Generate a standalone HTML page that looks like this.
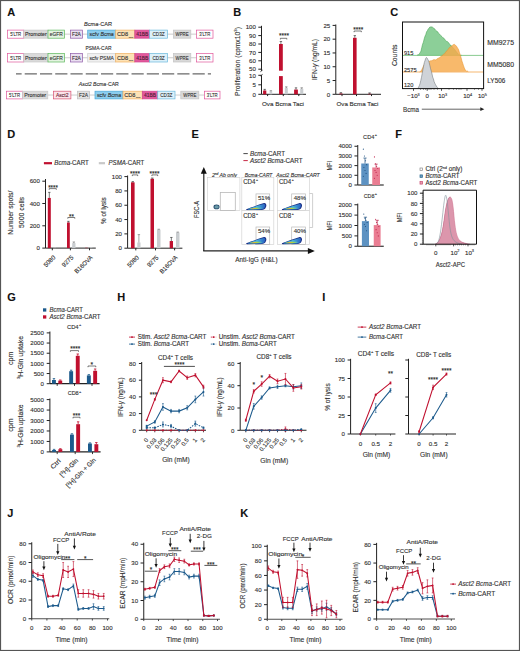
<!DOCTYPE html>
<html><head><meta charset="utf-8"><style>
html,body{margin:0;padding:0;background:#fff;}
svg{display:block;font-family:"Liberation Sans", sans-serif;}
text{stroke:#2a2a2a;stroke-width:0.12px;}
</style></head><body>
<svg width="520" height="651" viewBox="0 0 520 651" fill="#333">
<defs><linearGradient id="bg1" x1="0" y1="0" x2="1" y2="0"><stop offset="0" stop-color="#3aa0d8"/><stop offset="0.5" stop-color="#48b8e0"/><stop offset="1" stop-color="#2a60c0"/></linearGradient><linearGradient id="bg2" x1="0" y1="0" x2="1" y2="0"><stop offset="0" stop-color="#7cc850"/><stop offset="0.35" stop-color="#e8b030"/><stop offset="0.6" stop-color="#a8d840"/><stop offset="1" stop-color="#50c0d0"/></linearGradient></defs>
<rect x="0" y="0" width="520" height="651" fill="#fff"/>
<text x="7.30" y="16.00" font-size="11" fill="#111" font-weight="bold" stroke="#111" stroke-width="0.45">A</text>
<text x="98" y="26.3" font-size="5.6" text-anchor="middle" fill="#333"><tspan font-style="italic">Bcma</tspan>-CAR</text>
<line x1="7.60" y1="34.15" x2="213.00" y2="34.15" stroke="#9a9a9a" stroke-width="0.5" />
<rect x="7.60" y="30.10" width="16.20" height="8.10" fill="#fff" stroke="#e0569b" stroke-width="0.7" />
<text x="15.70" y="36.25" font-size="5.9" text-anchor="middle" textLength="10.90" lengthAdjust="spacingAndGlyphs">5'LTR</text>
<rect x="23.80" y="30.10" width="24.20" height="8.10" fill="#dadada" stroke="#c8c8c8" stroke-width="0.7" />
<text x="35.90" y="36.25" font-size="5.9" text-anchor="middle" textLength="21.80" lengthAdjust="spacingAndGlyphs">Promoter</text>
<rect x="48.00" y="30.10" width="16.60" height="8.10" fill="#e3f3e0" stroke="#5cb85c" stroke-width="0.7" />
<text x="56.30" y="36.25" font-size="5.9" text-anchor="middle" textLength="13.10" lengthAdjust="spacingAndGlyphs">eGFR</text>
<rect x="70.40" y="30.10" width="12.00" height="8.10" fill="#eadff0" stroke="#8e5aa8" stroke-width="0.7" />
<text x="76.40" y="36.25" font-size="5.9" text-anchor="middle" textLength="9.00" lengthAdjust="spacingAndGlyphs">F2A</text>
<rect x="87.70" y="30.10" width="28.00" height="8.10" fill="#8ccdee" stroke="#4aa8d8" stroke-width="0.7" />
<text x="101.70" y="36.25" font-size="5.9" text-anchor="middle"></text>
<text x="101.70" y="36.25" font-size="5.9" text-anchor="middle" fill="#333" textLength="24.2" lengthAdjust="spacingAndGlyphs">scfv <tspan font-style="italic">Bcma</tspan></text>
<rect x="115.70" y="30.10" width="19.10" height="8.10" fill="#fde2b5" stroke="#f0b060" stroke-width="0.7" />
<text x="117.00" y="36.25" font-size="5.9" fill="#333" textLength="11.2" lengthAdjust="spacingAndGlyphs">CD8</text>
<text x="128.70" y="37.55" font-size="2.4" fill="#666" stroke="none" textLength="4.5" lengthAdjust="spacingAndGlyphs">hinge/TM</text>
<rect x="134.80" y="30.10" width="14.80" height="8.10" fill="#e2589c" stroke="#d04890" stroke-width="0.7" />
<text x="142.20" y="36.25" font-size="5.9" text-anchor="middle" fill="#5a1838" textLength="11.90" lengthAdjust="spacingAndGlyphs">41BB</text>
<rect x="149.60" y="30.10" width="17.80" height="8.10" fill="#dcf0f9" stroke="#6ab8dc" stroke-width="0.7" />
<text x="158.50" y="36.25" font-size="5.9" text-anchor="middle" textLength="12.20" lengthAdjust="spacingAndGlyphs">CD3Z</text>
<rect x="173.40" y="30.10" width="17.40" height="8.10" fill="#d9d9d9" stroke="#c4c4c4" stroke-width="0.7" />
<text x="182.10" y="36.25" font-size="5.9" text-anchor="middle" textLength="13.00" lengthAdjust="spacingAndGlyphs">WPRE</text>
<rect x="196.50" y="30.10" width="16.50" height="8.10" fill="#fff" stroke="#e0569b" stroke-width="0.7" />
<text x="204.75" y="36.25" font-size="5.9" text-anchor="middle" textLength="11.00" lengthAdjust="spacingAndGlyphs">3'LTR</text>
<text x="98.50" y="50.30" font-size="5.6" text-anchor="middle" textLength="26.00" lengthAdjust="spacingAndGlyphs">PSMA-CAR</text>
<line x1="7.60" y1="57.75" x2="213.00" y2="57.75" stroke="#9a9a9a" stroke-width="0.5" />
<rect x="7.60" y="53.50" width="16.20" height="8.50" fill="#fff" stroke="#e0569b" stroke-width="0.7" />
<text x="15.70" y="59.85" font-size="5.9" text-anchor="middle" textLength="10.90" lengthAdjust="spacingAndGlyphs">5'LTR</text>
<rect x="23.80" y="53.50" width="24.20" height="8.50" fill="#dadada" stroke="#c8c8c8" stroke-width="0.7" />
<text x="35.90" y="59.85" font-size="5.9" text-anchor="middle" textLength="21.80" lengthAdjust="spacingAndGlyphs">Promoter</text>
<rect x="48.00" y="53.50" width="16.60" height="8.50" fill="#e3f3e0" stroke="#5cb85c" stroke-width="0.7" />
<text x="56.30" y="59.85" font-size="5.9" text-anchor="middle" textLength="13.10" lengthAdjust="spacingAndGlyphs">eGFR</text>
<rect x="70.40" y="53.50" width="12.00" height="8.50" fill="#eadff0" stroke="#8e5aa8" stroke-width="0.7" />
<text x="76.40" y="59.85" font-size="5.9" text-anchor="middle" textLength="9.00" lengthAdjust="spacingAndGlyphs">F2A</text>
<rect x="87.70" y="53.50" width="28.00" height="8.50" fill="#f0f0f0" stroke="#cfcfcf" stroke-width="0.7" />
<text x="101.70" y="59.85" font-size="5.9" text-anchor="middle" textLength="24.50" lengthAdjust="spacingAndGlyphs">scfv PSMA</text>
<rect x="115.70" y="53.50" width="19.10" height="8.50" fill="#fde2b5" stroke="#f0b060" stroke-width="0.7" />
<text x="117.00" y="59.85" font-size="5.9" fill="#333" textLength="11.2" lengthAdjust="spacingAndGlyphs">CD8</text>
<text x="128.70" y="61.15" font-size="2.4" fill="#666" stroke="none" textLength="4.5" lengthAdjust="spacingAndGlyphs">hinge/TM</text>
<rect x="134.80" y="53.50" width="14.80" height="8.50" fill="#e2589c" stroke="#d04890" stroke-width="0.7" />
<text x="142.20" y="59.85" font-size="5.9" text-anchor="middle" fill="#5a1838" textLength="11.90" lengthAdjust="spacingAndGlyphs">41BB</text>
<rect x="149.60" y="53.50" width="17.80" height="8.50" fill="#dcf0f9" stroke="#6ab8dc" stroke-width="0.7" />
<text x="158.50" y="59.85" font-size="5.9" text-anchor="middle" textLength="12.20" lengthAdjust="spacingAndGlyphs">CD3Z</text>
<rect x="173.40" y="53.50" width="17.40" height="8.50" fill="#d9d9d9" stroke="#c4c4c4" stroke-width="0.7" />
<text x="182.10" y="59.85" font-size="5.9" text-anchor="middle" textLength="13.00" lengthAdjust="spacingAndGlyphs">WPRE</text>
<rect x="196.50" y="53.50" width="16.50" height="8.50" fill="#fff" stroke="#e0569b" stroke-width="0.7" />
<text x="204.75" y="59.85" font-size="5.9" text-anchor="middle" textLength="11.00" lengthAdjust="spacingAndGlyphs">3'LTR</text>
<line x1="16.00" y1="73.80" x2="211.00" y2="73.80" stroke="#6a6a6a" stroke-width="1.3" stroke-dasharray="12.2 3.06" stroke-dashoffset="6.56"/>
<text x="98.8" y="85.8" font-size="5.6" text-anchor="middle" fill="#333" font-style="italic" textLength="40" lengthAdjust="spacingAndGlyphs">Asct2 Bcma<tspan font-style="normal">-CAR</tspan></text>
<line x1="6.50" y1="95.05" x2="220.00" y2="95.05" stroke="#9a9a9a" stroke-width="0.5" />
<rect x="6.50" y="91.20" width="16.10" height="7.70" fill="#fff" stroke="#e0569b" stroke-width="0.7" />
<text x="14.55" y="97.15" font-size="5.9" text-anchor="middle" textLength="10.90" lengthAdjust="spacingAndGlyphs">5'LTR</text>
<rect x="22.60" y="91.20" width="25.20" height="7.70" fill="#dadada" stroke="#c8c8c8" stroke-width="0.7" />
<text x="35.20" y="97.15" font-size="5.9" text-anchor="middle" textLength="21.80" lengthAdjust="spacingAndGlyphs">Promoter</text>
<rect x="53.60" y="91.20" width="17.30" height="7.70" fill="#fbe3ea" stroke="#d85070" stroke-width="0.7" />
<text x="62.25" y="97.15" font-size="5.9" text-anchor="middle" fill="#8a2038" textLength="12.50" lengthAdjust="spacingAndGlyphs">Asct2</text>
<rect x="77.40" y="91.20" width="12.20" height="7.70" fill="#e2e2e2" stroke="#bdbdbd" stroke-width="0.7" />
<text x="83.50" y="97.15" font-size="5.9" text-anchor="middle" textLength="9.00" lengthAdjust="spacingAndGlyphs">F2A</text>
<rect x="95.00" y="91.20" width="28.00" height="7.70" fill="#8ccdee" stroke="#4aa8d8" stroke-width="0.7" />
<text x="109.00" y="97.15" font-size="5.9" text-anchor="middle"></text>
<text x="109.00" y="97.15" font-size="5.9" text-anchor="middle" fill="#333" textLength="24.2" lengthAdjust="spacingAndGlyphs">scfv <tspan font-style="italic">Bcma</tspan></text>
<rect x="123.00" y="91.20" width="19.30" height="7.70" fill="#fde2b5" stroke="#f0b060" stroke-width="0.7" />
<text x="124.30" y="97.15" font-size="5.9" fill="#333" textLength="11.2" lengthAdjust="spacingAndGlyphs">CD8</text>
<text x="136.00" y="98.45" font-size="2.4" fill="#666" stroke="none" textLength="4.5" lengthAdjust="spacingAndGlyphs">hinge/TM</text>
<rect x="142.30" y="91.20" width="15.40" height="7.70" fill="#e2589c" stroke="#d04890" stroke-width="0.7" />
<text x="150.00" y="97.15" font-size="5.9" text-anchor="middle" fill="#5a1838" textLength="11.90" lengthAdjust="spacingAndGlyphs">41BB</text>
<rect x="157.70" y="91.20" width="17.30" height="7.70" fill="#dcf0f9" stroke="#6ab8dc" stroke-width="0.7" />
<text x="166.35" y="97.15" font-size="5.9" text-anchor="middle" textLength="12.20" lengthAdjust="spacingAndGlyphs">CD3Z</text>
<rect x="180.80" y="91.20" width="18.00" height="7.70" fill="#d9d9d9" stroke="#c4c4c4" stroke-width="0.7" />
<text x="189.80" y="97.15" font-size="5.9" text-anchor="middle" textLength="13.00" lengthAdjust="spacingAndGlyphs">WPRE</text>
<rect x="204.40" y="91.20" width="15.60" height="7.70" fill="#fff" stroke="#e0569b" stroke-width="0.7" />
<text x="212.20" y="97.15" font-size="5.9" text-anchor="middle" textLength="11.00" lengthAdjust="spacingAndGlyphs">3'LTR</text>
<text x="233.20" y="16.20" font-size="11" fill="#111" font-weight="bold" stroke="#111" stroke-width="0.45">B</text>
<line x1="261.50" y1="25.80" x2="261.50" y2="70.90" stroke="#222" stroke-width="1.0" />
<line x1="261.50" y1="75.20" x2="261.50" y2="94.30" stroke="#222" stroke-width="1.0" />
<path d="M260.30,71.8 L262.70,70.0" fill="none" stroke="#222" stroke-width="0.7" />
<path d="M260.30,76.0 L262.70,74.3" fill="none" stroke="#222" stroke-width="0.7" />
<line x1="258.30" y1="27.20" x2="261.50" y2="27.20" stroke="#222" stroke-width="1.0" />
<text x="255.90" y="29.40" font-size="6.1" text-anchor="end">100</text>
<line x1="258.30" y1="35.60" x2="261.50" y2="35.60" stroke="#222" stroke-width="1.0" />
<text x="255.90" y="37.80" font-size="6.1" text-anchor="end">90</text>
<line x1="258.30" y1="44.00" x2="261.50" y2="44.00" stroke="#222" stroke-width="1.0" />
<text x="255.90" y="46.20" font-size="6.1" text-anchor="end">80</text>
<line x1="258.30" y1="52.40" x2="261.50" y2="52.40" stroke="#222" stroke-width="1.0" />
<text x="255.90" y="54.60" font-size="6.1" text-anchor="end">70</text>
<line x1="258.30" y1="60.80" x2="261.50" y2="60.80" stroke="#222" stroke-width="1.0" />
<text x="255.90" y="63.00" font-size="6.1" text-anchor="end">60</text>
<line x1="258.30" y1="69.20" x2="261.50" y2="69.20" stroke="#222" stroke-width="1.0" />
<text x="255.90" y="71.40" font-size="6.1" text-anchor="end">50</text>
<line x1="258.30" y1="75.30" x2="261.50" y2="75.30" stroke="#222" stroke-width="1.0" />
<text x="255.90" y="77.50" font-size="6.1" text-anchor="end">10</text>
<line x1="258.30" y1="84.80" x2="261.50" y2="84.80" stroke="#222" stroke-width="1.0" />
<text x="255.90" y="87.00" font-size="6.1" text-anchor="end">5</text>
<line x1="258.30" y1="94.30" x2="261.50" y2="94.30" stroke="#222" stroke-width="1.0" />
<text x="255.90" y="96.50" font-size="6.1" text-anchor="end">0</text>
<line x1="261.50" y1="94.30" x2="306.00" y2="94.30" stroke="#222" stroke-width="1.0" />
<line x1="267.60" y1="94.30" x2="267.60" y2="96.10" stroke="#222" stroke-width="1.0" />
<line x1="283.30" y1="94.30" x2="283.30" y2="96.10" stroke="#222" stroke-width="1.0" />
<line x1="298.80" y1="94.30" x2="298.80" y2="96.10" stroke="#222" stroke-width="1.0" />
<text x="283.00" y="105.50" font-size="6.1" text-anchor="middle" textLength="42.00" lengthAdjust="spacingAndGlyphs">Ova Bcma Taci</text>
<rect x="263.10" y="90.50" width="3.20" height="3.80" fill="#c0102f" stroke="none" stroke-width="0.6" />
<line x1="264.70" y1="90.50" x2="264.70" y2="89.36" stroke="#222" stroke-width="0.6" />
<line x1="263.50" y1="89.36" x2="265.90" y2="89.36" stroke="#222" stroke-width="0.6" />
<rect x="269.60" y="91.26" width="2.60" height="3.04" fill="#c9cdd0" stroke="none" stroke-width="0.6" />
<line x1="270.90" y1="91.26" x2="270.90" y2="90.69" stroke="#666" stroke-width="0.6" />
<line x1="269.70" y1="90.69" x2="272.10" y2="90.69" stroke="#666" stroke-width="0.6" />
<rect x="279.00" y="44.00" width="3.80" height="26.70" fill="#c0102f" stroke="none" stroke-width="0.6" />
<rect x="279.00" y="76.10" width="3.80" height="18.20" fill="#c0102f" stroke="none" stroke-width="0.6" />
<line x1="280.90" y1="44.00" x2="280.90" y2="41.48" stroke="#222" stroke-width="0.6" />
<line x1="279.70" y1="41.48" x2="282.10" y2="41.48" stroke="#222" stroke-width="0.6" />
<rect x="284.80" y="88.03" width="3.00" height="6.27" fill="#c9cdd0" stroke="none" stroke-width="0.6" />
<line x1="286.30" y1="88.03" x2="286.30" y2="86.89" stroke="#555" stroke-width="0.6" />
<line x1="285.10" y1="86.89" x2="287.50" y2="86.89" stroke="#555" stroke-width="0.6" />
<rect x="294.10" y="89.55" width="3.80" height="4.75" fill="#c0102f" stroke="none" stroke-width="0.6" />
<line x1="296.00" y1="89.55" x2="296.00" y2="87.84" stroke="#222" stroke-width="0.6" />
<line x1="294.80" y1="87.84" x2="297.20" y2="87.84" stroke="#222" stroke-width="0.6" />
<rect x="300.20" y="88.79" width="3.10" height="5.51" fill="#c9cdd0" stroke="none" stroke-width="0.6" />
<line x1="301.70" y1="88.79" x2="301.70" y2="87.84" stroke="#555" stroke-width="0.6" />
<line x1="300.50" y1="87.84" x2="302.90" y2="87.84" stroke="#555" stroke-width="0.6" />
<text x="283.90" y="38.13" font-size="6.6" text-anchor="middle" fill="#222" textLength="10.00" lengthAdjust="spacingAndGlyphs">****</text>
<path d="M280.40,39.50 L280.40,38.30 L286.80,38.30 L286.80,39.50" fill="none" stroke="#222" stroke-width="0.6" />
<text x="239.6" y="61.5" font-size="7" text-anchor="middle" transform="rotate(-90 239.6 61.5)" textLength="69" lengthAdjust="spacingAndGlyphs">Proliferation (cpmx10<tspan font-size="4.4" dy="-2.6">3</tspan><tspan dy="2.6">)</tspan></text>
<line x1="335.80" y1="24.50" x2="335.80" y2="94.30" stroke="#222" stroke-width="1.0" />
<line x1="332.60" y1="25.40" x2="335.80" y2="25.40" stroke="#222" stroke-width="1.0" />
<text x="330.20" y="27.60" font-size="6.1" text-anchor="end">25</text>
<line x1="332.60" y1="39.18" x2="335.80" y2="39.18" stroke="#222" stroke-width="1.0" />
<text x="330.20" y="41.38" font-size="6.1" text-anchor="end">20</text>
<line x1="332.60" y1="52.96" x2="335.80" y2="52.96" stroke="#222" stroke-width="1.0" />
<text x="330.20" y="55.16" font-size="6.1" text-anchor="end">15</text>
<line x1="332.60" y1="66.74" x2="335.80" y2="66.74" stroke="#222" stroke-width="1.0" />
<text x="330.20" y="68.94" font-size="6.1" text-anchor="end">10</text>
<line x1="332.60" y1="80.52" x2="335.80" y2="80.52" stroke="#222" stroke-width="1.0" />
<text x="330.20" y="82.72" font-size="6.1" text-anchor="end">5</text>
<line x1="332.60" y1="94.30" x2="335.80" y2="94.30" stroke="#222" stroke-width="1.0" />
<text x="330.20" y="96.50" font-size="6.1" text-anchor="end">0</text>
<line x1="335.80" y1="94.30" x2="381.00" y2="94.30" stroke="#222" stroke-width="1.0" />
<line x1="342.00" y1="94.30" x2="342.00" y2="96.10" stroke="#222" stroke-width="1.0" />
<line x1="356.50" y1="94.30" x2="356.50" y2="96.10" stroke="#222" stroke-width="1.0" />
<line x1="371.50" y1="94.30" x2="371.50" y2="96.10" stroke="#222" stroke-width="1.0" />
<text x="357.40" y="105.50" font-size="6.1" text-anchor="middle" textLength="42.00" lengthAdjust="spacingAndGlyphs">Ova Bcma Taci</text>
<rect x="339.30" y="93.47" width="3.20" height="0.83" fill="#c0102f" stroke="none" stroke-width="0.6" />
<line x1="340.90" y1="93.47" x2="340.90" y2="92.65" stroke="#222" stroke-width="0.6" />
<line x1="339.70" y1="92.65" x2="342.10" y2="92.65" stroke="#222" stroke-width="0.6" />
<rect x="353.00" y="37.80" width="3.60" height="56.50" fill="#c0102f" stroke="none" stroke-width="0.6" />
<line x1="354.80" y1="37.80" x2="354.80" y2="35.60" stroke="#222" stroke-width="0.6" />
<line x1="353.60" y1="35.60" x2="356.00" y2="35.60" stroke="#222" stroke-width="0.6" />
<rect x="368.00" y="93.75" width="3.20" height="0.55" fill="#c0102f" stroke="none" stroke-width="0.6" />
<line x1="369.60" y1="93.75" x2="369.60" y2="92.92" stroke="#222" stroke-width="0.6" />
<line x1="368.40" y1="92.92" x2="370.80" y2="92.92" stroke="#222" stroke-width="0.6" />
<text x="358.20" y="31.63" font-size="6.6" text-anchor="middle" fill="#222" textLength="10.00" lengthAdjust="spacingAndGlyphs">****</text>
<path d="M354.10,32.20 L354.10,31.00 L361.30,31.00 L361.30,32.20" fill="none" stroke="#222" stroke-width="0.6" />
<text x="317.0" y="59.5" font-size="7" text-anchor="middle" transform="rotate(-90 317.0 59.5)" textLength="41" lengthAdjust="spacingAndGlyphs">IFN-<tspan font-style="italic">γ</tspan> (ng/mL)</text>
<text x="390.20" y="16.20" font-size="11" fill="#111" font-weight="bold" stroke="#111" stroke-width="0.45">C</text>
<path d="M417.00,55.40 L417.80,54.80 L418.60,54.72 L419.40,53.68 L420.20,52.49 L421.00,51.11 L421.80,47.41 L422.60,44.21 L423.40,42.15 L424.20,38.83 L425.00,36.26 L425.80,34.55 L426.60,31.80 L427.40,30.73 L428.20,29.00 L429.00,28.20 L429.80,27.08 L430.60,26.91 L431.40,27.01 L432.20,26.81 L433.00,27.77 L433.80,28.46 L434.60,28.71 L435.40,30.13 L436.20,30.78 L437.00,31.32 L437.80,31.88 L438.60,33.43 L439.40,33.88 L440.20,34.90 L441.00,35.84 L441.80,36.49 L442.60,37.48 L443.40,37.81 L444.20,38.97 L445.00,39.45 L445.80,40.69 L446.60,41.44 L447.40,41.54 L448.20,42.37 L449.00,43.25 L449.80,44.72 L450.60,45.04 L451.40,46.01 L452.20,46.55 L453.00,47.67 L453.80,48.50 L454.60,49.40 L455.40,50.56 L456.20,51.52 L457.00,52.76 L457.80,53.44 L458.60,54.39 L459.40,55.05 L460.20,55.53 L461.00,55.23 L461.80,55.37 Z" fill="#8ccf98" stroke="none" stroke-width="0.8" />
<path d="M417.00,55.40 L417.80,54.80 L418.60,54.72 L419.40,53.68 L420.20,52.49 L421.00,51.11 L421.80,47.41 L422.60,44.21 L423.40,42.15 L424.20,38.83 L425.00,36.26 L425.80,34.55 L426.60,31.80 L427.40,30.73 L428.20,29.00 L429.00,28.20 L429.80,27.08 L430.60,26.91 L431.40,27.01 L432.20,26.81 L433.00,27.77 L433.80,28.46 L434.60,28.71 L435.40,30.13 L436.20,30.78 L437.00,31.32 L437.80,31.88 L438.60,33.43 L439.40,33.88 L440.20,34.90 L441.00,35.84 L441.80,36.49 L442.60,37.48 L443.40,37.81 L444.20,38.97 L445.00,39.45 L445.80,40.69 L446.60,41.44 L447.40,41.54 L448.20,42.37 L449.00,43.25 L449.80,44.72 L450.60,45.04 L451.40,46.01 L452.20,46.55 L453.00,47.67 L453.80,48.50 L454.60,49.40 L455.40,50.56 L456.20,51.52 L457.00,52.76 L457.80,53.44 L458.60,54.39 L459.40,55.05 L460.20,55.53 L461.00,55.23 L461.80,55.37" fill="none" stroke="#3f9f4c" stroke-width="0.55" />
<line x1="402.50" y1="55.40" x2="483.60" y2="55.40" stroke="#6cbc74" stroke-width="0.8" />
<path d="M419.50,72.00 L420.30,71.56 L421.10,70.99 L421.90,69.44 L422.70,67.89 L423.50,65.86 L424.30,64.54 L425.10,63.02 L425.90,62.57 L426.70,62.62 L427.50,62.12 L428.30,62.05 L429.10,61.16 L429.90,61.18 L430.70,60.73 L431.50,60.70 L432.30,60.48 L433.10,59.84 L433.90,59.80 L434.70,59.65 L435.50,59.96 L436.30,59.56 L437.10,58.68 L437.90,58.79 L438.70,57.86 L439.50,57.84 L440.30,56.94 L441.10,56.14 L441.90,56.13 L442.70,54.91 L443.50,54.21 L444.30,54.04 L445.10,53.01 L445.90,51.61 L446.70,51.22 L447.50,49.95 L448.30,49.13 L449.10,47.81 L449.90,47.47 L450.70,46.59 L451.50,46.17 L452.30,45.47 L453.10,44.69 L453.90,44.54 L454.70,44.43 L455.50,45.22 L456.30,46.03 L457.10,47.22 L457.90,48.46 L458.70,50.03 L459.50,52.77 L460.30,54.92 L461.10,57.70 L461.90,60.90 L462.70,63.26 L463.50,65.73 L464.30,68.01 L465.10,69.59 L465.90,70.47 L466.70,71.61 L467.50,71.12 L468.30,71.77 Z" fill="#f7a94a" stroke="none" stroke-width="0.8" fill-opacity="0.82"/>
<path d="M419.50,72.00 L420.30,71.56 L421.10,70.99 L421.90,69.44 L422.70,67.89 L423.50,65.86 L424.30,64.54 L425.10,63.02 L425.90,62.57 L426.70,62.62 L427.50,62.12 L428.30,62.05 L429.10,61.16 L429.90,61.18 L430.70,60.73 L431.50,60.70 L432.30,60.48 L433.10,59.84 L433.90,59.80 L434.70,59.65 L435.50,59.96 L436.30,59.56 L437.10,58.68 L437.90,58.79 L438.70,57.86 L439.50,57.84 L440.30,56.94 L441.10,56.14 L441.90,56.13 L442.70,54.91 L443.50,54.21 L444.30,54.04 L445.10,53.01 L445.90,51.61 L446.70,51.22 L447.50,49.95 L448.30,49.13 L449.10,47.81 L449.90,47.47 L450.70,46.59 L451.50,46.17 L452.30,45.47 L453.10,44.69 L453.90,44.54 L454.70,44.43 L455.50,45.22 L456.30,46.03 L457.10,47.22 L457.90,48.46 L458.70,50.03 L459.50,52.77 L460.30,54.92 L461.10,57.70 L461.90,60.90 L462.70,63.26 L463.50,65.73 L464.30,68.01 L465.10,69.59 L465.90,70.47 L466.70,71.61 L467.50,71.12 L468.30,71.77" fill="none" stroke="#e8922a" stroke-width="0.55" />
<line x1="402.50" y1="72.00" x2="483.60" y2="72.00" stroke="#f3a54c" stroke-width="0.8" />
<path d="M418.00,88.30 L418.70,86.87 L419.40,85.44 L420.10,83.41 L420.80,80.43 L421.50,77.36 L422.20,73.51 L422.90,69.56 L423.60,66.14 L424.30,62.68 L425.00,60.62 L425.70,58.42 L426.40,57.45 L427.10,58.09 L427.80,59.43 L428.50,60.57 L429.20,62.61 L429.90,65.69 L430.60,68.71 L431.30,71.25 L432.00,73.93 L432.70,77.13 L433.40,78.88 L434.10,81.55 L434.80,83.25 L435.50,84.58 L436.20,85.71 L436.90,87.00 L437.60,87.70 L438.30,88.17 Z" fill="#cfd3d8" stroke="none" stroke-width="0.8" />
<path d="M418.00,88.30 L418.70,86.87 L419.40,85.44 L420.10,83.41 L420.80,80.43 L421.50,77.36 L422.20,73.51 L422.90,69.56 L423.60,66.14 L424.30,62.68 L425.00,60.62 L425.70,58.42 L426.40,57.45 L427.10,58.09 L427.80,59.43 L428.50,60.57 L429.20,62.61 L429.90,65.69 L430.60,68.71 L431.30,71.25 L432.00,73.93 L432.70,77.13 L433.40,78.88 L434.10,81.55 L434.80,83.25 L435.50,84.58 L436.20,85.71 L436.90,87.00 L437.60,87.70 L438.30,88.17" fill="none" stroke="#6e7378" stroke-width="0.55" />
<rect x="402.50" y="22.00" width="81.10" height="66.60" fill="none" stroke="#111" stroke-width="1.0" />
<text x="403.90" y="55.00" font-size="6.1" textLength="9.60" lengthAdjust="spacingAndGlyphs">915</text>
<text x="403.90" y="71.50" font-size="6.1" textLength="12.70" lengthAdjust="spacingAndGlyphs">2575</text>
<text x="403.90" y="87.20" font-size="6.1" textLength="9.60" lengthAdjust="spacingAndGlyphs">120</text>
<text x="487.30" y="44.90" font-size="6.3" textLength="26.70" lengthAdjust="spacingAndGlyphs">MM9275</text>
<text x="487.30" y="67.00" font-size="6.3" textLength="26.70" lengthAdjust="spacingAndGlyphs">MM5080</text>
<text x="487.30" y="82.60" font-size="6.3" textLength="18.00" lengthAdjust="spacingAndGlyphs">LY506</text>
<line x1="413.50" y1="88.60" x2="413.50" y2="90.80" stroke="#222" stroke-width="0.8" />
<line x1="427.20" y1="88.60" x2="427.20" y2="90.80" stroke="#222" stroke-width="0.8" />
<line x1="441.50" y1="88.60" x2="441.50" y2="90.80" stroke="#222" stroke-width="0.8" />
<line x1="467.00" y1="88.60" x2="467.00" y2="90.80" stroke="#222" stroke-width="0.8" />
<line x1="482.00" y1="88.60" x2="482.00" y2="90.80" stroke="#222" stroke-width="0.8" />
<line x1="420.50" y1="88.60" x2="420.50" y2="89.80" stroke="#222" stroke-width="0.5" />
<line x1="423.50" y1="88.60" x2="423.50" y2="89.80" stroke="#222" stroke-width="0.5" />
<line x1="425.50" y1="88.60" x2="425.50" y2="89.80" stroke="#222" stroke-width="0.5" />
<line x1="429.00" y1="88.60" x2="429.00" y2="89.80" stroke="#222" stroke-width="0.5" />
<line x1="431.00" y1="88.60" x2="431.00" y2="89.80" stroke="#222" stroke-width="0.5" />
<line x1="434.00" y1="88.60" x2="434.00" y2="89.80" stroke="#222" stroke-width="0.5" />
<line x1="437.50" y1="88.60" x2="437.50" y2="89.80" stroke="#222" stroke-width="0.5" />
<line x1="449.00" y1="88.60" x2="449.00" y2="89.80" stroke="#222" stroke-width="0.5" />
<line x1="453.50" y1="88.60" x2="453.50" y2="89.80" stroke="#222" stroke-width="0.5" />
<line x1="456.50" y1="88.60" x2="456.50" y2="89.80" stroke="#222" stroke-width="0.5" />
<line x1="459.00" y1="88.60" x2="459.00" y2="89.80" stroke="#222" stroke-width="0.5" />
<line x1="461.00" y1="88.60" x2="461.00" y2="89.80" stroke="#222" stroke-width="0.5" />
<line x1="474.50" y1="88.60" x2="474.50" y2="89.80" stroke="#222" stroke-width="0.5" />
<line x1="478.50" y1="88.60" x2="478.50" y2="89.80" stroke="#222" stroke-width="0.5" />
<text x="413.5" y="98.2" font-size="6.1" text-anchor="middle">−10<tspan font-size="3.8" dy="-2.3">3</tspan></text>
<text x="427.20" y="98.20" font-size="6.1" text-anchor="middle">0</text>
<text x="442.6" y="98.2" font-size="6.1" text-anchor="middle">10<tspan font-size="3.8" dy="-2.3">3</tspan></text>
<text x="467.6" y="98.2" font-size="6.1" text-anchor="middle">10<tspan font-size="3.8" dy="-2.3">4</tspan></text>
<text x="482.4" y="98.2" font-size="6.1" text-anchor="middle">10<tspan font-size="3.8" dy="-2.3">5</tspan></text>
<text x="403.00" y="111.50" font-size="6.8" textLength="16.00" lengthAdjust="spacingAndGlyphs">Bcma</text>
<line x1="421.80" y1="109.20" x2="481.50" y2="109.20" stroke="#222" stroke-width="0.7" />
<path d="M484.3,109.2 L480.3,107.3 L480.3,111.1 Z" fill="#222" stroke="none" stroke-width="0.8" />
<text x="397.00" y="55.30" font-size="7" text-anchor="middle" textLength="21.50" lengthAdjust="spacingAndGlyphs" transform="rotate(-90 397.00 55.30)">Counts</text>
<text x="7.20" y="138.00" font-size="11" fill="#111" font-weight="bold" stroke="#111" stroke-width="0.45">D</text>
<line x1="43.90" y1="163.20" x2="52.00" y2="163.20" stroke="#c0102f" stroke-width="2.2" />
<text x="54.3" y="165.3" font-size="6.4" textLength="34.5" lengthAdjust="spacingAndGlyphs"><tspan font-style="italic">Bcma</tspan>-CART</text>
<line x1="98.80" y1="163.20" x2="105.00" y2="163.20" stroke="#c8c8c8" stroke-width="2.2" />
<text x="108.5" y="165.3" font-size="6.4" textLength="35.8" lengthAdjust="spacingAndGlyphs"><tspan font-style="italic">PSMA</tspan>-CART</text>
<line x1="45.50" y1="179.00" x2="45.50" y2="248.10" stroke="#222" stroke-width="1.0" />
<line x1="42.30" y1="181.20" x2="45.50" y2="181.20" stroke="#222" stroke-width="1.0" />
<text x="39.90" y="183.40" font-size="6.1" text-anchor="end">600</text>
<line x1="42.30" y1="203.50" x2="45.50" y2="203.50" stroke="#222" stroke-width="1.0" />
<text x="39.90" y="205.70" font-size="6.1" text-anchor="end">400</text>
<line x1="42.30" y1="225.80" x2="45.50" y2="225.80" stroke="#222" stroke-width="1.0" />
<text x="39.90" y="228.00" font-size="6.1" text-anchor="end">200</text>
<line x1="42.30" y1="248.10" x2="45.50" y2="248.10" stroke="#222" stroke-width="1.0" />
<text x="39.90" y="250.30" font-size="6.1" text-anchor="end">0</text>
<line x1="45.50" y1="248.10" x2="95.80" y2="248.10" stroke="#222" stroke-width="1.0" />
<line x1="52.30" y1="248.10" x2="52.30" y2="250.30" stroke="#222" stroke-width="1.0" />
<line x1="70.40" y1="248.10" x2="70.40" y2="250.30" stroke="#222" stroke-width="1.0" />
<line x1="89.50" y1="248.10" x2="89.50" y2="250.30" stroke="#222" stroke-width="1.0" />
<rect x="47.80" y="197.92" width="3.00" height="50.18" fill="#c0102f" stroke="none" stroke-width="0.6" />
<line x1="49.30" y1="197.92" x2="49.30" y2="192.35" stroke="#222" stroke-width="0.6" />
<line x1="48.10" y1="192.35" x2="50.50" y2="192.35" stroke="#222" stroke-width="0.6" />
<rect x="53.50" y="247.65" width="2.60" height="0.45" fill="#c9cdd0" stroke="none" stroke-width="0.6" />
<rect x="67.00" y="222.45" width="2.80" height="25.65" fill="#c0102f" stroke="none" stroke-width="0.6" />
<line x1="68.40" y1="222.45" x2="68.40" y2="221.34" stroke="#222" stroke-width="0.6" />
<line x1="67.20" y1="221.34" x2="69.60" y2="221.34" stroke="#222" stroke-width="0.6" />
<rect x="72.20" y="243.08" width="3.30" height="5.02" fill="#c9cdd0" stroke="none" stroke-width="0.6" />
<line x1="73.85" y1="243.08" x2="73.85" y2="241.97" stroke="#666" stroke-width="0.6" />
<line x1="72.65" y1="241.97" x2="75.05" y2="241.97" stroke="#666" stroke-width="0.6" />
<rect x="85.20" y="247.77" width="2.60" height="0.33" fill="#c0102f" stroke="none" stroke-width="0.6" />
<rect x="90.00" y="247.43" width="2.40" height="0.67" fill="#c9cdd0" stroke="none" stroke-width="0.6" />
<text x="53.00" y="189.83" font-size="6.6" text-anchor="middle" fill="#222" textLength="9.60" lengthAdjust="spacingAndGlyphs">****</text>
<path d="M49.20,189.80 L49.20,188.60 L56.30,188.60 L56.30,189.80" fill="none" stroke="#222" stroke-width="0.6" />
<text x="71.50" y="218.83" font-size="6.6" text-anchor="middle" fill="#222" textLength="4.80" lengthAdjust="spacingAndGlyphs">**</text>
<path d="M67.80,218.70 L67.80,217.50 L74.80,217.50 L74.80,218.70" fill="none" stroke="#222" stroke-width="0.6" />
<text x="13.40" y="212.70" font-size="7" text-anchor="middle" textLength="44.00" lengthAdjust="spacingAndGlyphs" transform="rotate(-90 13.40 212.70)">Number spots/</text>
<text x="24.00" y="212.50" font-size="7" text-anchor="middle" textLength="31.00" lengthAdjust="spacingAndGlyphs" transform="rotate(-90 24.00 212.50)">5000 cells</text>
<text x="55.80" y="257.90" font-size="6.2" text-anchor="end" textLength="13.60" lengthAdjust="spacingAndGlyphs" transform="rotate(-45 55.80 257.90)">5080</text>
<text x="73.90" y="257.90" font-size="6.2" text-anchor="end" textLength="13.60" lengthAdjust="spacingAndGlyphs" transform="rotate(-45 73.90 257.90)">9275</text>
<text x="93.00" y="257.90" font-size="6.2" text-anchor="end" textLength="22.50" lengthAdjust="spacingAndGlyphs" transform="rotate(-45 93.00 257.90)">B16OVA</text>
<line x1="127.60" y1="175.50" x2="127.60" y2="248.20" stroke="#222" stroke-width="1.0" />
<line x1="124.40" y1="176.60" x2="127.60" y2="176.60" stroke="#222" stroke-width="1.0" />
<text x="122.00" y="178.80" font-size="6.1" text-anchor="end">100</text>
<line x1="124.40" y1="190.92" x2="127.60" y2="190.92" stroke="#222" stroke-width="1.0" />
<text x="122.00" y="193.12" font-size="6.1" text-anchor="end">80</text>
<line x1="124.40" y1="205.24" x2="127.60" y2="205.24" stroke="#222" stroke-width="1.0" />
<text x="122.00" y="207.44" font-size="6.1" text-anchor="end">60</text>
<line x1="124.40" y1="219.56" x2="127.60" y2="219.56" stroke="#222" stroke-width="1.0" />
<text x="122.00" y="221.76" font-size="6.1" text-anchor="end">40</text>
<line x1="124.40" y1="233.88" x2="127.60" y2="233.88" stroke="#222" stroke-width="1.0" />
<text x="122.00" y="236.08" font-size="6.1" text-anchor="end">20</text>
<line x1="124.40" y1="248.20" x2="127.60" y2="248.20" stroke="#222" stroke-width="1.0" />
<text x="122.00" y="250.40" font-size="6.1" text-anchor="end">0</text>
<line x1="127.60" y1="248.20" x2="182.40" y2="248.20" stroke="#222" stroke-width="1.0" />
<line x1="135.80" y1="248.20" x2="135.80" y2="250.40" stroke="#222" stroke-width="1.0" />
<line x1="155.50" y1="248.20" x2="155.50" y2="250.40" stroke="#222" stroke-width="1.0" />
<line x1="174.60" y1="248.20" x2="174.60" y2="250.40" stroke="#222" stroke-width="1.0" />
<rect x="131.00" y="182.33" width="3.60" height="65.87" fill="#c0102f" stroke="none" stroke-width="0.6" />
<line x1="132.80" y1="182.33" x2="132.80" y2="181.61" stroke="#222" stroke-width="0.6" />
<line x1="131.60" y1="181.61" x2="134.00" y2="181.61" stroke="#222" stroke-width="0.6" />
<rect x="137.30" y="242.47" width="3.20" height="5.73" fill="#c9cdd0" stroke="none" stroke-width="0.6" />
<line x1="138.90" y1="242.47" x2="138.90" y2="234.60" stroke="#666" stroke-width="0.6" />
<line x1="137.70" y1="234.60" x2="140.10" y2="234.60" stroke="#666" stroke-width="0.6" />
<rect x="150.50" y="178.75" width="3.50" height="69.45" fill="#c0102f" stroke="none" stroke-width="0.6" />
<line x1="152.25" y1="178.75" x2="152.25" y2="178.03" stroke="#222" stroke-width="0.6" />
<line x1="151.05" y1="178.03" x2="153.45" y2="178.03" stroke="#222" stroke-width="0.6" />
<rect x="157.00" y="229.58" width="3.50" height="18.62" fill="#c9cdd0" stroke="none" stroke-width="0.6" />
<line x1="158.75" y1="229.58" x2="158.75" y2="229.23" stroke="#666" stroke-width="0.6" />
<line x1="157.55" y1="229.23" x2="159.95" y2="229.23" stroke="#666" stroke-width="0.6" />
<rect x="169.70" y="241.04" width="3.30" height="7.16" fill="#c0102f" stroke="none" stroke-width="0.6" />
<line x1="171.35" y1="241.04" x2="171.35" y2="237.46" stroke="#222" stroke-width="0.6" />
<line x1="170.15" y1="237.46" x2="172.55" y2="237.46" stroke="#222" stroke-width="0.6" />
<rect x="176.00" y="232.45" width="3.50" height="15.75" fill="#c9cdd0" stroke="none" stroke-width="0.6" />
<line x1="177.75" y1="232.45" x2="177.75" y2="232.09" stroke="#666" stroke-width="0.6" />
<line x1="176.55" y1="232.09" x2="178.95" y2="232.09" stroke="#666" stroke-width="0.6" />
<text x="135.00" y="175.93" font-size="6.6" text-anchor="middle" fill="#222" textLength="10.00" lengthAdjust="spacingAndGlyphs">****</text>
<path d="M132.30,176.10 L132.30,174.90 L137.70,174.90 L137.70,176.10" fill="none" stroke="#222" stroke-width="0.6" />
<text x="154.40" y="175.93" font-size="6.6" text-anchor="middle" fill="#222" textLength="10.00" lengthAdjust="spacingAndGlyphs">****</text>
<path d="M151.90,176.10 L151.90,174.90 L157.70,174.90 L157.70,176.10" fill="none" stroke="#222" stroke-width="0.6" />
<text x="106.40" y="210.60" font-size="7" text-anchor="middle" textLength="26.60" lengthAdjust="spacingAndGlyphs" transform="rotate(-90 106.40 210.60)">% of lysis</text>
<text x="139.30" y="258.00" font-size="6.2" text-anchor="end" textLength="13.60" lengthAdjust="spacingAndGlyphs" transform="rotate(-45 139.30 258.00)">5080</text>
<text x="159.00" y="258.00" font-size="6.2" text-anchor="end" textLength="13.60" lengthAdjust="spacingAndGlyphs" transform="rotate(-45 159.00 258.00)">9275</text>
<text x="178.10" y="258.00" font-size="6.2" text-anchor="end" textLength="22.50" lengthAdjust="spacingAndGlyphs" transform="rotate(-45 178.10 258.00)">B16OVA</text>
<text x="191.60" y="138.00" font-size="11" fill="#111" font-weight="bold" stroke="#111" stroke-width="0.45">E</text>
<line x1="243.40" y1="153.60" x2="247.80" y2="153.60" stroke="#333" stroke-width="0.9" />
<text x="250" y="155.9" font-size="6.4" textLength="35" lengthAdjust="spacingAndGlyphs"><tspan font-style="italic">Bcma</tspan>-CART</text>
<line x1="243.40" y1="160.60" x2="247.80" y2="160.60" stroke="#c0102f" stroke-width="0.9" />
<text x="250" y="162.9" font-size="6.4" textLength="52.5" lengthAdjust="spacingAndGlyphs"><tspan font-style="italic">Asct2 Bcma</tspan>-CART</text>
<line x1="203.80" y1="172.50" x2="203.80" y2="250.90" stroke="#222" stroke-width="1.2" />
<path d="M203.8,167.1 L200.8,173.8 L206.8,173.8 Z" fill="#111" stroke="none" stroke-width="0.8" />
<line x1="203.20" y1="250.90" x2="308.50" y2="250.90" stroke="#222" stroke-width="1.2" />
<path d="M314.8,250.9 L307.9,247.9 L307.9,253.9 Z" fill="#111" stroke="none" stroke-width="0.8" />
<text x="199.00" y="209.50" font-size="7.2" text-anchor="middle" textLength="17.20" lengthAdjust="spacingAndGlyphs" transform="rotate(-90 199.00 209.50)">FSC-A</text>
<text x="256.40" y="261.60" font-size="7.4" text-anchor="middle" textLength="42.40" lengthAdjust="spacingAndGlyphs">Anti-IgG (H&amp;L)</text>
<text x="224.4" y="177.0" font-size="5.2" text-anchor="middle" font-style="italic" textLength="25" lengthAdjust="spacingAndGlyphs">2<tspan font-size="3.2" dy="-1.8">nd</tspan><tspan dy="1.8"> Ab only</tspan></text>
<text x="258.6" y="177.0" font-size="5.2" text-anchor="middle" font-style="italic" textLength="27.5" lengthAdjust="spacingAndGlyphs">Bcma-CART</text>
<text x="298.0" y="177.0" font-size="5.2" text-anchor="middle" font-style="italic" textLength="43.5" lengthAdjust="spacingAndGlyphs">Asct2 Bcma-CART</text>
<rect x="207.50" y="177.50" width="32.40" height="33.00" fill="#fff" stroke="#d4d4d4" stroke-width="0.7" />
<rect x="220.30" y="192.40" width="15.00" height="18.00" fill="none" stroke="#b8b8b8" stroke-width="0.8" />
<ellipse cx="216.5" cy="206.9" rx="3.0" ry="2.4" fill="#23486a"/>
<ellipse cx="216.6" cy="206.9" rx="2.2" ry="1.7" fill="#6a9aa8"/>
<rect x="241.80" y="177.50" width="32.00" height="33.00" fill="#fff" stroke="#d4d4d4" stroke-width="0.7" />
<rect x="256.00" y="193.90" width="13.70" height="16.60" fill="none" stroke="#b8b8b8" stroke-width="0.7" />
<text x="243.20" y="184.40" font-size="6.6" textLength="12.3" lengthAdjust="spacingAndGlyphs">CD4</text>
<text x="256.00" y="181.40" font-size="3.4" stroke-width="0.05">+</text>
<text x="270.10" y="199.60" font-size="6.2" text-anchor="end" textLength="12.10" lengthAdjust="spacingAndGlyphs">51%</text>
<path d="M246.20,209.20 C251.30,207.30 258.44,204.80 264.00,203.00 C266.00,202.50 266.90,205.20 266.00,207.00 C265.20,209.30 263.60,209.70 261.60,209.90 L247.70,210.20 C246.50,210.20 245.90,209.70 246.20,209.20 Z" fill="#1a2f86" stroke="none" stroke-width="0.8" />
<path d="M247.80,209.10 C252.32,207.30 258.44,205.40 263.80,204.00 C265.20,203.80 265.60,205.60 265.00,206.80 C264.20,208.70 263.10,209.10 261.40,209.30 L248.40,209.50 Z" fill="url(#bg1)" stroke="none" stroke-width="0.8" />
<path d="M249.00,209.00 C253.34,207.50 259.46,207.30 262.60,208.10 C258.44,209.20 253.34,209.40 249.00,209.00 Z" fill="url(#bg2)" stroke="none" stroke-width="0.8" />
<rect x="277.50" y="177.50" width="32.00" height="33.00" fill="#fff" stroke="#d4d4d4" stroke-width="0.7" />
<rect x="291.70" y="193.90" width="13.70" height="16.60" fill="none" stroke="#b8b8b8" stroke-width="0.7" />
<text x="278.90" y="184.40" font-size="6.6" textLength="12.3" lengthAdjust="spacingAndGlyphs">CD4</text>
<text x="291.70" y="181.40" font-size="3.4" stroke-width="0.05">+</text>
<text x="305.80" y="199.60" font-size="6.2" text-anchor="end" textLength="12.10" lengthAdjust="spacingAndGlyphs">48%</text>
<path d="M281.90,209.20 C287.00,207.30 294.14,204.80 299.70,203.00 C301.70,202.50 302.60,205.20 301.70,207.00 C300.90,209.30 299.30,209.70 297.30,209.90 L283.40,210.20 C282.20,210.20 281.60,209.70 281.90,209.20 Z" fill="#1a2f86" stroke="none" stroke-width="0.8" />
<path d="M283.50,209.10 C288.02,207.30 294.14,205.40 299.50,204.00 C300.90,203.80 301.30,205.60 300.70,206.80 C299.90,208.70 298.80,209.10 297.10,209.30 L284.10,209.50 Z" fill="url(#bg1)" stroke="none" stroke-width="0.8" />
<path d="M284.70,209.00 C289.04,207.50 295.16,207.30 298.30,208.10 C294.14,209.20 289.04,209.40 284.70,209.00 Z" fill="url(#bg2)" stroke="none" stroke-width="0.8" />
<rect x="241.80" y="210.60" width="32.00" height="34.00" fill="#fff" stroke="#d4d4d4" stroke-width="0.7" />
<rect x="256.00" y="227.00" width="13.70" height="17.60" fill="none" stroke="#b8b8b8" stroke-width="0.7" />
<text x="243.20" y="217.50" font-size="6.6" textLength="12.3" lengthAdjust="spacingAndGlyphs">CD8</text>
<text x="256.00" y="214.50" font-size="3.4" stroke-width="0.05">+</text>
<text x="270.10" y="232.70" font-size="6.2" text-anchor="end" textLength="12.10" lengthAdjust="spacingAndGlyphs">54%</text>
<path d="M246.20,243.30 C251.30,241.40 258.44,238.90 264.00,237.10 C266.00,236.60 266.90,239.30 266.00,241.10 C265.20,243.40 263.60,243.80 261.60,244.00 L247.70,244.30 C246.50,244.30 245.90,243.80 246.20,243.30 Z" fill="#1a2f86" stroke="none" stroke-width="0.8" />
<path d="M247.80,243.20 C252.32,241.40 258.44,239.50 263.80,238.10 C265.20,237.90 265.60,239.70 265.00,240.90 C264.20,242.80 263.10,243.20 261.40,243.40 L248.40,243.60 Z" fill="url(#bg1)" stroke="none" stroke-width="0.8" />
<path d="M249.00,243.10 C253.34,241.60 259.46,241.40 262.60,242.20 C258.44,243.30 253.34,243.50 249.00,243.10 Z" fill="url(#bg2)" stroke="none" stroke-width="0.8" />
<rect x="277.50" y="210.60" width="32.00" height="34.00" fill="#fff" stroke="#d4d4d4" stroke-width="0.7" />
<rect x="291.70" y="227.00" width="13.70" height="17.60" fill="none" stroke="#b8b8b8" stroke-width="0.7" />
<text x="278.90" y="217.50" font-size="6.6" textLength="12.3" lengthAdjust="spacingAndGlyphs">CD8</text>
<text x="291.70" y="214.50" font-size="3.4" stroke-width="0.05">+</text>
<text x="305.80" y="232.70" font-size="6.2" text-anchor="end" textLength="12.10" lengthAdjust="spacingAndGlyphs">40%</text>
<path d="M281.90,243.30 C287.00,241.40 294.14,238.90 299.70,237.10 C301.70,236.60 302.60,239.30 301.70,241.10 C300.90,243.40 299.30,243.80 297.30,244.00 L283.40,244.30 C282.20,244.30 281.60,243.80 281.90,243.30 Z" fill="#1a2f86" stroke="none" stroke-width="0.8" />
<path d="M283.50,243.20 C288.02,241.40 294.14,239.50 299.50,238.10 C300.90,237.90 301.30,239.70 300.70,240.90 C299.90,242.80 298.80,243.20 297.10,243.40 L284.10,243.60 Z" fill="url(#bg1)" stroke="none" stroke-width="0.8" />
<path d="M284.70,243.10 C289.04,241.60 295.16,241.40 298.30,242.20 C294.14,243.30 289.04,243.50 284.70,243.10 Z" fill="url(#bg2)" stroke="none" stroke-width="0.8" />
<path d="M309.6,193.5 L312.6,193.5 L312.6,227.5 L309.6,227.5" fill="none" stroke="#bbb" stroke-width="0.7" />
<text x="363.1" y="139.0" font-size="5.9" textLength="11.3" lengthAdjust="spacingAndGlyphs">CD4</text>
<text x="374.80" y="136.40" font-size="3.8">+</text>
<line x1="357.75" y1="145.00" x2="357.75" y2="185.00" stroke="#222" stroke-width="1.0" />
<line x1="354.45" y1="146.25" x2="357.75" y2="146.25" stroke="#222" stroke-width="1.0" />
<text x="351.95" y="148.45" font-size="6.1" text-anchor="end">4000</text>
<line x1="354.45" y1="155.94" x2="357.75" y2="155.94" stroke="#222" stroke-width="1.0" />
<text x="351.95" y="158.14" font-size="6.1" text-anchor="end">3000</text>
<line x1="354.45" y1="165.62" x2="357.75" y2="165.62" stroke="#222" stroke-width="1.0" />
<text x="351.95" y="167.82" font-size="6.1" text-anchor="end">2000</text>
<line x1="354.45" y1="175.31" x2="357.75" y2="175.31" stroke="#222" stroke-width="1.0" />
<text x="351.95" y="177.51" font-size="6.1" text-anchor="end">1000</text>
<line x1="354.45" y1="185.00" x2="357.75" y2="185.00" stroke="#222" stroke-width="1.0" />
<text x="351.95" y="187.20" font-size="6.1" text-anchor="end">0</text>
<line x1="357.75" y1="185.00" x2="383.75" y2="185.00" stroke="#222" stroke-width="1.1" />
<rect x="361.25" y="163.49" width="7.50" height="21.51" fill="#5d92c2" stroke="none" stroke-width="0.6" />
<line x1="365.00" y1="163.49" x2="365.00" y2="158.07" stroke="#1c4f80" stroke-width="0.7" />
<line x1="363.40" y1="158.07" x2="366.60" y2="158.07" stroke="#1c4f80" stroke-width="0.7" />
<rect x="372.25" y="167.47" width="7.75" height="17.53" fill="#ea7d92" stroke="none" stroke-width="0.6" />
<line x1="376.10" y1="167.47" x2="376.10" y2="164.17" stroke="#b82048" stroke-width="0.7" />
<line x1="374.50" y1="164.17" x2="377.70" y2="164.17" stroke="#b82048" stroke-width="0.7" />
<circle cx="363.35" cy="149.16" r="0.55" fill="#1c4f80"/>
<circle cx="364.45" cy="155.94" r="0.55" fill="#1c4f80"/>
<circle cx="365.55" cy="160.78" r="0.55" fill="#1c4f80"/>
<circle cx="366.65" cy="164.66" r="0.55" fill="#1c4f80"/>
<circle cx="363.90" cy="167.56" r="0.55" fill="#1c4f80"/>
<circle cx="365.00" cy="170.47" r="0.55" fill="#1c4f80"/>
<circle cx="366.10" cy="173.38" r="0.55" fill="#1c4f80"/>
<circle cx="363.35" cy="176.28" r="0.55" fill="#1c4f80"/>
<circle cx="374.45" cy="156.91" r="0.55" fill="#c0204a"/>
<circle cx="375.55" cy="163.69" r="0.55" fill="#c0204a"/>
<circle cx="376.65" cy="166.59" r="0.55" fill="#c0204a"/>
<circle cx="377.75" cy="168.53" r="0.55" fill="#c0204a"/>
<circle cx="375.00" cy="170.47" r="0.55" fill="#c0204a"/>
<circle cx="376.10" cy="172.41" r="0.55" fill="#c0204a"/>
<circle cx="377.20" cy="175.31" r="0.55" fill="#c0204a"/>
<circle cx="374.45" cy="178.22" r="0.55" fill="#c0204a"/>
<text x="332.00" y="165.80" font-size="6.8" text-anchor="middle" textLength="9.60" lengthAdjust="spacingAndGlyphs" transform="rotate(-90 332.00 165.80)">MFI</text>
<text x="363.75" y="197.7" font-size="5.9" textLength="10.6" lengthAdjust="spacingAndGlyphs">CD8</text>
<text x="374.80" y="195.10" font-size="3.8">+</text>
<line x1="357.75" y1="203.60" x2="357.75" y2="246.25" stroke="#222" stroke-width="1.0" />
<line x1="354.45" y1="204.75" x2="357.75" y2="204.75" stroke="#222" stroke-width="1.0" />
<text x="351.95" y="206.95" font-size="6.1" text-anchor="end">2000</text>
<line x1="354.45" y1="215.12" x2="357.75" y2="215.12" stroke="#222" stroke-width="1.0" />
<text x="351.95" y="217.32" font-size="6.1" text-anchor="end">1500</text>
<line x1="354.45" y1="225.50" x2="357.75" y2="225.50" stroke="#222" stroke-width="1.0" />
<text x="351.95" y="227.70" font-size="6.1" text-anchor="end">1000</text>
<line x1="354.45" y1="235.88" x2="357.75" y2="235.88" stroke="#222" stroke-width="1.0" />
<text x="351.95" y="238.07" font-size="6.1" text-anchor="end">500</text>
<line x1="354.45" y1="246.25" x2="357.75" y2="246.25" stroke="#222" stroke-width="1.0" />
<text x="351.95" y="248.45" font-size="6.1" text-anchor="end">0</text>
<line x1="357.75" y1="246.25" x2="383.75" y2="246.25" stroke="#222" stroke-width="1.1" />
<rect x="361.90" y="221.14" width="7.10" height="25.11" fill="#5d92c2" stroke="none" stroke-width="0.6" />
<line x1="365.45" y1="221.14" x2="365.45" y2="217.20" stroke="#1c4f80" stroke-width="0.7" />
<line x1="363.85" y1="217.20" x2="367.05" y2="217.20" stroke="#1c4f80" stroke-width="0.7" />
<rect x="373.75" y="225.09" width="6.85" height="21.16" fill="#ea7d92" stroke="none" stroke-width="0.6" />
<line x1="377.20" y1="225.09" x2="377.20" y2="220.31" stroke="#b82048" stroke-width="0.7" />
<line x1="375.60" y1="220.31" x2="378.80" y2="220.31" stroke="#b82048" stroke-width="0.7" />
<circle cx="363.80" cy="214.09" r="0.55" fill="#1c4f80"/>
<circle cx="364.90" cy="218.24" r="0.55" fill="#1c4f80"/>
<circle cx="366.00" cy="220.31" r="0.55" fill="#1c4f80"/>
<circle cx="367.10" cy="222.39" r="0.55" fill="#1c4f80"/>
<circle cx="364.35" cy="224.46" r="0.55" fill="#1c4f80"/>
<circle cx="365.45" cy="226.54" r="0.55" fill="#1c4f80"/>
<circle cx="366.55" cy="230.69" r="0.55" fill="#1c4f80"/>
<circle cx="375.55" cy="219.28" r="0.55" fill="#c0204a"/>
<circle cx="376.65" cy="222.39" r="0.55" fill="#c0204a"/>
<circle cx="377.75" cy="224.46" r="0.55" fill="#c0204a"/>
<circle cx="378.85" cy="226.54" r="0.55" fill="#c0204a"/>
<circle cx="376.10" cy="229.65" r="0.55" fill="#c0204a"/>
<circle cx="377.20" cy="232.76" r="0.55" fill="#c0204a"/>
<circle cx="378.30" cy="235.88" r="0.55" fill="#c0204a"/>
<text x="332.00" y="225.60" font-size="6.8" text-anchor="middle" textLength="9.60" lengthAdjust="spacingAndGlyphs" transform="rotate(-90 332.00 225.60)">MFI</text>
<text x="395.20" y="138.00" font-size="11" fill="#111" font-weight="bold" stroke="#111" stroke-width="0.45">F</text>
<rect x="420.00" y="168.00" width="2.50" height="2.50" fill="#fff" stroke="#888" stroke-width="0.7" />
<text x="425.4" y="171.4" font-size="6.4" textLength="37" lengthAdjust="spacingAndGlyphs">Ctrl (2<tspan font-size="3.8" dy="-2">nd</tspan><tspan dy="2"> only)</tspan></text>
<rect x="420.00" y="174.90" width="2.50" height="2.50" fill="#6a9cc0" stroke="#2a6a90" stroke-width="0.7" />
<text x="425.4" y="178.3" font-size="6.4" textLength="34" lengthAdjust="spacingAndGlyphs"><tspan font-style="italic">Bcma</tspan>-CART</text>
<rect x="420.00" y="181.60" width="2.50" height="2.50" fill="#e8a0b0" stroke="#c84870" stroke-width="0.7" />
<text x="425.4" y="185.0" font-size="6.4" textLength="52" lengthAdjust="spacingAndGlyphs">Asct2 <tspan font-style="italic">Bcma</tspan>-CART</text>
<path d="M436.00,244.20 C436.50,243.67 438.00,243.03 439.00,241.00 C440.00,238.97 441.17,235.50 442.00,232.00 C442.83,228.50 443.33,224.17 444.00,220.00 C444.67,215.83 445.33,210.42 446.00,207.00 C446.67,203.58 447.37,201.13 448.00,199.50 C448.63,197.87 449.22,197.12 449.80,197.20 C450.38,197.28 450.97,197.87 451.50,200.00 C452.03,202.13 452.50,205.67 453.00,210.00 C453.50,214.33 453.92,221.67 454.50,226.00 C455.08,230.33 455.58,233.45 456.50,236.00 C457.42,238.55 458.42,240.07 460.00,241.30 C461.58,242.53 464.33,242.92 466.00,243.40 C467.67,243.88 469.33,244.07 470.00,244.20 Z" fill="#9a5a80" stroke="none" stroke-width="0.8" fill-opacity="0.75"/>
<path d="M435.00,244.20 C435.58,243.75 437.42,243.20 438.50,241.50 C439.58,239.80 440.67,236.92 441.50,234.00 C442.33,231.08 442.83,228.00 443.50,224.00 C444.17,220.00 444.83,213.83 445.50,210.00 C446.17,206.17 446.78,203.17 447.50,201.00 C448.22,198.83 449.08,197.25 449.80,197.00 C450.52,196.75 451.23,197.67 451.80,199.50 C452.37,201.33 452.70,203.92 453.20,208.00 C453.70,212.08 454.20,219.50 454.80,224.00 C455.40,228.50 455.93,232.20 456.80,235.00 C457.67,237.80 458.63,239.43 460.00,240.80 C461.37,242.17 463.33,242.63 465.00,243.20 C466.67,243.77 469.17,244.03 470.00,244.20 Z" fill="#e39aae" stroke="none" stroke-width="0.8" fill-opacity="0.85"/>
<path d="M435.00,244.20 C435.58,243.75 437.42,243.20 438.50,241.50 C439.58,239.80 440.67,236.92 441.50,234.00 C442.33,231.08 442.83,228.00 443.50,224.00 C444.17,220.00 444.83,213.83 445.50,210.00 C446.17,206.17 446.78,203.17 447.50,201.00 C448.22,198.83 449.08,197.25 449.80,197.00 C450.52,196.75 451.23,197.67 451.80,199.50 C452.37,201.33 452.70,203.92 453.20,208.00 C453.70,212.08 454.20,219.50 454.80,224.00 C455.40,228.50 455.93,232.20 456.80,235.00 C457.67,237.80 458.63,239.43 460.00,240.80 C461.37,242.17 463.33,242.63 465.00,243.20 C466.67,243.77 469.17,244.03 470.00,244.20" fill="none" stroke="#c45a7c" stroke-width="0.5" />
<path d="M436.00,244.20 C436.42,243.67 437.75,243.03 438.50,241.00 C439.25,238.97 439.83,236.17 440.50,232.00 C441.17,227.83 441.92,220.83 442.50,216.00 C443.08,211.17 443.50,206.45 444.00,203.00 C444.50,199.55 445.00,195.80 445.50,195.30 C446.00,194.80 446.50,196.88 447.00,200.00 C447.50,203.12 448.00,209.33 448.50,214.00 C449.00,218.67 449.42,224.17 450.00,228.00 C450.58,231.83 451.17,234.75 452.00,237.00 C452.83,239.25 453.83,240.42 455.00,241.50 C456.17,242.58 457.83,243.05 459.00,243.50 C460.17,243.95 461.50,244.08 462.00,244.20" fill="none" stroke="#7f9098" stroke-width="0.6" />
<path d="M423.1,190.2 L476.5,190.2 L476.5,244.2 L423.1,244.2 Z" fill="none" stroke="#111" stroke-width="1.0" />
<line x1="419.90" y1="193.20" x2="423.10" y2="193.20" stroke="#222" stroke-width="1.0" />
<text x="417.50" y="195.40" font-size="6.1" text-anchor="end">100</text>
<line x1="419.90" y1="203.40" x2="423.10" y2="203.40" stroke="#222" stroke-width="1.0" />
<text x="417.50" y="205.60" font-size="6.1" text-anchor="end">80</text>
<line x1="419.90" y1="213.60" x2="423.10" y2="213.60" stroke="#222" stroke-width="1.0" />
<text x="417.50" y="215.80" font-size="6.1" text-anchor="end">60</text>
<line x1="419.90" y1="223.80" x2="423.10" y2="223.80" stroke="#222" stroke-width="1.0" />
<text x="417.50" y="226.00" font-size="6.1" text-anchor="end">40</text>
<line x1="419.90" y1="234.00" x2="423.10" y2="234.00" stroke="#222" stroke-width="1.0" />
<text x="417.50" y="236.20" font-size="6.1" text-anchor="end">20</text>
<line x1="419.90" y1="244.20" x2="423.10" y2="244.20" stroke="#222" stroke-width="1.0" />
<text x="417.50" y="246.40" font-size="6.1" text-anchor="end">0</text>
<line x1="421.90" y1="244.20" x2="423.10" y2="244.20" stroke="#222" stroke-width="0.45" />
<line x1="421.90" y1="242.16" x2="423.10" y2="242.16" stroke="#222" stroke-width="0.45" />
<line x1="421.90" y1="240.12" x2="423.10" y2="240.12" stroke="#222" stroke-width="0.45" />
<line x1="421.90" y1="238.08" x2="423.10" y2="238.08" stroke="#222" stroke-width="0.45" />
<line x1="421.90" y1="236.04" x2="423.10" y2="236.04" stroke="#222" stroke-width="0.45" />
<line x1="421.90" y1="234.00" x2="423.10" y2="234.00" stroke="#222" stroke-width="0.45" />
<line x1="421.90" y1="231.96" x2="423.10" y2="231.96" stroke="#222" stroke-width="0.45" />
<line x1="421.90" y1="229.92" x2="423.10" y2="229.92" stroke="#222" stroke-width="0.45" />
<line x1="421.90" y1="227.88" x2="423.10" y2="227.88" stroke="#222" stroke-width="0.45" />
<line x1="421.90" y1="225.84" x2="423.10" y2="225.84" stroke="#222" stroke-width="0.45" />
<line x1="421.90" y1="223.80" x2="423.10" y2="223.80" stroke="#222" stroke-width="0.45" />
<line x1="421.90" y1="221.76" x2="423.10" y2="221.76" stroke="#222" stroke-width="0.45" />
<line x1="421.90" y1="219.72" x2="423.10" y2="219.72" stroke="#222" stroke-width="0.45" />
<line x1="421.90" y1="217.68" x2="423.10" y2="217.68" stroke="#222" stroke-width="0.45" />
<line x1="421.90" y1="215.64" x2="423.10" y2="215.64" stroke="#222" stroke-width="0.45" />
<line x1="421.90" y1="213.60" x2="423.10" y2="213.60" stroke="#222" stroke-width="0.45" />
<line x1="421.90" y1="211.56" x2="423.10" y2="211.56" stroke="#222" stroke-width="0.45" />
<line x1="421.90" y1="209.52" x2="423.10" y2="209.52" stroke="#222" stroke-width="0.45" />
<line x1="421.90" y1="207.48" x2="423.10" y2="207.48" stroke="#222" stroke-width="0.45" />
<line x1="421.90" y1="205.44" x2="423.10" y2="205.44" stroke="#222" stroke-width="0.45" />
<line x1="421.90" y1="203.40" x2="423.10" y2="203.40" stroke="#222" stroke-width="0.45" />
<line x1="421.90" y1="201.36" x2="423.10" y2="201.36" stroke="#222" stroke-width="0.45" />
<line x1="421.90" y1="199.32" x2="423.10" y2="199.32" stroke="#222" stroke-width="0.45" />
<line x1="421.90" y1="197.28" x2="423.10" y2="197.28" stroke="#222" stroke-width="0.45" />
<line x1="421.90" y1="195.24" x2="423.10" y2="195.24" stroke="#222" stroke-width="0.45" />
<line x1="421.90" y1="193.20" x2="423.10" y2="193.20" stroke="#222" stroke-width="0.45" />
<line x1="427.00" y1="244.20" x2="427.00" y2="245.40" stroke="#222" stroke-width="0.45" />
<line x1="429.00" y1="244.20" x2="429.00" y2="245.40" stroke="#222" stroke-width="0.45" />
<line x1="431.00" y1="244.20" x2="431.00" y2="245.40" stroke="#222" stroke-width="0.45" />
<line x1="433.00" y1="244.20" x2="433.00" y2="245.40" stroke="#222" stroke-width="0.45" />
<line x1="435.80" y1="244.20" x2="435.80" y2="245.40" stroke="#222" stroke-width="0.45" />
<line x1="438.00" y1="244.20" x2="438.00" y2="245.40" stroke="#222" stroke-width="0.45" />
<line x1="440.00" y1="244.20" x2="440.00" y2="245.40" stroke="#222" stroke-width="0.45" />
<line x1="442.00" y1="244.20" x2="442.00" y2="245.40" stroke="#222" stroke-width="0.45" />
<line x1="444.00" y1="244.20" x2="444.00" y2="245.40" stroke="#222" stroke-width="0.45" />
<line x1="446.00" y1="244.20" x2="446.00" y2="245.40" stroke="#222" stroke-width="0.45" />
<line x1="448.00" y1="244.20" x2="448.00" y2="245.40" stroke="#222" stroke-width="0.45" />
<line x1="450.00" y1="244.20" x2="450.00" y2="245.40" stroke="#222" stroke-width="0.45" />
<line x1="453.60" y1="244.20" x2="453.60" y2="245.40" stroke="#222" stroke-width="0.45" />
<line x1="455.50" y1="244.20" x2="455.50" y2="245.40" stroke="#222" stroke-width="0.45" />
<line x1="457.50" y1="244.20" x2="457.50" y2="245.40" stroke="#222" stroke-width="0.45" />
<line x1="459.50" y1="244.20" x2="459.50" y2="245.40" stroke="#222" stroke-width="0.45" />
<line x1="461.50" y1="244.20" x2="461.50" y2="245.40" stroke="#222" stroke-width="0.45" />
<line x1="463.50" y1="244.20" x2="463.50" y2="245.40" stroke="#222" stroke-width="0.45" />
<line x1="465.50" y1="244.20" x2="465.50" y2="245.40" stroke="#222" stroke-width="0.45" />
<line x1="468.00" y1="244.20" x2="468.00" y2="245.40" stroke="#222" stroke-width="0.45" />
<line x1="470.00" y1="244.20" x2="470.00" y2="245.40" stroke="#222" stroke-width="0.45" />
<line x1="472.00" y1="244.20" x2="472.00" y2="245.40" stroke="#222" stroke-width="0.45" />
<line x1="474.00" y1="244.20" x2="474.00" y2="245.40" stroke="#222" stroke-width="0.45" />
<line x1="435.80" y1="244.20" x2="435.80" y2="246.40" stroke="#222" stroke-width="0.7" />
<line x1="453.60" y1="244.20" x2="453.60" y2="246.40" stroke="#222" stroke-width="0.7" />
<line x1="468.00" y1="244.20" x2="468.00" y2="246.40" stroke="#222" stroke-width="0.7" />
<text x="435.80" y="254.60" font-size="6.2" text-anchor="middle">0</text>
<text x="455.0" y="254.6" font-size="6.2" text-anchor="middle">10<tspan font-size="3.9" dy="-2.3">2</tspan></text>
<text x="469.5" y="254.6" font-size="6.2" text-anchor="middle">10<tspan font-size="3.9" dy="-2.3">3</tspan></text>
<text x="450.40" y="267.20" font-size="7.4" text-anchor="middle" textLength="29.50" lengthAdjust="spacingAndGlyphs">Asct2-APC</text>
<text x="402.30" y="217.50" font-size="6.8" text-anchor="middle" textLength="9.60" lengthAdjust="spacingAndGlyphs" transform="rotate(-90 402.30 217.50)">MFI</text>
<text x="7.20" y="301.00" font-size="11" fill="#111" font-weight="bold" stroke="#111" stroke-width="0.45">G</text>
<rect x="43.00" y="308.30" width="3.30" height="3.30" fill="#1c5a8c" stroke="none" stroke-width="0.6" />
<text x="49.5" y="312.3" font-size="6.4" textLength="33.3" lengthAdjust="spacingAndGlyphs"><tspan font-style="italic">Bcma</tspan>-CART</text>
<rect x="43.00" y="315.30" width="3.30" height="3.30" fill="#c0102f" stroke="none" stroke-width="0.6" />
<text x="49.5" y="319.3" font-size="6.4" textLength="51" lengthAdjust="spacingAndGlyphs"><tspan font-style="italic">Asct2 Bcma</tspan>-CART</text>
<text x="67.0" y="329.0" font-size="5.9" textLength="11.6" lengthAdjust="spacingAndGlyphs">CD4</text>
<text x="78.90" y="326.40" font-size="3.8">+</text>
<line x1="49.90" y1="331.50" x2="49.90" y2="383.70" stroke="#222" stroke-width="1.0" />
<line x1="46.70" y1="332.90" x2="49.90" y2="332.90" stroke="#222" stroke-width="1.0" />
<text x="43.90" y="335.10" font-size="6.1" text-anchor="end">2500</text>
<line x1="46.70" y1="343.06" x2="49.90" y2="343.06" stroke="#222" stroke-width="1.0" />
<text x="43.90" y="345.26" font-size="6.1" text-anchor="end">2000</text>
<line x1="46.70" y1="353.22" x2="49.90" y2="353.22" stroke="#222" stroke-width="1.0" />
<text x="43.90" y="355.42" font-size="6.1" text-anchor="end">1500</text>
<line x1="46.70" y1="363.38" x2="49.90" y2="363.38" stroke="#222" stroke-width="1.0" />
<text x="43.90" y="365.58" font-size="6.1" text-anchor="end">1000</text>
<line x1="46.70" y1="373.54" x2="49.90" y2="373.54" stroke="#222" stroke-width="1.0" />
<text x="43.90" y="375.74" font-size="6.1" text-anchor="end">500</text>
<line x1="46.70" y1="383.70" x2="49.90" y2="383.70" stroke="#222" stroke-width="1.0" />
<text x="43.90" y="385.90" font-size="6.1" text-anchor="end">0</text>
<line x1="49.90" y1="383.70" x2="99.60" y2="383.70" stroke="#222" stroke-width="1.2" />
<line x1="57.20" y1="383.70" x2="57.20" y2="385.90" stroke="#222" stroke-width="0.9" />
<line x1="74.50" y1="383.70" x2="74.50" y2="385.90" stroke="#222" stroke-width="0.9" />
<line x1="92.00" y1="383.70" x2="92.00" y2="385.90" stroke="#222" stroke-width="0.9" />
<rect x="52.00" y="380.00" width="3.90" height="3.70" fill="#1c5a8c" stroke="none" stroke-width="0.6" />
<line x1="53.95" y1="380.00" x2="53.95" y2="378.58" stroke="#1c5a8c" stroke-width="0.8" />
<line x1="52.75" y1="378.58" x2="55.15" y2="378.58" stroke="#1c5a8c" stroke-width="0.8" />
<rect x="58.30" y="380.59" width="3.90" height="3.11" fill="#c0102f" stroke="none" stroke-width="0.6" />
<line x1="60.25" y1="380.59" x2="60.25" y2="379.98" stroke="#c0102f" stroke-width="0.8" />
<line x1="59.05" y1="379.98" x2="61.45" y2="379.98" stroke="#c0102f" stroke-width="0.8" />
<rect x="69.20" y="371.20" width="3.90" height="12.50" fill="#1c5a8c" stroke="none" stroke-width="0.6" />
<line x1="71.15" y1="371.20" x2="71.15" y2="370.19" stroke="#1c5a8c" stroke-width="0.8" />
<line x1="69.95" y1="370.19" x2="72.35" y2="370.19" stroke="#1c5a8c" stroke-width="0.8" />
<rect x="75.80" y="355.80" width="3.90" height="27.90" fill="#c0102f" stroke="none" stroke-width="0.6" />
<line x1="77.75" y1="355.80" x2="77.75" y2="353.97" stroke="#c0102f" stroke-width="0.8" />
<line x1="76.55" y1="353.97" x2="78.95" y2="353.97" stroke="#c0102f" stroke-width="0.8" />
<rect x="86.90" y="375.41" width="3.90" height="8.29" fill="#1c5a8c" stroke="none" stroke-width="0.6" />
<line x1="88.85" y1="375.41" x2="88.85" y2="374.60" stroke="#1c5a8c" stroke-width="0.8" />
<line x1="87.65" y1="374.60" x2="90.05" y2="374.60" stroke="#1c5a8c" stroke-width="0.8" />
<rect x="93.20" y="370.80" width="3.90" height="12.90" fill="#c0102f" stroke="none" stroke-width="0.6" />
<line x1="95.15" y1="370.80" x2="95.15" y2="368.97" stroke="#c0102f" stroke-width="0.8" />
<line x1="93.95" y1="368.97" x2="96.35" y2="368.97" stroke="#c0102f" stroke-width="0.8" />
<text x="75.20" y="351.13" font-size="6.6" text-anchor="middle" fill="#222" textLength="10.00" lengthAdjust="spacingAndGlyphs">****</text>
<path d="M70.40,351.80 L70.40,350.60 L78.50,350.60 L78.50,351.80" fill="none" stroke="#222" stroke-width="0.6" />
<text x="91.70" y="366.53" font-size="6.6" text-anchor="middle" fill="#222">*</text>
<path d="M88.00,367.20 L88.00,366.00 L95.80,366.00 L95.80,367.20" fill="none" stroke="#222" stroke-width="0.6" />
<text x="13.30" y="358.20" font-size="7.0" text-anchor="middle" textLength="13.50" lengthAdjust="spacingAndGlyphs" transform="rotate(-90 13.30 358.20)">cpm</text>
<text x="22.5" y="357.5" font-size="6.8" text-anchor="middle" transform="rotate(-90 22.5 357.5)" textLength="43" lengthAdjust="spacingAndGlyphs"><tspan font-size="4.2" dy="-2.4">3</tspan><tspan dy="2.4">H-Gln uptake</tspan></text>
<text x="67.7" y="395.4" font-size="5.9" textLength="11.0" lengthAdjust="spacingAndGlyphs">CD8</text>
<text x="78.90" y="392.80" font-size="3.8">+</text>
<line x1="49.90" y1="398.50" x2="49.90" y2="451.90" stroke="#222" stroke-width="1.0" />
<line x1="46.70" y1="399.60" x2="49.90" y2="399.60" stroke="#222" stroke-width="1.0" />
<text x="43.90" y="401.80" font-size="6.1" text-anchor="end">5000</text>
<line x1="46.70" y1="410.06" x2="49.90" y2="410.06" stroke="#222" stroke-width="1.0" />
<text x="43.90" y="412.26" font-size="6.1" text-anchor="end">4000</text>
<line x1="46.70" y1="420.52" x2="49.90" y2="420.52" stroke="#222" stroke-width="1.0" />
<text x="43.90" y="422.72" font-size="6.1" text-anchor="end">3000</text>
<line x1="46.70" y1="430.98" x2="49.90" y2="430.98" stroke="#222" stroke-width="1.0" />
<text x="43.90" y="433.18" font-size="6.1" text-anchor="end">2000</text>
<line x1="46.70" y1="441.44" x2="49.90" y2="441.44" stroke="#222" stroke-width="1.0" />
<text x="43.90" y="443.64" font-size="6.1" text-anchor="end">1000</text>
<line x1="46.70" y1="451.90" x2="49.90" y2="451.90" stroke="#222" stroke-width="1.0" />
<text x="43.90" y="454.10" font-size="6.1" text-anchor="end">0</text>
<line x1="49.90" y1="451.90" x2="100.60" y2="451.90" stroke="#222" stroke-width="1.2" />
<line x1="57.20" y1="451.90" x2="57.20" y2="454.10" stroke="#222" stroke-width="0.9" />
<line x1="75.20" y1="451.90" x2="75.20" y2="454.10" stroke="#222" stroke-width="0.9" />
<line x1="92.50" y1="451.90" x2="92.50" y2="454.10" stroke="#222" stroke-width="0.9" />
<rect x="52.10" y="450.00" width="3.90" height="1.90" fill="#1c5a8c" stroke="none" stroke-width="0.6" />
<line x1="54.05" y1="450.00" x2="54.05" y2="449.37" stroke="#1c5a8c" stroke-width="0.8" />
<line x1="52.85" y1="449.37" x2="55.25" y2="449.37" stroke="#1c5a8c" stroke-width="0.8" />
<rect x="58.40" y="449.20" width="3.90" height="2.70" fill="#c0102f" stroke="none" stroke-width="0.6" />
<line x1="60.35" y1="449.20" x2="60.35" y2="448.68" stroke="#c0102f" stroke-width="0.8" />
<line x1="59.15" y1="448.68" x2="61.55" y2="448.68" stroke="#c0102f" stroke-width="0.8" />
<rect x="70.00" y="434.60" width="3.90" height="17.30" fill="#1c5a8c" stroke="none" stroke-width="0.6" />
<line x1="71.95" y1="434.60" x2="71.95" y2="433.76" stroke="#1c5a8c" stroke-width="0.8" />
<line x1="70.75" y1="433.76" x2="73.15" y2="433.76" stroke="#1c5a8c" stroke-width="0.8" />
<rect x="76.20" y="424.20" width="3.90" height="27.70" fill="#c0102f" stroke="none" stroke-width="0.6" />
<line x1="78.15" y1="424.20" x2="78.15" y2="421.80" stroke="#c0102f" stroke-width="0.8" />
<line x1="76.95" y1="421.80" x2="79.35" y2="421.80" stroke="#c0102f" stroke-width="0.8" />
<rect x="88.00" y="443.50" width="3.90" height="8.40" fill="#1c5a8c" stroke="none" stroke-width="0.6" />
<line x1="89.95" y1="443.50" x2="89.95" y2="442.87" stroke="#1c5a8c" stroke-width="0.8" />
<line x1="88.75" y1="442.87" x2="91.15" y2="442.87" stroke="#1c5a8c" stroke-width="0.8" />
<rect x="94.40" y="444.20" width="3.90" height="7.70" fill="#c0102f" stroke="none" stroke-width="0.6" />
<line x1="96.35" y1="444.20" x2="96.35" y2="442.53" stroke="#c0102f" stroke-width="0.8" />
<line x1="95.15" y1="442.53" x2="97.55" y2="442.53" stroke="#c0102f" stroke-width="0.8" />
<text x="76.50" y="418.43" font-size="6.6" text-anchor="middle" fill="#222" textLength="7.50" lengthAdjust="spacingAndGlyphs">***</text>
<path d="M73.00,418.40 L73.00,417.20 L80.00,417.20 L80.00,418.40" fill="none" stroke="#222" stroke-width="0.6" />
<text x="13.30" y="425.00" font-size="7.0" text-anchor="middle" textLength="13.50" lengthAdjust="spacingAndGlyphs" transform="rotate(-90 13.30 425.00)">cpm</text>
<text x="22.5" y="426.0" font-size="6.8" text-anchor="middle" transform="rotate(-90 22.5 426)" textLength="43" lengthAdjust="spacingAndGlyphs"><tspan font-size="4.2" dy="-2.4">3</tspan><tspan dy="2.4">H-Gln uptake</tspan></text>
<text x="61.20" y="461.40" font-size="6.4" text-anchor="end" textLength="11.50" lengthAdjust="spacingAndGlyphs" transform="rotate(-45 61.20 461.40)">Ctrl</text>
<text x="78.6" y="461.0" font-size="6.4" text-anchor="end" transform="rotate(-45 78.6 461)" textLength="23" lengthAdjust="spacingAndGlyphs">[<tspan font-size="4" dy="-2.3">3</tspan><tspan dy="2.3">H]-Gln</tspan></text>
<text x="96.2" y="460.5" font-size="6.4" text-anchor="end" transform="rotate(-45 96.2 460.5)" textLength="39" lengthAdjust="spacingAndGlyphs">[<tspan font-size="4" dy="-2.3">3</tspan><tspan dy="2.3">H]-Gln + Gln</tspan></text>
<text x="117.20" y="301.00" font-size="11" fill="#111" font-weight="bold" stroke="#111" stroke-width="0.45">H</text>
<line x1="129.00" y1="337.10" x2="135.00" y2="337.10" stroke="#c0102f" stroke-width="0.8" />
<circle cx="132.00" cy="337.10" r="0.9" fill="#c0102f"/>
<text x="137.7" y="339.3" font-size="6.4" textLength="68.7" lengthAdjust="spacingAndGlyphs">Stim. <tspan font-style="italic">Asct2 Bcma</tspan>-CART</text>
<line x1="129.00" y1="344.10" x2="135.00" y2="344.10" stroke="#1c5a8c" stroke-width="0.8" />
<circle cx="132.00" cy="344.10" r="0.9" fill="#1c5a8c"/>
<text x="137.7" y="346.3" font-size="6.4" textLength="51.3" lengthAdjust="spacingAndGlyphs">Stim. <tspan font-style="italic">Bcma</tspan>-CART</text>
<line x1="210.80" y1="337.10" x2="216.20" y2="337.10" stroke="#c0102f" stroke-width="0.8" stroke-dasharray="1.5 1"/>
<circle cx="213.50" cy="337.10" r="0.9" fill="#c0102f"/>
<text x="218.8" y="339.3" font-size="6.4" textLength="76" lengthAdjust="spacingAndGlyphs">Unstim. <tspan font-style="italic">Asct2 Bcma</tspan>-CART</text>
<line x1="210.80" y1="344.10" x2="216.20" y2="344.10" stroke="#1c5a8c" stroke-width="0.8" stroke-dasharray="1.5 1"/>
<circle cx="213.50" cy="344.10" r="0.9" fill="#1c5a8c"/>
<text x="218.8" y="346.3" font-size="6.4" textLength="58" lengthAdjust="spacingAndGlyphs">Unstim. <tspan font-style="italic">Bcma</tspan>-CART</text>
<text x="158.0" y="359.6" font-size="6.3" textLength="35" lengthAdjust="spacingAndGlyphs">CD4<tspan font-size="3.9" dy="-2.4">+</tspan><tspan dy="2.4"> T cells</tspan></text>
<line x1="141.70" y1="362.00" x2="141.70" y2="430.30" stroke="#222" stroke-width="1.0" />
<line x1="138.90" y1="363.50" x2="141.70" y2="363.50" stroke="#222" stroke-width="1.0" />
<text x="135.90" y="365.70" font-size="6.1" text-anchor="end">80</text>
<line x1="138.90" y1="380.20" x2="141.70" y2="380.20" stroke="#222" stroke-width="1.0" />
<text x="135.90" y="382.40" font-size="6.1" text-anchor="end">60</text>
<line x1="138.90" y1="396.90" x2="141.70" y2="396.90" stroke="#222" stroke-width="1.0" />
<text x="135.90" y="399.10" font-size="6.1" text-anchor="end">40</text>
<line x1="138.90" y1="413.60" x2="141.70" y2="413.60" stroke="#222" stroke-width="1.0" />
<text x="135.90" y="415.80" font-size="6.1" text-anchor="end">20</text>
<line x1="138.90" y1="430.30" x2="141.70" y2="430.30" stroke="#222" stroke-width="1.0" />
<text x="135.90" y="432.50" font-size="6.1" text-anchor="end">0</text>
<line x1="141.70" y1="430.30" x2="206.00" y2="430.30" stroke="#222" stroke-width="1.1" />
<line x1="146.70" y1="430.30" x2="146.70" y2="432.30" stroke="#222" stroke-width="0.8" />
<line x1="154.81" y1="430.30" x2="154.81" y2="432.30" stroke="#222" stroke-width="0.8" />
<line x1="162.92" y1="430.30" x2="162.92" y2="432.30" stroke="#222" stroke-width="0.8" />
<line x1="171.03" y1="430.30" x2="171.03" y2="432.30" stroke="#222" stroke-width="0.8" />
<line x1="179.14" y1="430.30" x2="179.14" y2="432.30" stroke="#222" stroke-width="0.8" />
<line x1="187.25" y1="430.30" x2="187.25" y2="432.30" stroke="#222" stroke-width="0.8" />
<line x1="195.36" y1="430.30" x2="195.36" y2="432.30" stroke="#222" stroke-width="0.8" />
<line x1="203.47" y1="430.30" x2="203.47" y2="432.30" stroke="#222" stroke-width="0.8" />
<polyline points="146.70,430.30 154.81,430.30 162.92,430.30 171.03,430.30 179.14,430.30 187.25,430.30 195.36,430.30 203.47,430.30" fill="none" stroke="#c0102f" stroke-width="1.05" stroke-dasharray="1.6 1.1"/>
<circle cx="146.70" cy="430.30" r="1.0" fill="#c0102f"/>
<circle cx="154.81" cy="430.30" r="1.0" fill="#c0102f"/>
<circle cx="162.92" cy="430.30" r="1.0" fill="#c0102f"/>
<circle cx="171.03" cy="430.30" r="1.0" fill="#c0102f"/>
<circle cx="179.14" cy="430.30" r="1.0" fill="#c0102f"/>
<circle cx="187.25" cy="430.30" r="1.0" fill="#c0102f"/>
<circle cx="195.36" cy="430.30" r="1.0" fill="#c0102f"/>
<circle cx="203.47" cy="430.30" r="1.0" fill="#c0102f"/>
<polyline points="146.70,427.80 154.81,427.80 162.92,424.45 171.03,426.12 179.14,430.30 187.25,430.30 195.36,423.62 203.47,427.80" fill="none" stroke="#1c5a8c" stroke-width="1.05" stroke-dasharray="1.6 1.1"/>
<line x1="146.70" y1="426.96" x2="146.70" y2="428.63" stroke="#1c5a8c" stroke-width="0.6" />
<line x1="145.80" y1="426.96" x2="147.60" y2="426.96" stroke="#1c5a8c" stroke-width="0.6" />
<line x1="145.80" y1="428.63" x2="147.60" y2="428.63" stroke="#1c5a8c" stroke-width="0.6" />
<line x1="154.81" y1="426.96" x2="154.81" y2="428.63" stroke="#1c5a8c" stroke-width="0.6" />
<line x1="153.91" y1="426.96" x2="155.71" y2="426.96" stroke="#1c5a8c" stroke-width="0.6" />
<line x1="153.91" y1="428.63" x2="155.71" y2="428.63" stroke="#1c5a8c" stroke-width="0.6" />
<line x1="162.92" y1="421.95" x2="162.92" y2="426.96" stroke="#1c5a8c" stroke-width="0.6" />
<line x1="162.02" y1="421.95" x2="163.82" y2="421.95" stroke="#1c5a8c" stroke-width="0.6" />
<line x1="162.02" y1="426.96" x2="163.82" y2="426.96" stroke="#1c5a8c" stroke-width="0.6" />
<line x1="171.03" y1="424.45" x2="171.03" y2="427.80" stroke="#1c5a8c" stroke-width="0.6" />
<line x1="170.13" y1="424.45" x2="171.93" y2="424.45" stroke="#1c5a8c" stroke-width="0.6" />
<line x1="170.13" y1="427.80" x2="171.93" y2="427.80" stroke="#1c5a8c" stroke-width="0.6" />
<line x1="195.36" y1="421.12" x2="195.36" y2="426.12" stroke="#1c5a8c" stroke-width="0.6" />
<line x1="194.46" y1="421.12" x2="196.26" y2="421.12" stroke="#1c5a8c" stroke-width="0.6" />
<line x1="194.46" y1="426.12" x2="196.26" y2="426.12" stroke="#1c5a8c" stroke-width="0.6" />
<line x1="203.47" y1="426.96" x2="203.47" y2="428.63" stroke="#1c5a8c" stroke-width="0.6" />
<line x1="202.57" y1="426.96" x2="204.37" y2="426.96" stroke="#1c5a8c" stroke-width="0.6" />
<line x1="202.57" y1="428.63" x2="204.37" y2="428.63" stroke="#1c5a8c" stroke-width="0.6" />
<circle cx="146.70" cy="427.80" r="1.0" fill="#1c5a8c"/>
<circle cx="154.81" cy="427.80" r="1.0" fill="#1c5a8c"/>
<circle cx="162.92" cy="424.45" r="1.0" fill="#1c5a8c"/>
<circle cx="171.03" cy="426.12" r="1.0" fill="#1c5a8c"/>
<circle cx="179.14" cy="430.30" r="1.0" fill="#1c5a8c"/>
<circle cx="187.25" cy="430.30" r="1.0" fill="#1c5a8c"/>
<circle cx="195.36" cy="423.62" r="1.0" fill="#1c5a8c"/>
<circle cx="203.47" cy="427.80" r="1.0" fill="#1c5a8c"/>
<polyline points="146.70,426.12 154.81,421.95 162.92,406.92 171.03,411.10 179.14,411.10 187.25,407.75 195.36,399.41 203.47,391.89" fill="none" stroke="#1c5a8c" stroke-width="1.05"/>
<line x1="146.70" y1="425.29" x2="146.70" y2="426.96" stroke="#1c5a8c" stroke-width="0.6" />
<line x1="145.80" y1="425.29" x2="147.60" y2="425.29" stroke="#1c5a8c" stroke-width="0.6" />
<line x1="145.80" y1="426.96" x2="147.60" y2="426.96" stroke="#1c5a8c" stroke-width="0.6" />
<line x1="154.81" y1="420.70" x2="154.81" y2="423.20" stroke="#1c5a8c" stroke-width="0.6" />
<line x1="153.91" y1="420.70" x2="155.71" y2="420.70" stroke="#1c5a8c" stroke-width="0.6" />
<line x1="153.91" y1="423.20" x2="155.71" y2="423.20" stroke="#1c5a8c" stroke-width="0.6" />
<line x1="162.92" y1="403.58" x2="162.92" y2="410.26" stroke="#1c5a8c" stroke-width="0.6" />
<line x1="162.02" y1="403.58" x2="163.82" y2="403.58" stroke="#1c5a8c" stroke-width="0.6" />
<line x1="162.02" y1="410.26" x2="163.82" y2="410.26" stroke="#1c5a8c" stroke-width="0.6" />
<line x1="171.03" y1="409.43" x2="171.03" y2="412.77" stroke="#1c5a8c" stroke-width="0.6" />
<line x1="170.13" y1="409.43" x2="171.93" y2="409.43" stroke="#1c5a8c" stroke-width="0.6" />
<line x1="170.13" y1="412.77" x2="171.93" y2="412.77" stroke="#1c5a8c" stroke-width="0.6" />
<line x1="179.14" y1="409.43" x2="179.14" y2="412.77" stroke="#1c5a8c" stroke-width="0.6" />
<line x1="178.24" y1="409.43" x2="180.04" y2="409.43" stroke="#1c5a8c" stroke-width="0.6" />
<line x1="178.24" y1="412.77" x2="180.04" y2="412.77" stroke="#1c5a8c" stroke-width="0.6" />
<line x1="187.25" y1="405.67" x2="187.25" y2="409.84" stroke="#1c5a8c" stroke-width="0.6" />
<line x1="186.35" y1="405.67" x2="188.15" y2="405.67" stroke="#1c5a8c" stroke-width="0.6" />
<line x1="186.35" y1="409.84" x2="188.15" y2="409.84" stroke="#1c5a8c" stroke-width="0.6" />
<line x1="195.36" y1="396.07" x2="195.36" y2="402.75" stroke="#1c5a8c" stroke-width="0.6" />
<line x1="194.46" y1="396.07" x2="196.26" y2="396.07" stroke="#1c5a8c" stroke-width="0.6" />
<line x1="194.46" y1="402.75" x2="196.26" y2="402.75" stroke="#1c5a8c" stroke-width="0.6" />
<line x1="203.47" y1="387.71" x2="203.47" y2="396.06" stroke="#1c5a8c" stroke-width="0.6" />
<line x1="202.57" y1="387.71" x2="204.37" y2="387.71" stroke="#1c5a8c" stroke-width="0.6" />
<line x1="202.57" y1="396.06" x2="204.37" y2="396.06" stroke="#1c5a8c" stroke-width="0.6" />
<circle cx="146.70" cy="426.12" r="1.0" fill="#1c5a8c"/>
<circle cx="154.81" cy="421.95" r="1.0" fill="#1c5a8c"/>
<circle cx="162.92" cy="406.92" r="1.0" fill="#1c5a8c"/>
<circle cx="171.03" cy="411.10" r="1.0" fill="#1c5a8c"/>
<circle cx="179.14" cy="411.10" r="1.0" fill="#1c5a8c"/>
<circle cx="187.25" cy="407.75" r="1.0" fill="#1c5a8c"/>
<circle cx="195.36" cy="399.41" r="1.0" fill="#1c5a8c"/>
<circle cx="203.47" cy="391.89" r="1.0" fill="#1c5a8c"/>
<polyline points="146.70,420.28 154.81,399.41 162.92,380.20 171.03,381.87 179.14,371.01 187.25,377.69 195.36,375.19 203.47,386.88" fill="none" stroke="#c0102f" stroke-width="1.05"/>
<line x1="154.81" y1="398.57" x2="154.81" y2="400.24" stroke="#c0102f" stroke-width="0.6" />
<line x1="153.91" y1="398.57" x2="155.71" y2="398.57" stroke="#c0102f" stroke-width="0.6" />
<line x1="153.91" y1="400.24" x2="155.71" y2="400.24" stroke="#c0102f" stroke-width="0.6" />
<line x1="162.92" y1="377.69" x2="162.92" y2="382.70" stroke="#c0102f" stroke-width="0.6" />
<line x1="162.02" y1="377.69" x2="163.82" y2="377.69" stroke="#c0102f" stroke-width="0.6" />
<line x1="162.02" y1="382.70" x2="163.82" y2="382.70" stroke="#c0102f" stroke-width="0.6" />
<line x1="171.03" y1="381.04" x2="171.03" y2="382.70" stroke="#c0102f" stroke-width="0.6" />
<line x1="170.13" y1="381.04" x2="171.93" y2="381.04" stroke="#c0102f" stroke-width="0.6" />
<line x1="170.13" y1="382.70" x2="171.93" y2="382.70" stroke="#c0102f" stroke-width="0.6" />
<line x1="179.14" y1="370.18" x2="179.14" y2="371.85" stroke="#c0102f" stroke-width="0.6" />
<line x1="178.24" y1="370.18" x2="180.04" y2="370.18" stroke="#c0102f" stroke-width="0.6" />
<line x1="178.24" y1="371.85" x2="180.04" y2="371.85" stroke="#c0102f" stroke-width="0.6" />
<line x1="187.25" y1="376.02" x2="187.25" y2="379.37" stroke="#c0102f" stroke-width="0.6" />
<line x1="186.35" y1="376.02" x2="188.15" y2="376.02" stroke="#c0102f" stroke-width="0.6" />
<line x1="186.35" y1="379.37" x2="188.15" y2="379.37" stroke="#c0102f" stroke-width="0.6" />
<line x1="195.36" y1="373.52" x2="195.36" y2="376.86" stroke="#c0102f" stroke-width="0.6" />
<line x1="194.46" y1="373.52" x2="196.26" y2="373.52" stroke="#c0102f" stroke-width="0.6" />
<line x1="194.46" y1="376.86" x2="196.26" y2="376.86" stroke="#c0102f" stroke-width="0.6" />
<line x1="203.47" y1="385.21" x2="203.47" y2="388.55" stroke="#c0102f" stroke-width="0.6" />
<line x1="202.57" y1="385.21" x2="204.37" y2="385.21" stroke="#c0102f" stroke-width="0.6" />
<line x1="202.57" y1="388.55" x2="204.37" y2="388.55" stroke="#c0102f" stroke-width="0.6" />
<circle cx="146.70" cy="420.28" r="1.0" fill="#c0102f"/>
<circle cx="154.81" cy="399.41" r="1.0" fill="#c0102f"/>
<circle cx="162.92" cy="380.20" r="1.0" fill="#c0102f"/>
<circle cx="171.03" cy="381.87" r="1.0" fill="#c0102f"/>
<circle cx="179.14" cy="371.01" r="1.0" fill="#c0102f"/>
<circle cx="187.25" cy="377.69" r="1.0" fill="#c0102f"/>
<circle cx="195.36" cy="375.19" r="1.0" fill="#c0102f"/>
<circle cx="203.47" cy="386.88" r="1.0" fill="#c0102f"/>
<line x1="163.90" y1="366.40" x2="194.90" y2="366.40" stroke="#222" stroke-width="0.8" />
<text x="179.40" y="366.83" font-size="6.6" text-anchor="middle" fill="#222" textLength="10.00" lengthAdjust="spacingAndGlyphs">****</text>
<text x="153.50" y="396.83" font-size="6.6" text-anchor="middle" fill="#222" textLength="7.50" lengthAdjust="spacingAndGlyphs">***</text>
<text x="148.70" y="440.20" font-size="6.0" text-anchor="end" transform="rotate(-50 148.70 440.20)">0</text>
<text x="156.81" y="440.20" font-size="6.0" text-anchor="end" transform="rotate(-50 156.81 440.20)">0.03</text>
<text x="164.92" y="440.20" font-size="6.0" text-anchor="end" transform="rotate(-50 164.92 440.20)">0.06</text>
<text x="173.03" y="440.20" font-size="6.0" text-anchor="end" transform="rotate(-50 173.03 440.20)">0.125</text>
<text x="181.14" y="440.20" font-size="6.0" text-anchor="end" transform="rotate(-50 181.14 440.20)">0.25</text>
<text x="189.25" y="440.20" font-size="6.0" text-anchor="end" transform="rotate(-50 189.25 440.20)">0.5</text>
<text x="197.36" y="440.20" font-size="6.0" text-anchor="end" transform="rotate(-50 197.36 440.20)">1</text>
<text x="205.47" y="440.20" font-size="6.0" text-anchor="end" transform="rotate(-50 205.47 440.20)">2</text>
<text x="176.00" y="462.20" font-size="7.1" text-anchor="middle" textLength="27.60" lengthAdjust="spacingAndGlyphs">Gln (mM)</text>
<text x="123.3" y="397" font-size="7" text-anchor="middle" transform="rotate(-90 123.3 397)" textLength="39.3" lengthAdjust="spacingAndGlyphs">IFN-<tspan font-style="italic">γ</tspan> (ng/mL)</text>
<text x="256.5" y="358.5" font-size="6.3" textLength="35" lengthAdjust="spacingAndGlyphs">CD8<tspan font-size="3.9" dy="-2.4">+</tspan><tspan dy="2.4"> T cells</tspan></text>
<line x1="240.20" y1="362.00" x2="240.20" y2="430.30" stroke="#222" stroke-width="1.0" />
<line x1="237.40" y1="363.40" x2="240.20" y2="363.40" stroke="#222" stroke-width="1.0" />
<text x="234.40" y="365.60" font-size="6.1" text-anchor="end">60</text>
<line x1="237.40" y1="385.70" x2="240.20" y2="385.70" stroke="#222" stroke-width="1.0" />
<text x="234.40" y="387.90" font-size="6.1" text-anchor="end">40</text>
<line x1="237.40" y1="408.00" x2="240.20" y2="408.00" stroke="#222" stroke-width="1.0" />
<text x="234.40" y="410.20" font-size="6.1" text-anchor="end">20</text>
<line x1="237.40" y1="430.30" x2="240.20" y2="430.30" stroke="#222" stroke-width="1.0" />
<text x="234.40" y="432.50" font-size="6.1" text-anchor="end">0</text>
<line x1="240.20" y1="430.30" x2="306.50" y2="430.30" stroke="#222" stroke-width="1.1" />
<line x1="245.80" y1="430.30" x2="245.80" y2="432.30" stroke="#222" stroke-width="0.8" />
<line x1="253.73" y1="430.30" x2="253.73" y2="432.30" stroke="#222" stroke-width="0.8" />
<line x1="261.66" y1="430.30" x2="261.66" y2="432.30" stroke="#222" stroke-width="0.8" />
<line x1="269.59" y1="430.30" x2="269.59" y2="432.30" stroke="#222" stroke-width="0.8" />
<line x1="277.52" y1="430.30" x2="277.52" y2="432.30" stroke="#222" stroke-width="0.8" />
<line x1="285.45" y1="430.30" x2="285.45" y2="432.30" stroke="#222" stroke-width="0.8" />
<line x1="293.38" y1="430.30" x2="293.38" y2="432.30" stroke="#222" stroke-width="0.8" />
<line x1="301.31" y1="430.30" x2="301.31" y2="432.30" stroke="#222" stroke-width="0.8" />
<polyline points="245.80,430.30 253.73,430.30 261.66,430.30 269.59,430.30 277.52,430.30 285.45,429.19 293.38,430.30 301.31,430.30" fill="none" stroke="#c0102f" stroke-width="1.05" stroke-dasharray="1.6 1.1"/>
<line x1="285.45" y1="426.95" x2="285.45" y2="431.42" stroke="#c0102f" stroke-width="0.6" />
<line x1="284.55" y1="426.95" x2="286.35" y2="426.95" stroke="#c0102f" stroke-width="0.6" />
<line x1="284.55" y1="431.42" x2="286.35" y2="431.42" stroke="#c0102f" stroke-width="0.6" />
<circle cx="245.80" cy="430.30" r="1.0" fill="#c0102f"/>
<circle cx="253.73" cy="430.30" r="1.0" fill="#c0102f"/>
<circle cx="261.66" cy="430.30" r="1.0" fill="#c0102f"/>
<circle cx="269.59" cy="430.30" r="1.0" fill="#c0102f"/>
<circle cx="277.52" cy="430.30" r="1.0" fill="#c0102f"/>
<circle cx="285.45" cy="429.19" r="1.0" fill="#c0102f"/>
<circle cx="293.38" cy="430.30" r="1.0" fill="#c0102f"/>
<circle cx="301.31" cy="430.30" r="1.0" fill="#c0102f"/>
<polyline points="245.80,430.30 253.73,430.30 261.66,430.30 269.59,430.30 277.52,430.30 285.45,430.30 293.38,430.30 301.31,429.19" fill="none" stroke="#1c5a8c" stroke-width="1.05" stroke-dasharray="1.6 1.1"/>
<circle cx="245.80" cy="430.30" r="1.0" fill="#1c5a8c"/>
<circle cx="253.73" cy="430.30" r="1.0" fill="#1c5a8c"/>
<circle cx="261.66" cy="430.30" r="1.0" fill="#1c5a8c"/>
<circle cx="269.59" cy="430.30" r="1.0" fill="#1c5a8c"/>
<circle cx="277.52" cy="430.30" r="1.0" fill="#1c5a8c"/>
<circle cx="285.45" cy="430.30" r="1.0" fill="#1c5a8c"/>
<circle cx="293.38" cy="430.30" r="1.0" fill="#1c5a8c"/>
<circle cx="301.31" cy="429.19" r="1.0" fill="#1c5a8c"/>
<polyline points="245.80,430.30 253.73,406.33 261.66,397.52 269.59,387.93 277.52,386.81 285.45,385.70 293.38,386.81 301.31,385.70" fill="none" stroke="#1c5a8c" stroke-width="1.05"/>
<line x1="253.73" y1="403.54" x2="253.73" y2="409.12" stroke="#1c5a8c" stroke-width="0.6" />
<line x1="252.83" y1="403.54" x2="254.63" y2="403.54" stroke="#1c5a8c" stroke-width="0.6" />
<line x1="252.83" y1="409.12" x2="254.63" y2="409.12" stroke="#1c5a8c" stroke-width="0.6" />
<line x1="261.66" y1="395.85" x2="261.66" y2="399.19" stroke="#1c5a8c" stroke-width="0.6" />
<line x1="260.76" y1="395.85" x2="262.56" y2="395.85" stroke="#1c5a8c" stroke-width="0.6" />
<line x1="260.76" y1="399.19" x2="262.56" y2="399.19" stroke="#1c5a8c" stroke-width="0.6" />
<line x1="269.59" y1="386.81" x2="269.59" y2="389.05" stroke="#1c5a8c" stroke-width="0.6" />
<line x1="268.69" y1="386.81" x2="270.49" y2="386.81" stroke="#1c5a8c" stroke-width="0.6" />
<line x1="268.69" y1="389.05" x2="270.49" y2="389.05" stroke="#1c5a8c" stroke-width="0.6" />
<line x1="277.52" y1="385.14" x2="277.52" y2="388.49" stroke="#1c5a8c" stroke-width="0.6" />
<line x1="276.62" y1="385.14" x2="278.42" y2="385.14" stroke="#1c5a8c" stroke-width="0.6" />
<line x1="276.62" y1="388.49" x2="278.42" y2="388.49" stroke="#1c5a8c" stroke-width="0.6" />
<line x1="285.45" y1="384.58" x2="285.45" y2="386.81" stroke="#1c5a8c" stroke-width="0.6" />
<line x1="284.55" y1="384.58" x2="286.35" y2="384.58" stroke="#1c5a8c" stroke-width="0.6" />
<line x1="284.55" y1="386.81" x2="286.35" y2="386.81" stroke="#1c5a8c" stroke-width="0.6" />
<line x1="293.38" y1="384.58" x2="293.38" y2="389.05" stroke="#1c5a8c" stroke-width="0.6" />
<line x1="292.48" y1="384.58" x2="294.28" y2="384.58" stroke="#1c5a8c" stroke-width="0.6" />
<line x1="292.48" y1="389.05" x2="294.28" y2="389.05" stroke="#1c5a8c" stroke-width="0.6" />
<line x1="301.31" y1="382.91" x2="301.31" y2="388.49" stroke="#1c5a8c" stroke-width="0.6" />
<line x1="300.41" y1="382.91" x2="302.21" y2="382.91" stroke="#1c5a8c" stroke-width="0.6" />
<line x1="300.41" y1="388.49" x2="302.21" y2="388.49" stroke="#1c5a8c" stroke-width="0.6" />
<circle cx="245.80" cy="430.30" r="1.0" fill="#1c5a8c"/>
<circle cx="253.73" cy="406.33" r="1.0" fill="#1c5a8c"/>
<circle cx="261.66" cy="397.52" r="1.0" fill="#1c5a8c"/>
<circle cx="269.59" cy="387.93" r="1.0" fill="#1c5a8c"/>
<circle cx="277.52" cy="386.81" r="1.0" fill="#1c5a8c"/>
<circle cx="285.45" cy="385.70" r="1.0" fill="#1c5a8c"/>
<circle cx="293.38" cy="386.81" r="1.0" fill="#1c5a8c"/>
<circle cx="301.31" cy="385.70" r="1.0" fill="#1c5a8c"/>
<polyline points="245.80,420.26 253.73,391.27 261.66,384.03 269.59,376.22 277.52,381.24 285.45,379.01 293.38,387.93 301.31,386.81" fill="none" stroke="#c0102f" stroke-width="1.05"/>
<line x1="245.80" y1="419.15" x2="245.80" y2="421.38" stroke="#c0102f" stroke-width="0.6" />
<line x1="244.90" y1="419.15" x2="246.70" y2="419.15" stroke="#c0102f" stroke-width="0.6" />
<line x1="244.90" y1="421.38" x2="246.70" y2="421.38" stroke="#c0102f" stroke-width="0.6" />
<line x1="253.73" y1="389.60" x2="253.73" y2="392.95" stroke="#c0102f" stroke-width="0.6" />
<line x1="252.83" y1="389.60" x2="254.63" y2="389.60" stroke="#c0102f" stroke-width="0.6" />
<line x1="252.83" y1="392.95" x2="254.63" y2="392.95" stroke="#c0102f" stroke-width="0.6" />
<line x1="261.66" y1="381.80" x2="261.66" y2="386.26" stroke="#c0102f" stroke-width="0.6" />
<line x1="260.76" y1="381.80" x2="262.56" y2="381.80" stroke="#c0102f" stroke-width="0.6" />
<line x1="260.76" y1="386.26" x2="262.56" y2="386.26" stroke="#c0102f" stroke-width="0.6" />
<line x1="269.59" y1="374.55" x2="269.59" y2="377.89" stroke="#c0102f" stroke-width="0.6" />
<line x1="268.69" y1="374.55" x2="270.49" y2="374.55" stroke="#c0102f" stroke-width="0.6" />
<line x1="268.69" y1="377.89" x2="270.49" y2="377.89" stroke="#c0102f" stroke-width="0.6" />
<line x1="277.52" y1="379.01" x2="277.52" y2="383.47" stroke="#c0102f" stroke-width="0.6" />
<line x1="276.62" y1="379.01" x2="278.42" y2="379.01" stroke="#c0102f" stroke-width="0.6" />
<line x1="276.62" y1="383.47" x2="278.42" y2="383.47" stroke="#c0102f" stroke-width="0.6" />
<line x1="285.45" y1="373.44" x2="285.45" y2="384.58" stroke="#c0102f" stroke-width="0.6" />
<line x1="284.55" y1="373.44" x2="286.35" y2="373.44" stroke="#c0102f" stroke-width="0.6" />
<line x1="284.55" y1="384.58" x2="286.35" y2="384.58" stroke="#c0102f" stroke-width="0.6" />
<line x1="293.38" y1="384.58" x2="293.38" y2="391.28" stroke="#c0102f" stroke-width="0.6" />
<line x1="292.48" y1="384.58" x2="294.28" y2="384.58" stroke="#c0102f" stroke-width="0.6" />
<line x1="292.48" y1="391.28" x2="294.28" y2="391.28" stroke="#c0102f" stroke-width="0.6" />
<line x1="301.31" y1="384.58" x2="301.31" y2="389.05" stroke="#c0102f" stroke-width="0.6" />
<line x1="300.41" y1="384.58" x2="302.21" y2="384.58" stroke="#c0102f" stroke-width="0.6" />
<line x1="300.41" y1="389.05" x2="302.21" y2="389.05" stroke="#c0102f" stroke-width="0.6" />
<circle cx="245.80" cy="420.26" r="1.0" fill="#c0102f"/>
<circle cx="253.73" cy="391.27" r="1.0" fill="#c0102f"/>
<circle cx="261.66" cy="384.03" r="1.0" fill="#c0102f"/>
<circle cx="269.59" cy="376.22" r="1.0" fill="#c0102f"/>
<circle cx="277.52" cy="381.24" r="1.0" fill="#c0102f"/>
<circle cx="285.45" cy="379.01" r="1.0" fill="#c0102f"/>
<circle cx="293.38" cy="387.93" r="1.0" fill="#c0102f"/>
<circle cx="301.31" cy="386.81" r="1.0" fill="#c0102f"/>
<text x="253.70" y="387.13" font-size="6.6" text-anchor="middle" fill="#222">*</text>
<text x="261.80" y="380.33" font-size="6.6" text-anchor="middle" fill="#222">*</text>
<text x="247.80" y="440.20" font-size="6.0" text-anchor="end" transform="rotate(-50 247.80 440.20)">0</text>
<text x="255.73" y="440.20" font-size="6.0" text-anchor="end" transform="rotate(-50 255.73 440.20)">0.03</text>
<text x="263.66" y="440.20" font-size="6.0" text-anchor="end" transform="rotate(-50 263.66 440.20)">0.06</text>
<text x="271.59" y="440.20" font-size="6.0" text-anchor="end" transform="rotate(-50 271.59 440.20)">0.125</text>
<text x="279.52" y="440.20" font-size="6.0" text-anchor="end" transform="rotate(-50 279.52 440.20)">0.25</text>
<text x="287.45" y="440.20" font-size="6.0" text-anchor="end" transform="rotate(-50 287.45 440.20)">0.5</text>
<text x="295.38" y="440.20" font-size="6.0" text-anchor="end" transform="rotate(-50 295.38 440.20)">1</text>
<text x="303.31" y="440.20" font-size="6.0" text-anchor="end" transform="rotate(-50 303.31 440.20)">2</text>
<text x="274.20" y="462.50" font-size="7.1" text-anchor="middle" textLength="28.00" lengthAdjust="spacingAndGlyphs">Gln (mM)</text>
<text x="222.3" y="397" font-size="7" text-anchor="middle" transform="rotate(-90 222.3 397)" textLength="39.3" lengthAdjust="spacingAndGlyphs">IFN-<tspan font-style="italic">γ</tspan> (ng/mL)</text>
<text x="322.20" y="301.00" font-size="11" fill="#111" font-weight="bold" stroke="#111" stroke-width="0.45">I</text>
<line x1="357.70" y1="327.10" x2="366.30" y2="327.10" stroke="#c0102f" stroke-width="0.8" />
<circle cx="362.00" cy="327.10" r="0.9" fill="#c0102f"/>
<text x="369" y="329.2" font-size="6.4" textLength="52" lengthAdjust="spacingAndGlyphs"><tspan font-style="italic">Asct2 Bcma</tspan>-CART</text>
<line x1="357.70" y1="337.10" x2="366.30" y2="337.10" stroke="#1c5a8c" stroke-width="0.8" />
<circle cx="362.00" cy="337.10" r="0.9" fill="#1c5a8c"/>
<text x="369" y="339.2" font-size="6.4" textLength="34" lengthAdjust="spacingAndGlyphs"><tspan font-style="italic">Bcma</tspan>-CART</text>
<text x="357.7" y="355.5" font-size="6.4" textLength="36.3" lengthAdjust="spacingAndGlyphs">CD4<tspan font-size="3.9" dy="-2.4">+</tspan><tspan dy="2.4"> T cells</tspan></text>
<text x="416.2" y="357.2" font-size="6.4" textLength="35" lengthAdjust="spacingAndGlyphs">CD8<tspan font-size="3.9" dy="-2.4">+</tspan><tspan dy="2.4"> T cells</tspan></text>
<line x1="350.60" y1="358.80" x2="350.60" y2="434.00" stroke="#222" stroke-width="1.0" />
<line x1="347.60" y1="360.00" x2="350.60" y2="360.00" stroke="#222" stroke-width="1.0" />
<text x="345.00" y="362.20" font-size="6.1" text-anchor="end">100</text>
<line x1="347.60" y1="378.50" x2="350.60" y2="378.50" stroke="#222" stroke-width="1.0" />
<text x="345.00" y="380.70" font-size="6.1" text-anchor="end">75</text>
<line x1="347.60" y1="397.00" x2="350.60" y2="397.00" stroke="#222" stroke-width="1.0" />
<text x="345.00" y="399.20" font-size="6.1" text-anchor="end">50</text>
<line x1="347.60" y1="415.50" x2="350.60" y2="415.50" stroke="#222" stroke-width="1.0" />
<text x="345.00" y="417.70" font-size="6.1" text-anchor="end">25</text>
<line x1="347.60" y1="434.00" x2="350.60" y2="434.00" stroke="#222" stroke-width="1.0" />
<text x="345.00" y="436.20" font-size="6.1" text-anchor="end">0</text>
<line x1="350.60" y1="434.00" x2="395.40" y2="434.00" stroke="#222" stroke-width="1.1" />
<line x1="360.40" y1="434.00" x2="360.40" y2="435.60" stroke="#222" stroke-width="0.7" />
<line x1="375.70" y1="434.00" x2="375.70" y2="435.60" stroke="#222" stroke-width="0.7" />
<line x1="390.50" y1="434.00" x2="390.50" y2="435.60" stroke="#222" stroke-width="0.7" />
<polyline points="360.40,434.00 375.70,408.10 390.50,390.34" fill="none" stroke="#1c5a8c" stroke-width="1.05"/>
<line x1="375.70" y1="403.66" x2="375.70" y2="412.54" stroke="#1c5a8c" stroke-width="0.6" />
<line x1="374.80" y1="403.66" x2="376.60" y2="403.66" stroke="#1c5a8c" stroke-width="0.6" />
<line x1="374.80" y1="412.54" x2="376.60" y2="412.54" stroke="#1c5a8c" stroke-width="0.6" />
<line x1="390.50" y1="388.49" x2="390.50" y2="392.19" stroke="#1c5a8c" stroke-width="0.6" />
<line x1="389.60" y1="388.49" x2="391.40" y2="388.49" stroke="#1c5a8c" stroke-width="0.6" />
<line x1="389.60" y1="392.19" x2="391.40" y2="392.19" stroke="#1c5a8c" stroke-width="0.6" />
<circle cx="360.40" cy="434.00" r="1.0" fill="#1c5a8c"/>
<circle cx="375.70" cy="408.10" r="1.0" fill="#1c5a8c"/>
<circle cx="390.50" cy="390.34" r="1.0" fill="#1c5a8c"/>
<polyline points="360.40,434.00 375.70,394.78 390.50,382.94" fill="none" stroke="#c0102f" stroke-width="1.05"/>
<line x1="375.70" y1="394.04" x2="375.70" y2="395.52" stroke="#c0102f" stroke-width="0.6" />
<line x1="374.80" y1="394.04" x2="376.60" y2="394.04" stroke="#c0102f" stroke-width="0.6" />
<line x1="374.80" y1="395.52" x2="376.60" y2="395.52" stroke="#c0102f" stroke-width="0.6" />
<line x1="390.50" y1="381.83" x2="390.50" y2="384.05" stroke="#c0102f" stroke-width="0.6" />
<line x1="389.60" y1="381.83" x2="391.40" y2="381.83" stroke="#c0102f" stroke-width="0.6" />
<line x1="389.60" y1="384.05" x2="391.40" y2="384.05" stroke="#c0102f" stroke-width="0.6" />
<circle cx="360.40" cy="434.00" r="1.0" fill="#c0102f"/>
<circle cx="375.70" cy="394.78" r="1.0" fill="#c0102f"/>
<circle cx="390.50" cy="382.94" r="1.0" fill="#c0102f"/>
<text x="390.50" y="375.83" font-size="6.6" text-anchor="middle" fill="#222" textLength="5.00" lengthAdjust="spacingAndGlyphs">**</text>
<text x="360.40" y="446.40" font-size="6.2" text-anchor="middle">0</text>
<text x="375.70" y="446.40" font-size="6.2" text-anchor="middle">0.5</text>
<text x="390.50" y="446.40" font-size="6.2" text-anchor="middle">2</text>
<text x="376.50" y="457.20" font-size="7.1" text-anchor="middle" textLength="27.60" lengthAdjust="spacingAndGlyphs">Gln (mM)</text>
<text x="329.60" y="397.00" font-size="7.0" text-anchor="middle" textLength="27.50" lengthAdjust="spacingAndGlyphs" transform="rotate(-90 329.60 397.00)">% of lysis</text>
<line x1="408.50" y1="358.80" x2="408.50" y2="434.00" stroke="#222" stroke-width="1.0" />
<line x1="405.30" y1="360.00" x2="408.50" y2="360.00" stroke="#222" stroke-width="1.0" />
<line x1="405.30" y1="378.50" x2="408.50" y2="378.50" stroke="#222" stroke-width="1.0" />
<line x1="405.30" y1="397.00" x2="408.50" y2="397.00" stroke="#222" stroke-width="1.0" />
<line x1="405.30" y1="415.50" x2="408.50" y2="415.50" stroke="#222" stroke-width="1.0" />
<line x1="405.30" y1="434.00" x2="408.50" y2="434.00" stroke="#222" stroke-width="1.0" />
<line x1="408.50" y1="434.00" x2="456.00" y2="434.00" stroke="#222" stroke-width="1.1" />
<line x1="419.10" y1="434.00" x2="419.10" y2="435.60" stroke="#222" stroke-width="0.7" />
<line x1="433.10" y1="434.00" x2="433.10" y2="435.60" stroke="#222" stroke-width="0.7" />
<line x1="446.50" y1="434.00" x2="446.50" y2="435.60" stroke="#222" stroke-width="0.7" />
<polyline points="419.10,434.00 433.10,417.72 446.50,394.78" fill="none" stroke="#1c5a8c" stroke-width="1.05"/>
<line x1="433.10" y1="416.61" x2="433.10" y2="418.83" stroke="#1c5a8c" stroke-width="0.6" />
<line x1="432.20" y1="416.61" x2="434.00" y2="416.61" stroke="#1c5a8c" stroke-width="0.6" />
<line x1="432.20" y1="418.83" x2="434.00" y2="418.83" stroke="#1c5a8c" stroke-width="0.6" />
<line x1="446.50" y1="392.56" x2="446.50" y2="397.00" stroke="#1c5a8c" stroke-width="0.6" />
<line x1="445.60" y1="392.56" x2="447.40" y2="392.56" stroke="#1c5a8c" stroke-width="0.6" />
<line x1="445.60" y1="397.00" x2="447.40" y2="397.00" stroke="#1c5a8c" stroke-width="0.6" />
<circle cx="419.10" cy="434.00" r="1.0" fill="#1c5a8c"/>
<circle cx="433.10" cy="417.72" r="1.0" fill="#1c5a8c"/>
<circle cx="446.50" cy="394.78" r="1.0" fill="#1c5a8c"/>
<polyline points="419.10,431.78 433.10,387.38 446.50,374.06" fill="none" stroke="#c0102f" stroke-width="1.05"/>
<line x1="419.10" y1="430.67" x2="419.10" y2="432.89" stroke="#c0102f" stroke-width="0.6" />
<line x1="418.20" y1="430.67" x2="420.00" y2="430.67" stroke="#c0102f" stroke-width="0.6" />
<line x1="418.20" y1="432.89" x2="420.00" y2="432.89" stroke="#c0102f" stroke-width="0.6" />
<line x1="433.10" y1="385.16" x2="433.10" y2="389.60" stroke="#c0102f" stroke-width="0.6" />
<line x1="432.20" y1="385.16" x2="434.00" y2="385.16" stroke="#c0102f" stroke-width="0.6" />
<line x1="432.20" y1="389.60" x2="434.00" y2="389.60" stroke="#c0102f" stroke-width="0.6" />
<line x1="446.50" y1="372.95" x2="446.50" y2="375.17" stroke="#c0102f" stroke-width="0.6" />
<line x1="445.60" y1="372.95" x2="447.40" y2="372.95" stroke="#c0102f" stroke-width="0.6" />
<line x1="445.60" y1="375.17" x2="447.40" y2="375.17" stroke="#c0102f" stroke-width="0.6" />
<circle cx="419.10" cy="431.78" r="1.0" fill="#c0102f"/>
<circle cx="433.10" cy="387.38" r="1.0" fill="#c0102f"/>
<circle cx="446.50" cy="374.06" r="1.0" fill="#c0102f"/>
<text x="433.10" y="382.13" font-size="6.6" text-anchor="middle" fill="#222" textLength="10.00" lengthAdjust="spacingAndGlyphs">****</text>
<text x="446.50" y="373.23" font-size="6.6" text-anchor="middle" fill="#222" textLength="10.00" lengthAdjust="spacingAndGlyphs">****</text>
<text x="419.10" y="446.40" font-size="6.2" text-anchor="middle">0</text>
<text x="433.10" y="446.40" font-size="6.2" text-anchor="middle">0.5</text>
<text x="446.50" y="446.40" font-size="6.2" text-anchor="middle">2</text>
<text x="433.80" y="457.20" font-size="7.1" text-anchor="middle" textLength="27.60" lengthAdjust="spacingAndGlyphs">Gln (mM)</text>
<text x="7.20" y="517.00" font-size="11" fill="#111" font-weight="bold" stroke="#111" stroke-width="0.45">J</text>
<line x1="31.75" y1="542.25" x2="31.75" y2="618.75" stroke="#222" stroke-width="1.0" />
<line x1="28.55" y1="543.75" x2="31.75" y2="543.75" stroke="#222" stroke-width="1.0" />
<text x="26.15" y="545.95" font-size="6.1" text-anchor="end">80</text>
<line x1="28.55" y1="562.50" x2="31.75" y2="562.50" stroke="#222" stroke-width="1.0" />
<text x="26.15" y="564.70" font-size="6.1" text-anchor="end">60</text>
<line x1="28.55" y1="581.25" x2="31.75" y2="581.25" stroke="#222" stroke-width="1.0" />
<text x="26.15" y="583.45" font-size="6.1" text-anchor="end">40</text>
<line x1="28.55" y1="600.00" x2="31.75" y2="600.00" stroke="#222" stroke-width="1.0" />
<text x="26.15" y="602.20" font-size="6.1" text-anchor="end">20</text>
<line x1="28.55" y1="618.75" x2="31.75" y2="618.75" stroke="#222" stroke-width="1.0" />
<text x="26.15" y="620.95" font-size="6.1" text-anchor="end">0</text>
<line x1="31.75" y1="618.75" x2="109.25" y2="618.75" stroke="#222" stroke-width="0.8" />
<line x1="31.75" y1="618.75" x2="31.75" y2="620.55" stroke="#222" stroke-width="0.8" />
<text x="31.75" y="629.95" font-size="6.1" text-anchor="middle">0</text>
<line x1="46.90" y1="618.75" x2="46.90" y2="620.55" stroke="#222" stroke-width="0.8" />
<text x="46.90" y="629.95" font-size="6.1" text-anchor="middle">20</text>
<line x1="62.05" y1="618.75" x2="62.05" y2="620.55" stroke="#222" stroke-width="0.8" />
<text x="62.05" y="629.95" font-size="6.1" text-anchor="middle">40</text>
<line x1="77.20" y1="618.75" x2="77.20" y2="620.55" stroke="#222" stroke-width="0.8" />
<text x="77.20" y="629.95" font-size="6.1" text-anchor="middle">60</text>
<line x1="92.35" y1="618.75" x2="92.35" y2="620.55" stroke="#222" stroke-width="0.8" />
<text x="92.35" y="629.95" font-size="6.1" text-anchor="middle">80</text>
<line x1="107.50" y1="618.75" x2="107.50" y2="620.55" stroke="#222" stroke-width="0.8" />
<text x="107.50" y="629.95" font-size="6.1" text-anchor="middle">100</text>
<polyline points="32.89,575.62 37.81,579.38 43.11,580.31 48.04,606.56 52.96,605.62 58.26,605.62 63.19,588.75 68.11,589.69 73.41,585.94 78.34,609.38 83.26,608.44 88.56,608.44 93.49,606.56 98.41,608.44 103.71,608.44" fill="none" stroke="#1c5a8c" stroke-width="1.05"/>
<line x1="32.89" y1="573.75" x2="32.89" y2="577.50" stroke="#1c5a8c" stroke-width="0.6" />
<line x1="31.99" y1="573.75" x2="33.79" y2="573.75" stroke="#1c5a8c" stroke-width="0.6" />
<line x1="31.99" y1="577.50" x2="33.79" y2="577.50" stroke="#1c5a8c" stroke-width="0.6" />
<line x1="37.81" y1="578.44" x2="37.81" y2="580.31" stroke="#1c5a8c" stroke-width="0.6" />
<line x1="36.91" y1="578.44" x2="38.71" y2="578.44" stroke="#1c5a8c" stroke-width="0.6" />
<line x1="36.91" y1="580.31" x2="38.71" y2="580.31" stroke="#1c5a8c" stroke-width="0.6" />
<line x1="43.11" y1="579.38" x2="43.11" y2="581.25" stroke="#1c5a8c" stroke-width="0.6" />
<line x1="42.21" y1="579.38" x2="44.01" y2="579.38" stroke="#1c5a8c" stroke-width="0.6" />
<line x1="42.21" y1="581.25" x2="44.01" y2="581.25" stroke="#1c5a8c" stroke-width="0.6" />
<line x1="48.04" y1="605.62" x2="48.04" y2="607.50" stroke="#1c5a8c" stroke-width="0.6" />
<line x1="47.14" y1="605.62" x2="48.94" y2="605.62" stroke="#1c5a8c" stroke-width="0.6" />
<line x1="47.14" y1="607.50" x2="48.94" y2="607.50" stroke="#1c5a8c" stroke-width="0.6" />
<line x1="52.96" y1="604.69" x2="52.96" y2="606.56" stroke="#1c5a8c" stroke-width="0.6" />
<line x1="52.06" y1="604.69" x2="53.86" y2="604.69" stroke="#1c5a8c" stroke-width="0.6" />
<line x1="52.06" y1="606.56" x2="53.86" y2="606.56" stroke="#1c5a8c" stroke-width="0.6" />
<line x1="58.26" y1="604.69" x2="58.26" y2="606.56" stroke="#1c5a8c" stroke-width="0.6" />
<line x1="57.36" y1="604.69" x2="59.16" y2="604.69" stroke="#1c5a8c" stroke-width="0.6" />
<line x1="57.36" y1="606.56" x2="59.16" y2="606.56" stroke="#1c5a8c" stroke-width="0.6" />
<line x1="63.19" y1="587.81" x2="63.19" y2="589.69" stroke="#1c5a8c" stroke-width="0.6" />
<line x1="62.29" y1="587.81" x2="64.09" y2="587.81" stroke="#1c5a8c" stroke-width="0.6" />
<line x1="62.29" y1="589.69" x2="64.09" y2="589.69" stroke="#1c5a8c" stroke-width="0.6" />
<line x1="68.11" y1="588.75" x2="68.11" y2="590.62" stroke="#1c5a8c" stroke-width="0.6" />
<line x1="67.21" y1="588.75" x2="69.01" y2="588.75" stroke="#1c5a8c" stroke-width="0.6" />
<line x1="67.21" y1="590.62" x2="69.01" y2="590.62" stroke="#1c5a8c" stroke-width="0.6" />
<line x1="73.41" y1="584.06" x2="73.41" y2="587.81" stroke="#1c5a8c" stroke-width="0.6" />
<line x1="72.51" y1="584.06" x2="74.31" y2="584.06" stroke="#1c5a8c" stroke-width="0.6" />
<line x1="72.51" y1="587.81" x2="74.31" y2="587.81" stroke="#1c5a8c" stroke-width="0.6" />
<line x1="78.34" y1="608.44" x2="78.34" y2="610.31" stroke="#1c5a8c" stroke-width="0.6" />
<line x1="77.44" y1="608.44" x2="79.24" y2="608.44" stroke="#1c5a8c" stroke-width="0.6" />
<line x1="77.44" y1="610.31" x2="79.24" y2="610.31" stroke="#1c5a8c" stroke-width="0.6" />
<line x1="83.26" y1="607.50" x2="83.26" y2="609.38" stroke="#1c5a8c" stroke-width="0.6" />
<line x1="82.36" y1="607.50" x2="84.16" y2="607.50" stroke="#1c5a8c" stroke-width="0.6" />
<line x1="82.36" y1="609.38" x2="84.16" y2="609.38" stroke="#1c5a8c" stroke-width="0.6" />
<line x1="88.56" y1="607.50" x2="88.56" y2="609.38" stroke="#1c5a8c" stroke-width="0.6" />
<line x1="87.66" y1="607.50" x2="89.46" y2="607.50" stroke="#1c5a8c" stroke-width="0.6" />
<line x1="87.66" y1="609.38" x2="89.46" y2="609.38" stroke="#1c5a8c" stroke-width="0.6" />
<line x1="93.49" y1="603.75" x2="93.49" y2="609.38" stroke="#1c5a8c" stroke-width="0.6" />
<line x1="92.59" y1="603.75" x2="94.39" y2="603.75" stroke="#1c5a8c" stroke-width="0.6" />
<line x1="92.59" y1="609.38" x2="94.39" y2="609.38" stroke="#1c5a8c" stroke-width="0.6" />
<line x1="98.41" y1="606.56" x2="98.41" y2="610.31" stroke="#1c5a8c" stroke-width="0.6" />
<line x1="97.51" y1="606.56" x2="99.31" y2="606.56" stroke="#1c5a8c" stroke-width="0.6" />
<line x1="97.51" y1="610.31" x2="99.31" y2="610.31" stroke="#1c5a8c" stroke-width="0.6" />
<line x1="103.71" y1="606.56" x2="103.71" y2="610.31" stroke="#1c5a8c" stroke-width="0.6" />
<line x1="102.81" y1="606.56" x2="104.61" y2="606.56" stroke="#1c5a8c" stroke-width="0.6" />
<line x1="102.81" y1="610.31" x2="104.61" y2="610.31" stroke="#1c5a8c" stroke-width="0.6" />
<circle cx="32.89" cy="575.62" r="0.9" fill="#1c5a8c"/>
<circle cx="37.81" cy="579.38" r="0.9" fill="#1c5a8c"/>
<circle cx="43.11" cy="580.31" r="0.9" fill="#1c5a8c"/>
<circle cx="48.04" cy="606.56" r="0.9" fill="#1c5a8c"/>
<circle cx="52.96" cy="605.62" r="0.9" fill="#1c5a8c"/>
<circle cx="58.26" cy="605.62" r="0.9" fill="#1c5a8c"/>
<circle cx="63.19" cy="588.75" r="0.9" fill="#1c5a8c"/>
<circle cx="68.11" cy="589.69" r="0.9" fill="#1c5a8c"/>
<circle cx="73.41" cy="585.94" r="0.9" fill="#1c5a8c"/>
<circle cx="78.34" cy="609.38" r="0.9" fill="#1c5a8c"/>
<circle cx="83.26" cy="608.44" r="0.9" fill="#1c5a8c"/>
<circle cx="88.56" cy="608.44" r="0.9" fill="#1c5a8c"/>
<circle cx="93.49" cy="606.56" r="0.9" fill="#1c5a8c"/>
<circle cx="98.41" cy="608.44" r="0.9" fill="#1c5a8c"/>
<circle cx="103.71" cy="608.44" r="0.9" fill="#1c5a8c"/>
<polyline points="32.89,571.88 37.81,574.69 43.11,575.62 48.04,596.25 52.96,596.25 58.26,595.31 63.19,570.00 68.11,571.88 73.41,569.06 78.34,593.44 83.26,593.44 88.56,593.44 93.49,594.38 98.41,596.25 103.71,596.25" fill="none" stroke="#c0102f" stroke-width="1.05"/>
<line x1="32.89" y1="570.00" x2="32.89" y2="573.75" stroke="#c0102f" stroke-width="0.6" />
<line x1="31.99" y1="570.00" x2="33.79" y2="570.00" stroke="#c0102f" stroke-width="0.6" />
<line x1="31.99" y1="573.75" x2="33.79" y2="573.75" stroke="#c0102f" stroke-width="0.6" />
<line x1="37.81" y1="572.81" x2="37.81" y2="576.56" stroke="#c0102f" stroke-width="0.6" />
<line x1="36.91" y1="572.81" x2="38.71" y2="572.81" stroke="#c0102f" stroke-width="0.6" />
<line x1="36.91" y1="576.56" x2="38.71" y2="576.56" stroke="#c0102f" stroke-width="0.6" />
<line x1="43.11" y1="573.75" x2="43.11" y2="577.50" stroke="#c0102f" stroke-width="0.6" />
<line x1="42.21" y1="573.75" x2="44.01" y2="573.75" stroke="#c0102f" stroke-width="0.6" />
<line x1="42.21" y1="577.50" x2="44.01" y2="577.50" stroke="#c0102f" stroke-width="0.6" />
<line x1="48.04" y1="595.31" x2="48.04" y2="597.19" stroke="#c0102f" stroke-width="0.6" />
<line x1="47.14" y1="595.31" x2="48.94" y2="595.31" stroke="#c0102f" stroke-width="0.6" />
<line x1="47.14" y1="597.19" x2="48.94" y2="597.19" stroke="#c0102f" stroke-width="0.6" />
<line x1="52.96" y1="595.31" x2="52.96" y2="597.19" stroke="#c0102f" stroke-width="0.6" />
<line x1="52.06" y1="595.31" x2="53.86" y2="595.31" stroke="#c0102f" stroke-width="0.6" />
<line x1="52.06" y1="597.19" x2="53.86" y2="597.19" stroke="#c0102f" stroke-width="0.6" />
<line x1="58.26" y1="594.38" x2="58.26" y2="596.25" stroke="#c0102f" stroke-width="0.6" />
<line x1="57.36" y1="594.38" x2="59.16" y2="594.38" stroke="#c0102f" stroke-width="0.6" />
<line x1="57.36" y1="596.25" x2="59.16" y2="596.25" stroke="#c0102f" stroke-width="0.6" />
<line x1="63.19" y1="562.50" x2="63.19" y2="577.50" stroke="#c0102f" stroke-width="0.6" />
<line x1="62.29" y1="562.50" x2="64.09" y2="562.50" stroke="#c0102f" stroke-width="0.6" />
<line x1="62.29" y1="577.50" x2="64.09" y2="577.50" stroke="#c0102f" stroke-width="0.6" />
<line x1="68.11" y1="566.25" x2="68.11" y2="577.50" stroke="#c0102f" stroke-width="0.6" />
<line x1="67.21" y1="566.25" x2="69.01" y2="566.25" stroke="#c0102f" stroke-width="0.6" />
<line x1="67.21" y1="577.50" x2="69.01" y2="577.50" stroke="#c0102f" stroke-width="0.6" />
<line x1="73.41" y1="561.56" x2="73.41" y2="576.56" stroke="#c0102f" stroke-width="0.6" />
<line x1="72.51" y1="561.56" x2="74.31" y2="561.56" stroke="#c0102f" stroke-width="0.6" />
<line x1="72.51" y1="576.56" x2="74.31" y2="576.56" stroke="#c0102f" stroke-width="0.6" />
<line x1="78.34" y1="589.69" x2="78.34" y2="597.19" stroke="#c0102f" stroke-width="0.6" />
<line x1="77.44" y1="589.69" x2="79.24" y2="589.69" stroke="#c0102f" stroke-width="0.6" />
<line x1="77.44" y1="597.19" x2="79.24" y2="597.19" stroke="#c0102f" stroke-width="0.6" />
<line x1="83.26" y1="589.69" x2="83.26" y2="597.19" stroke="#c0102f" stroke-width="0.6" />
<line x1="82.36" y1="589.69" x2="84.16" y2="589.69" stroke="#c0102f" stroke-width="0.6" />
<line x1="82.36" y1="597.19" x2="84.16" y2="597.19" stroke="#c0102f" stroke-width="0.6" />
<line x1="88.56" y1="589.69" x2="88.56" y2="597.19" stroke="#c0102f" stroke-width="0.6" />
<line x1="87.66" y1="589.69" x2="89.46" y2="589.69" stroke="#c0102f" stroke-width="0.6" />
<line x1="87.66" y1="597.19" x2="89.46" y2="597.19" stroke="#c0102f" stroke-width="0.6" />
<line x1="93.49" y1="590.62" x2="93.49" y2="598.12" stroke="#c0102f" stroke-width="0.6" />
<line x1="92.59" y1="590.62" x2="94.39" y2="590.62" stroke="#c0102f" stroke-width="0.6" />
<line x1="92.59" y1="598.12" x2="94.39" y2="598.12" stroke="#c0102f" stroke-width="0.6" />
<line x1="98.41" y1="593.44" x2="98.41" y2="599.06" stroke="#c0102f" stroke-width="0.6" />
<line x1="97.51" y1="593.44" x2="99.31" y2="593.44" stroke="#c0102f" stroke-width="0.6" />
<line x1="97.51" y1="599.06" x2="99.31" y2="599.06" stroke="#c0102f" stroke-width="0.6" />
<line x1="103.71" y1="593.44" x2="103.71" y2="599.06" stroke="#c0102f" stroke-width="0.6" />
<line x1="102.81" y1="593.44" x2="104.61" y2="593.44" stroke="#c0102f" stroke-width="0.6" />
<line x1="102.81" y1="599.06" x2="104.61" y2="599.06" stroke="#c0102f" stroke-width="0.6" />
<circle cx="32.89" cy="571.88" r="0.9" fill="#c0102f"/>
<circle cx="37.81" cy="574.69" r="0.9" fill="#c0102f"/>
<circle cx="43.11" cy="575.62" r="0.9" fill="#c0102f"/>
<circle cx="48.04" cy="596.25" r="0.9" fill="#c0102f"/>
<circle cx="52.96" cy="596.25" r="0.9" fill="#c0102f"/>
<circle cx="58.26" cy="595.31" r="0.9" fill="#c0102f"/>
<circle cx="63.19" cy="570.00" r="0.9" fill="#c0102f"/>
<circle cx="68.11" cy="571.88" r="0.9" fill="#c0102f"/>
<circle cx="73.41" cy="569.06" r="0.9" fill="#c0102f"/>
<circle cx="78.34" cy="593.44" r="0.9" fill="#c0102f"/>
<circle cx="83.26" cy="593.44" r="0.9" fill="#c0102f"/>
<circle cx="88.56" cy="593.44" r="0.9" fill="#c0102f"/>
<circle cx="93.49" cy="594.38" r="0.9" fill="#c0102f"/>
<circle cx="98.41" cy="596.25" r="0.9" fill="#c0102f"/>
<circle cx="103.71" cy="596.25" r="0.9" fill="#c0102f"/>
<text x="71.53" y="641.80" font-size="7.3" text-anchor="middle" textLength="32.00" lengthAdjust="spacingAndGlyphs">Time (min)</text>
<text x="13.40" y="579.80" font-size="7.0" text-anchor="middle" textLength="48.50" lengthAdjust="spacingAndGlyphs" transform="rotate(-90 13.40 579.80)">OCR (pmol/min)</text>
<text x="49.45" y="558.50" font-size="6.1" text-anchor="middle" textLength="31.90" lengthAdjust="spacingAndGlyphs">Oligomycin</text>
<line x1="43.90" y1="561.20" x2="43.90" y2="567.20" stroke="#222" stroke-width="0.9" />
<path d="M42.30,566.40 L45.50,566.40 L43.90,570.20 Z" fill="#111" stroke="none" stroke-width="0.8" />
<text x="61.10" y="541.90" font-size="6.1" text-anchor="middle" textLength="16.40" lengthAdjust="spacingAndGlyphs">FCCP</text>
<line x1="57.80" y1="543.90" x2="57.80" y2="552.00" stroke="#222" stroke-width="0.9" />
<path d="M56.20,551.20 L59.40,551.20 L57.80,555.00 Z" fill="#111" stroke="none" stroke-width="0.8" />
<text x="80.10" y="536.30" font-size="6.1" text-anchor="middle" textLength="31.60" lengthAdjust="spacingAndGlyphs">AntiA/Rote</text>
<line x1="74.40" y1="538.40" x2="74.40" y2="546.50" stroke="#222" stroke-width="0.9" />
<path d="M72.80,545.70 L76.00,545.70 L74.40,549.50 Z" fill="#111" stroke="none" stroke-width="0.8" />
<line x1="61.20" y1="559.60" x2="74.40" y2="559.60" stroke="#555" stroke-width="1.0" />
<text x="67.80" y="560.93" font-size="6.6" text-anchor="middle" fill="#222" textLength="5.00" lengthAdjust="spacingAndGlyphs">**</text>
<line x1="77.20" y1="559.60" x2="93.10" y2="559.60" stroke="#555" stroke-width="1.0" />
<text x="85.15" y="560.93" font-size="6.6" text-anchor="middle" fill="#222" textLength="2.50" lengthAdjust="spacingAndGlyphs">*</text>
<line x1="143.75" y1="542.75" x2="143.75" y2="619.25" stroke="#222" stroke-width="1.0" />
<line x1="140.55" y1="544.25" x2="143.75" y2="544.25" stroke="#222" stroke-width="1.0" />
<text x="138.15" y="546.45" font-size="6.1" text-anchor="end">40</text>
<line x1="140.55" y1="563.00" x2="143.75" y2="563.00" stroke="#222" stroke-width="1.0" />
<text x="138.15" y="565.20" font-size="6.1" text-anchor="end">30</text>
<line x1="140.55" y1="581.75" x2="143.75" y2="581.75" stroke="#222" stroke-width="1.0" />
<text x="138.15" y="583.95" font-size="6.1" text-anchor="end">20</text>
<line x1="140.55" y1="600.50" x2="143.75" y2="600.50" stroke="#222" stroke-width="1.0" />
<text x="138.15" y="602.70" font-size="6.1" text-anchor="end">10</text>
<line x1="140.55" y1="619.25" x2="143.75" y2="619.25" stroke="#222" stroke-width="1.0" />
<text x="138.15" y="621.45" font-size="6.1" text-anchor="end">0</text>
<line x1="143.75" y1="619.25" x2="220.00" y2="619.25" stroke="#222" stroke-width="0.8" />
<line x1="143.75" y1="619.25" x2="143.75" y2="621.05" stroke="#222" stroke-width="0.8" />
<text x="143.75" y="630.45" font-size="6.1" text-anchor="middle">0</text>
<line x1="158.50" y1="619.25" x2="158.50" y2="621.05" stroke="#222" stroke-width="0.8" />
<text x="158.50" y="630.45" font-size="6.1" text-anchor="middle">20</text>
<line x1="173.25" y1="619.25" x2="173.25" y2="621.05" stroke="#222" stroke-width="0.8" />
<text x="173.25" y="630.45" font-size="6.1" text-anchor="middle">40</text>
<line x1="188.00" y1="619.25" x2="188.00" y2="621.05" stroke="#222" stroke-width="0.8" />
<text x="188.00" y="630.45" font-size="6.1" text-anchor="middle">60</text>
<line x1="202.75" y1="619.25" x2="202.75" y2="621.05" stroke="#222" stroke-width="0.8" />
<text x="202.75" y="630.45" font-size="6.1" text-anchor="middle">80</text>
<line x1="217.50" y1="619.25" x2="217.50" y2="621.05" stroke="#222" stroke-width="0.8" />
<text x="217.50" y="630.45" font-size="6.1" text-anchor="middle">100</text>
<polyline points="144.86,597.69 149.65,596.75 154.81,595.81 159.61,582.69 164.40,578.94 169.56,577.06 174.36,571.44 179.15,571.44 184.31,572.38 189.11,577.06 193.90,576.12 199.06,576.12 203.86,615.50 208.65,615.88 213.81,615.50" fill="none" stroke="#1c5a8c" stroke-width="1.05"/>
<line x1="144.86" y1="596.19" x2="144.86" y2="599.19" stroke="#1c5a8c" stroke-width="0.6" />
<line x1="143.96" y1="596.19" x2="145.76" y2="596.19" stroke="#1c5a8c" stroke-width="0.6" />
<line x1="143.96" y1="599.19" x2="145.76" y2="599.19" stroke="#1c5a8c" stroke-width="0.6" />
<line x1="149.65" y1="595.25" x2="149.65" y2="598.25" stroke="#1c5a8c" stroke-width="0.6" />
<line x1="148.75" y1="595.25" x2="150.55" y2="595.25" stroke="#1c5a8c" stroke-width="0.6" />
<line x1="148.75" y1="598.25" x2="150.55" y2="598.25" stroke="#1c5a8c" stroke-width="0.6" />
<line x1="154.81" y1="594.31" x2="154.81" y2="597.31" stroke="#1c5a8c" stroke-width="0.6" />
<line x1="153.91" y1="594.31" x2="155.71" y2="594.31" stroke="#1c5a8c" stroke-width="0.6" />
<line x1="153.91" y1="597.31" x2="155.71" y2="597.31" stroke="#1c5a8c" stroke-width="0.6" />
<line x1="159.61" y1="579.88" x2="159.61" y2="585.50" stroke="#1c5a8c" stroke-width="0.6" />
<line x1="158.71" y1="579.88" x2="160.51" y2="579.88" stroke="#1c5a8c" stroke-width="0.6" />
<line x1="158.71" y1="585.50" x2="160.51" y2="585.50" stroke="#1c5a8c" stroke-width="0.6" />
<line x1="164.40" y1="576.12" x2="164.40" y2="581.75" stroke="#1c5a8c" stroke-width="0.6" />
<line x1="163.50" y1="576.12" x2="165.30" y2="576.12" stroke="#1c5a8c" stroke-width="0.6" />
<line x1="163.50" y1="581.75" x2="165.30" y2="581.75" stroke="#1c5a8c" stroke-width="0.6" />
<line x1="169.56" y1="574.25" x2="169.56" y2="579.88" stroke="#1c5a8c" stroke-width="0.6" />
<line x1="168.66" y1="574.25" x2="170.46" y2="574.25" stroke="#1c5a8c" stroke-width="0.6" />
<line x1="168.66" y1="579.88" x2="170.46" y2="579.88" stroke="#1c5a8c" stroke-width="0.6" />
<line x1="174.36" y1="568.62" x2="174.36" y2="574.25" stroke="#1c5a8c" stroke-width="0.6" />
<line x1="173.46" y1="568.62" x2="175.26" y2="568.62" stroke="#1c5a8c" stroke-width="0.6" />
<line x1="173.46" y1="574.25" x2="175.26" y2="574.25" stroke="#1c5a8c" stroke-width="0.6" />
<line x1="179.15" y1="568.62" x2="179.15" y2="574.25" stroke="#1c5a8c" stroke-width="0.6" />
<line x1="178.25" y1="568.62" x2="180.05" y2="568.62" stroke="#1c5a8c" stroke-width="0.6" />
<line x1="178.25" y1="574.25" x2="180.05" y2="574.25" stroke="#1c5a8c" stroke-width="0.6" />
<line x1="184.31" y1="569.94" x2="184.31" y2="574.81" stroke="#1c5a8c" stroke-width="0.6" />
<line x1="183.41" y1="569.94" x2="185.21" y2="569.94" stroke="#1c5a8c" stroke-width="0.6" />
<line x1="183.41" y1="574.81" x2="185.21" y2="574.81" stroke="#1c5a8c" stroke-width="0.6" />
<line x1="189.11" y1="575.19" x2="189.11" y2="578.94" stroke="#1c5a8c" stroke-width="0.6" />
<line x1="188.21" y1="575.19" x2="190.01" y2="575.19" stroke="#1c5a8c" stroke-width="0.6" />
<line x1="188.21" y1="578.94" x2="190.01" y2="578.94" stroke="#1c5a8c" stroke-width="0.6" />
<line x1="193.90" y1="574.25" x2="193.90" y2="578.00" stroke="#1c5a8c" stroke-width="0.6" />
<line x1="193.00" y1="574.25" x2="194.80" y2="574.25" stroke="#1c5a8c" stroke-width="0.6" />
<line x1="193.00" y1="578.00" x2="194.80" y2="578.00" stroke="#1c5a8c" stroke-width="0.6" />
<line x1="199.06" y1="574.25" x2="199.06" y2="578.00" stroke="#1c5a8c" stroke-width="0.6" />
<line x1="198.16" y1="574.25" x2="199.96" y2="574.25" stroke="#1c5a8c" stroke-width="0.6" />
<line x1="198.16" y1="578.00" x2="199.96" y2="578.00" stroke="#1c5a8c" stroke-width="0.6" />
<line x1="203.86" y1="614.94" x2="203.86" y2="616.06" stroke="#1c5a8c" stroke-width="0.6" />
<line x1="202.96" y1="614.94" x2="204.76" y2="614.94" stroke="#1c5a8c" stroke-width="0.6" />
<line x1="202.96" y1="616.06" x2="204.76" y2="616.06" stroke="#1c5a8c" stroke-width="0.6" />
<line x1="208.65" y1="615.31" x2="208.65" y2="616.44" stroke="#1c5a8c" stroke-width="0.6" />
<line x1="207.75" y1="615.31" x2="209.55" y2="615.31" stroke="#1c5a8c" stroke-width="0.6" />
<line x1="207.75" y1="616.44" x2="209.55" y2="616.44" stroke="#1c5a8c" stroke-width="0.6" />
<line x1="213.81" y1="614.94" x2="213.81" y2="616.06" stroke="#1c5a8c" stroke-width="0.6" />
<line x1="212.91" y1="614.94" x2="214.71" y2="614.94" stroke="#1c5a8c" stroke-width="0.6" />
<line x1="212.91" y1="616.06" x2="214.71" y2="616.06" stroke="#1c5a8c" stroke-width="0.6" />
<circle cx="144.86" cy="597.69" r="0.9" fill="#1c5a8c"/>
<circle cx="149.65" cy="596.75" r="0.9" fill="#1c5a8c"/>
<circle cx="154.81" cy="595.81" r="0.9" fill="#1c5a8c"/>
<circle cx="159.61" cy="582.69" r="0.9" fill="#1c5a8c"/>
<circle cx="164.40" cy="578.94" r="0.9" fill="#1c5a8c"/>
<circle cx="169.56" cy="577.06" r="0.9" fill="#1c5a8c"/>
<circle cx="174.36" cy="571.44" r="0.9" fill="#1c5a8c"/>
<circle cx="179.15" cy="571.44" r="0.9" fill="#1c5a8c"/>
<circle cx="184.31" cy="572.38" r="0.9" fill="#1c5a8c"/>
<circle cx="189.11" cy="577.06" r="0.9" fill="#1c5a8c"/>
<circle cx="193.90" cy="576.12" r="0.9" fill="#1c5a8c"/>
<circle cx="199.06" cy="576.12" r="0.9" fill="#1c5a8c"/>
<circle cx="203.86" cy="615.50" r="0.9" fill="#1c5a8c"/>
<circle cx="208.65" cy="615.88" r="0.9" fill="#1c5a8c"/>
<circle cx="213.81" cy="615.50" r="0.9" fill="#1c5a8c"/>
<polyline points="144.86,589.25 149.65,588.31 154.81,587.38 159.61,570.50 164.40,566.75 169.56,565.81 174.36,559.25 179.15,560.19 184.31,561.12 189.11,564.88 193.90,563.94 199.06,563.94 203.86,615.50 208.65,615.88 213.81,615.50" fill="none" stroke="#c0102f" stroke-width="1.05"/>
<line x1="144.86" y1="588.31" x2="144.86" y2="590.19" stroke="#c0102f" stroke-width="0.6" />
<line x1="143.96" y1="588.31" x2="145.76" y2="588.31" stroke="#c0102f" stroke-width="0.6" />
<line x1="143.96" y1="590.19" x2="145.76" y2="590.19" stroke="#c0102f" stroke-width="0.6" />
<line x1="149.65" y1="587.38" x2="149.65" y2="589.25" stroke="#c0102f" stroke-width="0.6" />
<line x1="148.75" y1="587.38" x2="150.55" y2="587.38" stroke="#c0102f" stroke-width="0.6" />
<line x1="148.75" y1="589.25" x2="150.55" y2="589.25" stroke="#c0102f" stroke-width="0.6" />
<line x1="154.81" y1="586.44" x2="154.81" y2="588.31" stroke="#c0102f" stroke-width="0.6" />
<line x1="153.91" y1="586.44" x2="155.71" y2="586.44" stroke="#c0102f" stroke-width="0.6" />
<line x1="153.91" y1="588.31" x2="155.71" y2="588.31" stroke="#c0102f" stroke-width="0.6" />
<line x1="159.61" y1="568.62" x2="159.61" y2="572.38" stroke="#c0102f" stroke-width="0.6" />
<line x1="158.71" y1="568.62" x2="160.51" y2="568.62" stroke="#c0102f" stroke-width="0.6" />
<line x1="158.71" y1="572.38" x2="160.51" y2="572.38" stroke="#c0102f" stroke-width="0.6" />
<line x1="164.40" y1="564.88" x2="164.40" y2="568.62" stroke="#c0102f" stroke-width="0.6" />
<line x1="163.50" y1="564.88" x2="165.30" y2="564.88" stroke="#c0102f" stroke-width="0.6" />
<line x1="163.50" y1="568.62" x2="165.30" y2="568.62" stroke="#c0102f" stroke-width="0.6" />
<line x1="169.56" y1="563.94" x2="169.56" y2="567.69" stroke="#c0102f" stroke-width="0.6" />
<line x1="168.66" y1="563.94" x2="170.46" y2="563.94" stroke="#c0102f" stroke-width="0.6" />
<line x1="168.66" y1="567.69" x2="170.46" y2="567.69" stroke="#c0102f" stroke-width="0.6" />
<line x1="174.36" y1="557.00" x2="174.36" y2="561.50" stroke="#c0102f" stroke-width="0.6" />
<line x1="173.46" y1="557.00" x2="175.26" y2="557.00" stroke="#c0102f" stroke-width="0.6" />
<line x1="173.46" y1="561.50" x2="175.26" y2="561.50" stroke="#c0102f" stroke-width="0.6" />
<line x1="179.15" y1="557.94" x2="179.15" y2="562.44" stroke="#c0102f" stroke-width="0.6" />
<line x1="178.25" y1="557.94" x2="180.05" y2="557.94" stroke="#c0102f" stroke-width="0.6" />
<line x1="178.25" y1="562.44" x2="180.05" y2="562.44" stroke="#c0102f" stroke-width="0.6" />
<line x1="184.31" y1="559.25" x2="184.31" y2="563.00" stroke="#c0102f" stroke-width="0.6" />
<line x1="183.41" y1="559.25" x2="185.21" y2="559.25" stroke="#c0102f" stroke-width="0.6" />
<line x1="183.41" y1="563.00" x2="185.21" y2="563.00" stroke="#c0102f" stroke-width="0.6" />
<line x1="189.11" y1="563.75" x2="189.11" y2="566.00" stroke="#c0102f" stroke-width="0.6" />
<line x1="188.21" y1="563.75" x2="190.01" y2="563.75" stroke="#c0102f" stroke-width="0.6" />
<line x1="188.21" y1="566.00" x2="190.01" y2="566.00" stroke="#c0102f" stroke-width="0.6" />
<line x1="193.90" y1="562.81" x2="193.90" y2="565.06" stroke="#c0102f" stroke-width="0.6" />
<line x1="193.00" y1="562.81" x2="194.80" y2="562.81" stroke="#c0102f" stroke-width="0.6" />
<line x1="193.00" y1="565.06" x2="194.80" y2="565.06" stroke="#c0102f" stroke-width="0.6" />
<line x1="199.06" y1="562.81" x2="199.06" y2="565.06" stroke="#c0102f" stroke-width="0.6" />
<line x1="198.16" y1="562.81" x2="199.96" y2="562.81" stroke="#c0102f" stroke-width="0.6" />
<line x1="198.16" y1="565.06" x2="199.96" y2="565.06" stroke="#c0102f" stroke-width="0.6" />
<line x1="203.86" y1="614.94" x2="203.86" y2="616.06" stroke="#c0102f" stroke-width="0.6" />
<line x1="202.96" y1="614.94" x2="204.76" y2="614.94" stroke="#c0102f" stroke-width="0.6" />
<line x1="202.96" y1="616.06" x2="204.76" y2="616.06" stroke="#c0102f" stroke-width="0.6" />
<line x1="208.65" y1="615.31" x2="208.65" y2="616.44" stroke="#c0102f" stroke-width="0.6" />
<line x1="207.75" y1="615.31" x2="209.55" y2="615.31" stroke="#c0102f" stroke-width="0.6" />
<line x1="207.75" y1="616.44" x2="209.55" y2="616.44" stroke="#c0102f" stroke-width="0.6" />
<line x1="213.81" y1="614.94" x2="213.81" y2="616.06" stroke="#c0102f" stroke-width="0.6" />
<line x1="212.91" y1="614.94" x2="214.71" y2="614.94" stroke="#c0102f" stroke-width="0.6" />
<line x1="212.91" y1="616.06" x2="214.71" y2="616.06" stroke="#c0102f" stroke-width="0.6" />
<circle cx="144.86" cy="589.25" r="0.9" fill="#c0102f"/>
<circle cx="149.65" cy="588.31" r="0.9" fill="#c0102f"/>
<circle cx="154.81" cy="587.38" r="0.9" fill="#c0102f"/>
<circle cx="159.61" cy="570.50" r="0.9" fill="#c0102f"/>
<circle cx="164.40" cy="566.75" r="0.9" fill="#c0102f"/>
<circle cx="169.56" cy="565.81" r="0.9" fill="#c0102f"/>
<circle cx="174.36" cy="559.25" r="0.9" fill="#c0102f"/>
<circle cx="179.15" cy="560.19" r="0.9" fill="#c0102f"/>
<circle cx="184.31" cy="561.12" r="0.9" fill="#c0102f"/>
<circle cx="189.11" cy="564.88" r="0.9" fill="#c0102f"/>
<circle cx="193.90" cy="563.94" r="0.9" fill="#c0102f"/>
<circle cx="199.06" cy="563.94" r="0.9" fill="#c0102f"/>
<circle cx="203.86" cy="615.50" r="0.9" fill="#c0102f"/>
<circle cx="208.65" cy="615.88" r="0.9" fill="#c0102f"/>
<circle cx="213.81" cy="615.50" r="0.9" fill="#c0102f"/>
<text x="182.53" y="641.80" font-size="7.3" text-anchor="middle" textLength="32.00" lengthAdjust="spacingAndGlyphs">Time (min)</text>
<text x="124.80" y="583.20" font-size="7.0" text-anchor="middle" textLength="51.00" lengthAdjust="spacingAndGlyphs" transform="rotate(-90 124.80 583.20)">ECAR (mpH/min)</text>
<text x="160.90" y="555.90" font-size="6.1" text-anchor="middle" textLength="32.40" lengthAdjust="spacingAndGlyphs">Oligomycin</text>
<line x1="156.10" y1="558.30" x2="156.10" y2="564.70" stroke="#222" stroke-width="0.9" />
<path d="M154.50,563.90 L157.70,563.90 L156.10,567.70 Z" fill="#111" stroke="none" stroke-width="0.8" />
<text x="170.00" y="535.40" font-size="6.1" text-anchor="middle" textLength="15.80" lengthAdjust="spacingAndGlyphs">FCCP</text>
<line x1="170.30" y1="537.80" x2="170.30" y2="544.20" stroke="#222" stroke-width="0.9" />
<path d="M168.70,543.40 L171.90,543.40 L170.30,547.20 Z" fill="#111" stroke="none" stroke-width="0.8" />
<text x="195.20" y="530.70" font-size="6.1" text-anchor="middle" textLength="31.60" lengthAdjust="spacingAndGlyphs">AntiA/Rote</text>
<line x1="190.20" y1="533.80" x2="190.20" y2="540.30" stroke="#222" stroke-width="0.9" />
<path d="M188.60,539.50 L191.80,539.50 L190.20,543.30 Z" fill="#111" stroke="none" stroke-width="0.8" />
<text x="204.30" y="537.80" font-size="6.1" text-anchor="middle" textLength="15.00" lengthAdjust="spacingAndGlyphs">2-DG</text>
<line x1="203.90" y1="540.90" x2="203.90" y2="548.20" stroke="#222" stroke-width="0.9" />
<path d="M202.30,547.40 L205.50,547.40 L203.90,551.20 Z" fill="#111" stroke="none" stroke-width="0.8" />
<line x1="144.70" y1="571.20" x2="157.40" y2="571.20" stroke="#555" stroke-width="1.0" />
<text x="151.05" y="571.73" font-size="6.6" text-anchor="middle" fill="#222" textLength="2.50" lengthAdjust="spacingAndGlyphs">*</text>
<line x1="168.40" y1="550.70" x2="181.30" y2="550.70" stroke="#555" stroke-width="1.0" />
<text x="174.85" y="551.83" font-size="6.6" text-anchor="middle" fill="#222" textLength="7.50" lengthAdjust="spacingAndGlyphs">***</text>
<line x1="190.80" y1="551.20" x2="203.10" y2="551.20" stroke="#555" stroke-width="1.0" />
<text x="196.95" y="552.33" font-size="6.6" text-anchor="middle" fill="#222" textLength="7.50" lengthAdjust="spacingAndGlyphs">***</text>
<line x1="204.40" y1="565.40" x2="217.30" y2="565.40" stroke="#555" stroke-width="1.0" />
<text x="210.85" y="566.53" font-size="6.6" text-anchor="middle" fill="#222" textLength="7.50" lengthAdjust="spacingAndGlyphs">***</text>
<text x="240.20" y="517.00" font-size="11" fill="#111" font-weight="bold" stroke="#111" stroke-width="0.45">K</text>
<line x1="267.25" y1="544.75" x2="267.25" y2="619.25" stroke="#222" stroke-width="1.0" />
<line x1="264.05" y1="546.25" x2="267.25" y2="546.25" stroke="#222" stroke-width="1.0" />
<text x="261.65" y="548.45" font-size="6.1" text-anchor="end">100</text>
<line x1="264.05" y1="560.85" x2="267.25" y2="560.85" stroke="#222" stroke-width="1.0" />
<text x="261.65" y="563.05" font-size="6.1" text-anchor="end">80</text>
<line x1="264.05" y1="575.45" x2="267.25" y2="575.45" stroke="#222" stroke-width="1.0" />
<text x="261.65" y="577.65" font-size="6.1" text-anchor="end">60</text>
<line x1="264.05" y1="590.05" x2="267.25" y2="590.05" stroke="#222" stroke-width="1.0" />
<text x="261.65" y="592.25" font-size="6.1" text-anchor="end">40</text>
<line x1="264.05" y1="604.65" x2="267.25" y2="604.65" stroke="#222" stroke-width="1.0" />
<text x="261.65" y="606.85" font-size="6.1" text-anchor="end">20</text>
<line x1="264.05" y1="619.25" x2="267.25" y2="619.25" stroke="#222" stroke-width="1.0" />
<text x="261.65" y="621.45" font-size="6.1" text-anchor="end">0</text>
<line x1="267.25" y1="619.25" x2="342.50" y2="619.25" stroke="#222" stroke-width="0.8" />
<line x1="267.25" y1="619.25" x2="267.25" y2="621.05" stroke="#222" stroke-width="0.8" />
<text x="267.25" y="630.45" font-size="6.1" text-anchor="middle">0</text>
<line x1="281.80" y1="619.25" x2="281.80" y2="621.05" stroke="#222" stroke-width="0.8" />
<text x="281.80" y="630.45" font-size="6.1" text-anchor="middle">20</text>
<line x1="296.35" y1="619.25" x2="296.35" y2="621.05" stroke="#222" stroke-width="0.8" />
<text x="296.35" y="630.45" font-size="6.1" text-anchor="middle">40</text>
<line x1="310.90" y1="619.25" x2="310.90" y2="621.05" stroke="#222" stroke-width="0.8" />
<text x="310.90" y="630.45" font-size="6.1" text-anchor="middle">60</text>
<line x1="325.45" y1="619.25" x2="325.45" y2="621.05" stroke="#222" stroke-width="0.8" />
<text x="325.45" y="630.45" font-size="6.1" text-anchor="middle">80</text>
<line x1="340.00" y1="619.25" x2="340.00" y2="621.05" stroke="#222" stroke-width="0.8" />
<text x="340.00" y="630.45" font-size="6.1" text-anchor="middle">100</text>
<polyline points="268.34,585.67 273.07,587.86 278.16,588.59 282.89,607.57 287.62,608.30 292.71,608.30 297.44,589.32 302.17,589.32 307.26,586.40 311.99,611.22 316.72,609.03 321.81,609.03 326.54,606.84 331.27,609.76 336.36,614.14" fill="none" stroke="#1c5a8c" stroke-width="1.05"/>
<line x1="268.34" y1="584.94" x2="268.34" y2="586.40" stroke="#1c5a8c" stroke-width="0.6" />
<line x1="267.44" y1="584.94" x2="269.24" y2="584.94" stroke="#1c5a8c" stroke-width="0.6" />
<line x1="267.44" y1="586.40" x2="269.24" y2="586.40" stroke="#1c5a8c" stroke-width="0.6" />
<line x1="273.07" y1="587.13" x2="273.07" y2="588.59" stroke="#1c5a8c" stroke-width="0.6" />
<line x1="272.17" y1="587.13" x2="273.97" y2="587.13" stroke="#1c5a8c" stroke-width="0.6" />
<line x1="272.17" y1="588.59" x2="273.97" y2="588.59" stroke="#1c5a8c" stroke-width="0.6" />
<line x1="278.16" y1="587.86" x2="278.16" y2="589.32" stroke="#1c5a8c" stroke-width="0.6" />
<line x1="277.26" y1="587.86" x2="279.06" y2="587.86" stroke="#1c5a8c" stroke-width="0.6" />
<line x1="277.26" y1="589.32" x2="279.06" y2="589.32" stroke="#1c5a8c" stroke-width="0.6" />
<line x1="282.89" y1="606.11" x2="282.89" y2="609.03" stroke="#1c5a8c" stroke-width="0.6" />
<line x1="281.99" y1="606.11" x2="283.79" y2="606.11" stroke="#1c5a8c" stroke-width="0.6" />
<line x1="281.99" y1="609.03" x2="283.79" y2="609.03" stroke="#1c5a8c" stroke-width="0.6" />
<line x1="287.62" y1="606.84" x2="287.62" y2="609.76" stroke="#1c5a8c" stroke-width="0.6" />
<line x1="286.72" y1="606.84" x2="288.52" y2="606.84" stroke="#1c5a8c" stroke-width="0.6" />
<line x1="286.72" y1="609.76" x2="288.52" y2="609.76" stroke="#1c5a8c" stroke-width="0.6" />
<line x1="292.71" y1="606.84" x2="292.71" y2="609.76" stroke="#1c5a8c" stroke-width="0.6" />
<line x1="291.81" y1="606.84" x2="293.61" y2="606.84" stroke="#1c5a8c" stroke-width="0.6" />
<line x1="291.81" y1="609.76" x2="293.61" y2="609.76" stroke="#1c5a8c" stroke-width="0.6" />
<line x1="297.44" y1="587.13" x2="297.44" y2="591.51" stroke="#1c5a8c" stroke-width="0.6" />
<line x1="296.54" y1="587.13" x2="298.34" y2="587.13" stroke="#1c5a8c" stroke-width="0.6" />
<line x1="296.54" y1="591.51" x2="298.34" y2="591.51" stroke="#1c5a8c" stroke-width="0.6" />
<line x1="302.17" y1="587.13" x2="302.17" y2="591.51" stroke="#1c5a8c" stroke-width="0.6" />
<line x1="301.27" y1="587.13" x2="303.07" y2="587.13" stroke="#1c5a8c" stroke-width="0.6" />
<line x1="301.27" y1="591.51" x2="303.07" y2="591.51" stroke="#1c5a8c" stroke-width="0.6" />
<line x1="307.26" y1="583.48" x2="307.26" y2="589.32" stroke="#1c5a8c" stroke-width="0.6" />
<line x1="306.36" y1="583.48" x2="308.16" y2="583.48" stroke="#1c5a8c" stroke-width="0.6" />
<line x1="306.36" y1="589.32" x2="308.16" y2="589.32" stroke="#1c5a8c" stroke-width="0.6" />
<line x1="311.99" y1="609.03" x2="311.99" y2="613.41" stroke="#1c5a8c" stroke-width="0.6" />
<line x1="311.09" y1="609.03" x2="312.89" y2="609.03" stroke="#1c5a8c" stroke-width="0.6" />
<line x1="311.09" y1="613.41" x2="312.89" y2="613.41" stroke="#1c5a8c" stroke-width="0.6" />
<line x1="316.72" y1="606.84" x2="316.72" y2="611.22" stroke="#1c5a8c" stroke-width="0.6" />
<line x1="315.82" y1="606.84" x2="317.62" y2="606.84" stroke="#1c5a8c" stroke-width="0.6" />
<line x1="315.82" y1="611.22" x2="317.62" y2="611.22" stroke="#1c5a8c" stroke-width="0.6" />
<line x1="321.81" y1="606.84" x2="321.81" y2="611.22" stroke="#1c5a8c" stroke-width="0.6" />
<line x1="320.91" y1="606.84" x2="322.71" y2="606.84" stroke="#1c5a8c" stroke-width="0.6" />
<line x1="320.91" y1="611.22" x2="322.71" y2="611.22" stroke="#1c5a8c" stroke-width="0.6" />
<line x1="326.54" y1="603.19" x2="326.54" y2="610.49" stroke="#1c5a8c" stroke-width="0.6" />
<line x1="325.64" y1="603.19" x2="327.44" y2="603.19" stroke="#1c5a8c" stroke-width="0.6" />
<line x1="325.64" y1="610.49" x2="327.44" y2="610.49" stroke="#1c5a8c" stroke-width="0.6" />
<line x1="331.27" y1="607.57" x2="331.27" y2="611.95" stroke="#1c5a8c" stroke-width="0.6" />
<line x1="330.37" y1="607.57" x2="332.17" y2="607.57" stroke="#1c5a8c" stroke-width="0.6" />
<line x1="330.37" y1="611.95" x2="332.17" y2="611.95" stroke="#1c5a8c" stroke-width="0.6" />
<line x1="336.36" y1="612.68" x2="336.36" y2="615.60" stroke="#1c5a8c" stroke-width="0.6" />
<line x1="335.46" y1="612.68" x2="337.26" y2="612.68" stroke="#1c5a8c" stroke-width="0.6" />
<line x1="335.46" y1="615.60" x2="337.26" y2="615.60" stroke="#1c5a8c" stroke-width="0.6" />
<circle cx="268.34" cy="585.67" r="0.9" fill="#1c5a8c"/>
<circle cx="273.07" cy="587.86" r="0.9" fill="#1c5a8c"/>
<circle cx="278.16" cy="588.59" r="0.9" fill="#1c5a8c"/>
<circle cx="282.89" cy="607.57" r="0.9" fill="#1c5a8c"/>
<circle cx="287.62" cy="608.30" r="0.9" fill="#1c5a8c"/>
<circle cx="292.71" cy="608.30" r="0.9" fill="#1c5a8c"/>
<circle cx="297.44" cy="589.32" r="0.9" fill="#1c5a8c"/>
<circle cx="302.17" cy="589.32" r="0.9" fill="#1c5a8c"/>
<circle cx="307.26" cy="586.40" r="0.9" fill="#1c5a8c"/>
<circle cx="311.99" cy="611.22" r="0.9" fill="#1c5a8c"/>
<circle cx="316.72" cy="609.03" r="0.9" fill="#1c5a8c"/>
<circle cx="321.81" cy="609.03" r="0.9" fill="#1c5a8c"/>
<circle cx="326.54" cy="606.84" r="0.9" fill="#1c5a8c"/>
<circle cx="331.27" cy="609.76" r="0.9" fill="#1c5a8c"/>
<circle cx="336.36" cy="614.14" r="0.9" fill="#1c5a8c"/>
<polyline points="268.34,568.15 273.07,571.80 278.16,572.53 282.89,602.46 287.62,602.46 292.71,602.46 297.44,569.61 302.17,570.34 307.26,573.26 311.99,610.49 316.72,609.76 321.81,607.57 326.54,609.03 331.27,610.49 336.36,614.14" fill="none" stroke="#c0102f" stroke-width="1.05"/>
<line x1="268.34" y1="565.96" x2="268.34" y2="570.34" stroke="#c0102f" stroke-width="0.6" />
<line x1="267.44" y1="565.96" x2="269.24" y2="565.96" stroke="#c0102f" stroke-width="0.6" />
<line x1="267.44" y1="570.34" x2="269.24" y2="570.34" stroke="#c0102f" stroke-width="0.6" />
<line x1="273.07" y1="570.34" x2="273.07" y2="573.26" stroke="#c0102f" stroke-width="0.6" />
<line x1="272.17" y1="570.34" x2="273.97" y2="570.34" stroke="#c0102f" stroke-width="0.6" />
<line x1="272.17" y1="573.26" x2="273.97" y2="573.26" stroke="#c0102f" stroke-width="0.6" />
<line x1="278.16" y1="571.07" x2="278.16" y2="573.99" stroke="#c0102f" stroke-width="0.6" />
<line x1="277.26" y1="571.07" x2="279.06" y2="571.07" stroke="#c0102f" stroke-width="0.6" />
<line x1="277.26" y1="573.99" x2="279.06" y2="573.99" stroke="#c0102f" stroke-width="0.6" />
<line x1="282.89" y1="597.35" x2="282.89" y2="607.57" stroke="#c0102f" stroke-width="0.6" />
<line x1="281.99" y1="597.35" x2="283.79" y2="597.35" stroke="#c0102f" stroke-width="0.6" />
<line x1="281.99" y1="607.57" x2="283.79" y2="607.57" stroke="#c0102f" stroke-width="0.6" />
<line x1="287.62" y1="597.35" x2="287.62" y2="607.57" stroke="#c0102f" stroke-width="0.6" />
<line x1="286.72" y1="597.35" x2="288.52" y2="597.35" stroke="#c0102f" stroke-width="0.6" />
<line x1="286.72" y1="607.57" x2="288.52" y2="607.57" stroke="#c0102f" stroke-width="0.6" />
<line x1="292.71" y1="597.35" x2="292.71" y2="607.57" stroke="#c0102f" stroke-width="0.6" />
<line x1="291.81" y1="597.35" x2="293.61" y2="597.35" stroke="#c0102f" stroke-width="0.6" />
<line x1="291.81" y1="607.57" x2="293.61" y2="607.57" stroke="#c0102f" stroke-width="0.6" />
<line x1="297.44" y1="560.85" x2="297.44" y2="578.37" stroke="#c0102f" stroke-width="0.6" />
<line x1="296.54" y1="560.85" x2="298.34" y2="560.85" stroke="#c0102f" stroke-width="0.6" />
<line x1="296.54" y1="578.37" x2="298.34" y2="578.37" stroke="#c0102f" stroke-width="0.6" />
<line x1="302.17" y1="564.50" x2="302.17" y2="576.18" stroke="#c0102f" stroke-width="0.6" />
<line x1="301.27" y1="564.50" x2="303.07" y2="564.50" stroke="#c0102f" stroke-width="0.6" />
<line x1="301.27" y1="576.18" x2="303.07" y2="576.18" stroke="#c0102f" stroke-width="0.6" />
<line x1="307.26" y1="569.61" x2="307.26" y2="576.91" stroke="#c0102f" stroke-width="0.6" />
<line x1="306.36" y1="569.61" x2="308.16" y2="569.61" stroke="#c0102f" stroke-width="0.6" />
<line x1="306.36" y1="576.91" x2="308.16" y2="576.91" stroke="#c0102f" stroke-width="0.6" />
<line x1="311.99" y1="605.38" x2="311.99" y2="615.60" stroke="#c0102f" stroke-width="0.6" />
<line x1="311.09" y1="605.38" x2="312.89" y2="605.38" stroke="#c0102f" stroke-width="0.6" />
<line x1="311.09" y1="615.60" x2="312.89" y2="615.60" stroke="#c0102f" stroke-width="0.6" />
<line x1="316.72" y1="603.92" x2="316.72" y2="615.60" stroke="#c0102f" stroke-width="0.6" />
<line x1="315.82" y1="603.92" x2="317.62" y2="603.92" stroke="#c0102f" stroke-width="0.6" />
<line x1="315.82" y1="615.60" x2="317.62" y2="615.60" stroke="#c0102f" stroke-width="0.6" />
<line x1="321.81" y1="601.00" x2="321.81" y2="614.14" stroke="#c0102f" stroke-width="0.6" />
<line x1="320.91" y1="601.00" x2="322.71" y2="601.00" stroke="#c0102f" stroke-width="0.6" />
<line x1="320.91" y1="614.14" x2="322.71" y2="614.14" stroke="#c0102f" stroke-width="0.6" />
<line x1="326.54" y1="600.27" x2="326.54" y2="617.79" stroke="#c0102f" stroke-width="0.6" />
<line x1="325.64" y1="600.27" x2="327.44" y2="600.27" stroke="#c0102f" stroke-width="0.6" />
<line x1="325.64" y1="617.79" x2="327.44" y2="617.79" stroke="#c0102f" stroke-width="0.6" />
<line x1="331.27" y1="605.38" x2="331.27" y2="615.60" stroke="#c0102f" stroke-width="0.6" />
<line x1="330.37" y1="605.38" x2="332.17" y2="605.38" stroke="#c0102f" stroke-width="0.6" />
<line x1="330.37" y1="615.60" x2="332.17" y2="615.60" stroke="#c0102f" stroke-width="0.6" />
<line x1="336.36" y1="610.49" x2="336.36" y2="617.79" stroke="#c0102f" stroke-width="0.6" />
<line x1="335.46" y1="610.49" x2="337.26" y2="610.49" stroke="#c0102f" stroke-width="0.6" />
<line x1="335.46" y1="617.79" x2="337.26" y2="617.79" stroke="#c0102f" stroke-width="0.6" />
<circle cx="268.34" cy="568.15" r="0.9" fill="#c0102f"/>
<circle cx="273.07" cy="571.80" r="0.9" fill="#c0102f"/>
<circle cx="278.16" cy="572.53" r="0.9" fill="#c0102f"/>
<circle cx="282.89" cy="602.46" r="0.9" fill="#c0102f"/>
<circle cx="287.62" cy="602.46" r="0.9" fill="#c0102f"/>
<circle cx="292.71" cy="602.46" r="0.9" fill="#c0102f"/>
<circle cx="297.44" cy="569.61" r="0.9" fill="#c0102f"/>
<circle cx="302.17" cy="570.34" r="0.9" fill="#c0102f"/>
<circle cx="307.26" cy="573.26" r="0.9" fill="#c0102f"/>
<circle cx="311.99" cy="610.49" r="0.9" fill="#c0102f"/>
<circle cx="316.72" cy="609.76" r="0.9" fill="#c0102f"/>
<circle cx="321.81" cy="607.57" r="0.9" fill="#c0102f"/>
<circle cx="326.54" cy="609.03" r="0.9" fill="#c0102f"/>
<circle cx="331.27" cy="610.49" r="0.9" fill="#c0102f"/>
<circle cx="336.36" cy="614.14" r="0.9" fill="#c0102f"/>
<text x="305.52" y="641.80" font-size="7.3" text-anchor="middle" textLength="32.00" lengthAdjust="spacingAndGlyphs">Time (min)</text>
<text x="245.40" y="586.00" font-size="7.0" text-anchor="middle" textLength="45.00" lengthAdjust="spacingAndGlyphs" transform="rotate(-90 245.40 586.00)">OCR (pmol/min)</text>
<text x="285.25" y="556.20" font-size="6.1" text-anchor="middle" textLength="33.90" lengthAdjust="spacingAndGlyphs">Oligomycin</text>
<line x1="278.90" y1="558.50" x2="278.90" y2="565.70" stroke="#222" stroke-width="0.9" />
<path d="M277.30,564.90 L280.50,564.90 L278.90,568.70 Z" fill="#111" stroke="none" stroke-width="0.8" />
<text x="290.70" y="540.50" font-size="6.1" text-anchor="middle" textLength="16.00" lengthAdjust="spacingAndGlyphs">FCCP</text>
<line x1="293.90" y1="542.70" x2="293.90" y2="549.20" stroke="#222" stroke-width="0.9" />
<path d="M292.30,548.40 L295.50,548.40 L293.90,552.20 Z" fill="#111" stroke="none" stroke-width="0.8" />
<text x="316.90" y="540.50" font-size="6.1" text-anchor="middle" textLength="31.20" lengthAdjust="spacingAndGlyphs">AntiA/Rote</text>
<line x1="310.00" y1="542.70" x2="310.00" y2="548.70" stroke="#222" stroke-width="0.9" />
<path d="M308.40,547.90 L311.60,547.90 L310.00,551.70 Z" fill="#111" stroke="none" stroke-width="0.8" />
<line x1="295.30" y1="557.30" x2="310.70" y2="557.30" stroke="#555" stroke-width="1.0" />
<text x="303.00" y="559.33" font-size="6.6" text-anchor="middle" fill="#222" textLength="2.50" lengthAdjust="spacingAndGlyphs">*</text>
<line x1="376.60" y1="542.90" x2="376.60" y2="619.00" stroke="#222" stroke-width="1.0" />
<line x1="373.40" y1="544.40" x2="376.60" y2="544.40" stroke="#222" stroke-width="1.0" />
<text x="371.00" y="546.60" font-size="6.1" text-anchor="end">80</text>
<line x1="373.40" y1="563.05" x2="376.60" y2="563.05" stroke="#222" stroke-width="1.0" />
<text x="371.00" y="565.25" font-size="6.1" text-anchor="end">60</text>
<line x1="373.40" y1="581.70" x2="376.60" y2="581.70" stroke="#222" stroke-width="1.0" />
<text x="371.00" y="583.90" font-size="6.1" text-anchor="end">40</text>
<line x1="373.40" y1="600.35" x2="376.60" y2="600.35" stroke="#222" stroke-width="1.0" />
<text x="371.00" y="602.55" font-size="6.1" text-anchor="end">20</text>
<line x1="373.40" y1="619.00" x2="376.60" y2="619.00" stroke="#222" stroke-width="1.0" />
<text x="371.00" y="621.20" font-size="6.1" text-anchor="end">0</text>
<line x1="376.60" y1="619.00" x2="455.00" y2="619.00" stroke="#222" stroke-width="0.8" />
<line x1="376.60" y1="619.00" x2="376.60" y2="620.80" stroke="#222" stroke-width="0.8" />
<text x="376.60" y="630.20" font-size="6.1" text-anchor="middle">0</text>
<line x1="391.54" y1="619.00" x2="391.54" y2="620.80" stroke="#222" stroke-width="0.8" />
<text x="391.54" y="630.20" font-size="6.1" text-anchor="middle">20</text>
<line x1="406.48" y1="619.00" x2="406.48" y2="620.80" stroke="#222" stroke-width="0.8" />
<text x="406.48" y="630.20" font-size="6.1" text-anchor="middle">40</text>
<line x1="421.42" y1="619.00" x2="421.42" y2="620.80" stroke="#222" stroke-width="0.8" />
<text x="421.42" y="630.20" font-size="6.1" text-anchor="middle">60</text>
<line x1="436.36" y1="619.00" x2="436.36" y2="620.80" stroke="#222" stroke-width="0.8" />
<text x="436.36" y="630.20" font-size="6.1" text-anchor="middle">80</text>
<line x1="451.30" y1="619.00" x2="451.30" y2="620.80" stroke="#222" stroke-width="0.8" />
<text x="451.30" y="630.20" font-size="6.1" text-anchor="middle">100</text>
<polyline points="377.72,609.67 382.58,609.67 387.81,609.67 392.66,601.28 397.52,600.35 402.75,599.42 407.60,592.89 412.46,591.96 417.69,590.09 422.54,598.49 427.40,597.55 432.62,597.55 437.48,616.20 442.34,616.20 447.56,616.20" fill="none" stroke="#1c5a8c" stroke-width="1.05"/>
<line x1="377.72" y1="609.21" x2="377.72" y2="610.14" stroke="#1c5a8c" stroke-width="0.6" />
<line x1="376.82" y1="609.21" x2="378.62" y2="609.21" stroke="#1c5a8c" stroke-width="0.6" />
<line x1="376.82" y1="610.14" x2="378.62" y2="610.14" stroke="#1c5a8c" stroke-width="0.6" />
<line x1="382.58" y1="609.21" x2="382.58" y2="610.14" stroke="#1c5a8c" stroke-width="0.6" />
<line x1="381.68" y1="609.21" x2="383.48" y2="609.21" stroke="#1c5a8c" stroke-width="0.6" />
<line x1="381.68" y1="610.14" x2="383.48" y2="610.14" stroke="#1c5a8c" stroke-width="0.6" />
<line x1="387.81" y1="609.21" x2="387.81" y2="610.14" stroke="#1c5a8c" stroke-width="0.6" />
<line x1="386.91" y1="609.21" x2="388.70" y2="609.21" stroke="#1c5a8c" stroke-width="0.6" />
<line x1="386.91" y1="610.14" x2="388.70" y2="610.14" stroke="#1c5a8c" stroke-width="0.6" />
<line x1="392.66" y1="600.35" x2="392.66" y2="602.22" stroke="#1c5a8c" stroke-width="0.6" />
<line x1="391.76" y1="600.35" x2="393.56" y2="600.35" stroke="#1c5a8c" stroke-width="0.6" />
<line x1="391.76" y1="602.22" x2="393.56" y2="602.22" stroke="#1c5a8c" stroke-width="0.6" />
<line x1="397.52" y1="599.42" x2="397.52" y2="601.28" stroke="#1c5a8c" stroke-width="0.6" />
<line x1="396.62" y1="599.42" x2="398.42" y2="599.42" stroke="#1c5a8c" stroke-width="0.6" />
<line x1="396.62" y1="601.28" x2="398.42" y2="601.28" stroke="#1c5a8c" stroke-width="0.6" />
<line x1="402.75" y1="598.49" x2="402.75" y2="600.35" stroke="#1c5a8c" stroke-width="0.6" />
<line x1="401.85" y1="598.49" x2="403.64" y2="598.49" stroke="#1c5a8c" stroke-width="0.6" />
<line x1="401.85" y1="600.35" x2="403.64" y2="600.35" stroke="#1c5a8c" stroke-width="0.6" />
<line x1="407.60" y1="591.96" x2="407.60" y2="593.82" stroke="#1c5a8c" stroke-width="0.6" />
<line x1="406.70" y1="591.96" x2="408.50" y2="591.96" stroke="#1c5a8c" stroke-width="0.6" />
<line x1="406.70" y1="593.82" x2="408.50" y2="593.82" stroke="#1c5a8c" stroke-width="0.6" />
<line x1="412.46" y1="591.02" x2="412.46" y2="592.89" stroke="#1c5a8c" stroke-width="0.6" />
<line x1="411.56" y1="591.02" x2="413.36" y2="591.02" stroke="#1c5a8c" stroke-width="0.6" />
<line x1="411.56" y1="592.89" x2="413.36" y2="592.89" stroke="#1c5a8c" stroke-width="0.6" />
<line x1="417.69" y1="589.16" x2="417.69" y2="591.02" stroke="#1c5a8c" stroke-width="0.6" />
<line x1="416.79" y1="589.16" x2="418.58" y2="589.16" stroke="#1c5a8c" stroke-width="0.6" />
<line x1="416.79" y1="591.02" x2="418.58" y2="591.02" stroke="#1c5a8c" stroke-width="0.6" />
<line x1="422.54" y1="596.62" x2="422.54" y2="600.35" stroke="#1c5a8c" stroke-width="0.6" />
<line x1="421.64" y1="596.62" x2="423.44" y2="596.62" stroke="#1c5a8c" stroke-width="0.6" />
<line x1="421.64" y1="600.35" x2="423.44" y2="600.35" stroke="#1c5a8c" stroke-width="0.6" />
<line x1="427.40" y1="595.69" x2="427.40" y2="599.42" stroke="#1c5a8c" stroke-width="0.6" />
<line x1="426.50" y1="595.69" x2="428.30" y2="595.69" stroke="#1c5a8c" stroke-width="0.6" />
<line x1="426.50" y1="599.42" x2="428.30" y2="599.42" stroke="#1c5a8c" stroke-width="0.6" />
<line x1="432.62" y1="595.69" x2="432.62" y2="599.42" stroke="#1c5a8c" stroke-width="0.6" />
<line x1="431.73" y1="595.69" x2="433.52" y2="595.69" stroke="#1c5a8c" stroke-width="0.6" />
<line x1="431.73" y1="599.42" x2="433.52" y2="599.42" stroke="#1c5a8c" stroke-width="0.6" />
<line x1="437.48" y1="615.74" x2="437.48" y2="616.67" stroke="#1c5a8c" stroke-width="0.6" />
<line x1="436.58" y1="615.74" x2="438.38" y2="615.74" stroke="#1c5a8c" stroke-width="0.6" />
<line x1="436.58" y1="616.67" x2="438.38" y2="616.67" stroke="#1c5a8c" stroke-width="0.6" />
<line x1="442.34" y1="615.74" x2="442.34" y2="616.67" stroke="#1c5a8c" stroke-width="0.6" />
<line x1="441.44" y1="615.74" x2="443.24" y2="615.74" stroke="#1c5a8c" stroke-width="0.6" />
<line x1="441.44" y1="616.67" x2="443.24" y2="616.67" stroke="#1c5a8c" stroke-width="0.6" />
<line x1="447.56" y1="615.74" x2="447.56" y2="616.67" stroke="#1c5a8c" stroke-width="0.6" />
<line x1="446.67" y1="615.74" x2="448.46" y2="615.74" stroke="#1c5a8c" stroke-width="0.6" />
<line x1="446.67" y1="616.67" x2="448.46" y2="616.67" stroke="#1c5a8c" stroke-width="0.6" />
<circle cx="377.72" cy="609.67" r="0.9" fill="#1c5a8c"/>
<circle cx="382.58" cy="609.67" r="0.9" fill="#1c5a8c"/>
<circle cx="387.81" cy="609.67" r="0.9" fill="#1c5a8c"/>
<circle cx="392.66" cy="601.28" r="0.9" fill="#1c5a8c"/>
<circle cx="397.52" cy="600.35" r="0.9" fill="#1c5a8c"/>
<circle cx="402.75" cy="599.42" r="0.9" fill="#1c5a8c"/>
<circle cx="407.60" cy="592.89" r="0.9" fill="#1c5a8c"/>
<circle cx="412.46" cy="591.96" r="0.9" fill="#1c5a8c"/>
<circle cx="417.69" cy="590.09" r="0.9" fill="#1c5a8c"/>
<circle cx="422.54" cy="598.49" r="0.9" fill="#1c5a8c"/>
<circle cx="427.40" cy="597.55" r="0.9" fill="#1c5a8c"/>
<circle cx="432.62" cy="597.55" r="0.9" fill="#1c5a8c"/>
<circle cx="437.48" cy="616.20" r="0.9" fill="#1c5a8c"/>
<circle cx="442.34" cy="616.20" r="0.9" fill="#1c5a8c"/>
<circle cx="447.56" cy="616.20" r="0.9" fill="#1c5a8c"/>
<polyline points="377.72,602.22 382.58,602.22 387.81,602.22 392.66,589.16 397.52,588.23 402.75,587.29 407.60,573.31 412.46,572.38 417.69,570.51 422.54,588.23 427.40,586.36 432.62,585.43 437.48,616.20 442.34,616.20 447.56,616.20" fill="none" stroke="#c0102f" stroke-width="1.05"/>
<line x1="377.72" y1="601.28" x2="377.72" y2="603.15" stroke="#c0102f" stroke-width="0.6" />
<line x1="376.82" y1="601.28" x2="378.62" y2="601.28" stroke="#c0102f" stroke-width="0.6" />
<line x1="376.82" y1="603.15" x2="378.62" y2="603.15" stroke="#c0102f" stroke-width="0.6" />
<line x1="382.58" y1="601.28" x2="382.58" y2="603.15" stroke="#c0102f" stroke-width="0.6" />
<line x1="381.68" y1="601.28" x2="383.48" y2="601.28" stroke="#c0102f" stroke-width="0.6" />
<line x1="381.68" y1="603.15" x2="383.48" y2="603.15" stroke="#c0102f" stroke-width="0.6" />
<line x1="387.81" y1="601.28" x2="387.81" y2="603.15" stroke="#c0102f" stroke-width="0.6" />
<line x1="386.91" y1="601.28" x2="388.70" y2="601.28" stroke="#c0102f" stroke-width="0.6" />
<line x1="386.91" y1="603.15" x2="388.70" y2="603.15" stroke="#c0102f" stroke-width="0.6" />
<line x1="392.66" y1="587.29" x2="392.66" y2="591.02" stroke="#c0102f" stroke-width="0.6" />
<line x1="391.76" y1="587.29" x2="393.56" y2="587.29" stroke="#c0102f" stroke-width="0.6" />
<line x1="391.76" y1="591.02" x2="393.56" y2="591.02" stroke="#c0102f" stroke-width="0.6" />
<line x1="397.52" y1="586.36" x2="397.52" y2="590.09" stroke="#c0102f" stroke-width="0.6" />
<line x1="396.62" y1="586.36" x2="398.42" y2="586.36" stroke="#c0102f" stroke-width="0.6" />
<line x1="396.62" y1="590.09" x2="398.42" y2="590.09" stroke="#c0102f" stroke-width="0.6" />
<line x1="402.75" y1="585.43" x2="402.75" y2="589.16" stroke="#c0102f" stroke-width="0.6" />
<line x1="401.85" y1="585.43" x2="403.64" y2="585.43" stroke="#c0102f" stroke-width="0.6" />
<line x1="401.85" y1="589.16" x2="403.64" y2="589.16" stroke="#c0102f" stroke-width="0.6" />
<line x1="407.60" y1="570.51" x2="407.60" y2="576.11" stroke="#c0102f" stroke-width="0.6" />
<line x1="406.70" y1="570.51" x2="408.50" y2="570.51" stroke="#c0102f" stroke-width="0.6" />
<line x1="406.70" y1="576.11" x2="408.50" y2="576.11" stroke="#c0102f" stroke-width="0.6" />
<line x1="412.46" y1="569.58" x2="412.46" y2="575.17" stroke="#c0102f" stroke-width="0.6" />
<line x1="411.56" y1="569.58" x2="413.36" y2="569.58" stroke="#c0102f" stroke-width="0.6" />
<line x1="411.56" y1="575.17" x2="413.36" y2="575.17" stroke="#c0102f" stroke-width="0.6" />
<line x1="417.69" y1="567.71" x2="417.69" y2="573.31" stroke="#c0102f" stroke-width="0.6" />
<line x1="416.79" y1="567.71" x2="418.58" y2="567.71" stroke="#c0102f" stroke-width="0.6" />
<line x1="416.79" y1="573.31" x2="418.58" y2="573.31" stroke="#c0102f" stroke-width="0.6" />
<line x1="422.54" y1="582.63" x2="422.54" y2="593.82" stroke="#c0102f" stroke-width="0.6" />
<line x1="421.64" y1="582.63" x2="423.44" y2="582.63" stroke="#c0102f" stroke-width="0.6" />
<line x1="421.64" y1="593.82" x2="423.44" y2="593.82" stroke="#c0102f" stroke-width="0.6" />
<line x1="427.40" y1="579.83" x2="427.40" y2="592.89" stroke="#c0102f" stroke-width="0.6" />
<line x1="426.50" y1="579.83" x2="428.30" y2="579.83" stroke="#c0102f" stroke-width="0.6" />
<line x1="426.50" y1="592.89" x2="428.30" y2="592.89" stroke="#c0102f" stroke-width="0.6" />
<line x1="432.62" y1="577.97" x2="432.62" y2="592.89" stroke="#c0102f" stroke-width="0.6" />
<line x1="431.73" y1="577.97" x2="433.52" y2="577.97" stroke="#c0102f" stroke-width="0.6" />
<line x1="431.73" y1="592.89" x2="433.52" y2="592.89" stroke="#c0102f" stroke-width="0.6" />
<line x1="437.48" y1="615.27" x2="437.48" y2="617.13" stroke="#c0102f" stroke-width="0.6" />
<line x1="436.58" y1="615.27" x2="438.38" y2="615.27" stroke="#c0102f" stroke-width="0.6" />
<line x1="436.58" y1="617.13" x2="438.38" y2="617.13" stroke="#c0102f" stroke-width="0.6" />
<line x1="442.34" y1="615.27" x2="442.34" y2="617.13" stroke="#c0102f" stroke-width="0.6" />
<line x1="441.44" y1="615.27" x2="443.24" y2="615.27" stroke="#c0102f" stroke-width="0.6" />
<line x1="441.44" y1="617.13" x2="443.24" y2="617.13" stroke="#c0102f" stroke-width="0.6" />
<line x1="447.56" y1="615.27" x2="447.56" y2="617.13" stroke="#c0102f" stroke-width="0.6" />
<line x1="446.67" y1="615.27" x2="448.46" y2="615.27" stroke="#c0102f" stroke-width="0.6" />
<line x1="446.67" y1="617.13" x2="448.46" y2="617.13" stroke="#c0102f" stroke-width="0.6" />
<circle cx="377.72" cy="602.22" r="0.9" fill="#c0102f"/>
<circle cx="382.58" cy="602.22" r="0.9" fill="#c0102f"/>
<circle cx="387.81" cy="602.22" r="0.9" fill="#c0102f"/>
<circle cx="392.66" cy="589.16" r="0.9" fill="#c0102f"/>
<circle cx="397.52" cy="588.23" r="0.9" fill="#c0102f"/>
<circle cx="402.75" cy="587.29" r="0.9" fill="#c0102f"/>
<circle cx="407.60" cy="573.31" r="0.9" fill="#c0102f"/>
<circle cx="412.46" cy="572.38" r="0.9" fill="#c0102f"/>
<circle cx="417.69" cy="570.51" r="0.9" fill="#c0102f"/>
<circle cx="422.54" cy="588.23" r="0.9" fill="#c0102f"/>
<circle cx="427.40" cy="586.36" r="0.9" fill="#c0102f"/>
<circle cx="432.62" cy="585.43" r="0.9" fill="#c0102f"/>
<circle cx="437.48" cy="616.20" r="0.9" fill="#c0102f"/>
<circle cx="442.34" cy="616.20" r="0.9" fill="#c0102f"/>
<circle cx="447.56" cy="616.20" r="0.9" fill="#c0102f"/>
<text x="415.85" y="641.80" font-size="7.3" text-anchor="middle" textLength="32.00" lengthAdjust="spacingAndGlyphs">Time (min)</text>
<text x="358.30" y="587.20" font-size="7.0" text-anchor="middle" textLength="50.40" lengthAdjust="spacingAndGlyphs" transform="rotate(-90 358.30 587.20)">ECAR (mpH/min)</text>
<text x="393.70" y="569.20" font-size="6.1" text-anchor="middle" textLength="30.00" lengthAdjust="spacingAndGlyphs">Oligomycin</text>
<line x1="386.50" y1="571.70" x2="386.50" y2="578.50" stroke="#222" stroke-width="0.9" />
<path d="M384.90,577.70 L388.10,577.70 L386.50,581.50 Z" fill="#111" stroke="none" stroke-width="0.8" />
<text x="404.10" y="553.30" font-size="6.1" text-anchor="middle" textLength="16.20" lengthAdjust="spacingAndGlyphs">FCCP</text>
<line x1="403.50" y1="555.20" x2="403.50" y2="561.70" stroke="#222" stroke-width="0.9" />
<path d="M401.90,560.90 L405.10,560.90 L403.50,564.70 Z" fill="#111" stroke="none" stroke-width="0.8" />
<text x="422.25" y="544.30" font-size="6.1" text-anchor="middle" textLength="31.50" lengthAdjust="spacingAndGlyphs">AntiA/Rote</text>
<line x1="420.30" y1="547.70" x2="420.30" y2="554.50" stroke="#222" stroke-width="0.9" />
<path d="M418.70,553.70 L421.90,553.70 L420.30,557.50 Z" fill="#111" stroke="none" stroke-width="0.8" />
<text x="433.65" y="560.20" font-size="6.1" text-anchor="middle" textLength="14.70" lengthAdjust="spacingAndGlyphs">2-DG</text>
<line x1="433.50" y1="562.70" x2="433.50" y2="569.80" stroke="#222" stroke-width="0.9" />
<path d="M431.90,569.00 L435.10,569.00 L433.50,572.80 Z" fill="#111" stroke="none" stroke-width="0.8" />
<line x1="406.20" y1="563.90" x2="420.70" y2="563.90" stroke="#555" stroke-width="1.0" />
<text x="413.45" y="565.53" font-size="6.6" text-anchor="middle" fill="#222" textLength="5.00" lengthAdjust="spacingAndGlyphs">**</text>
<line x1="450.20" y1="584.10" x2="456.00" y2="584.10" stroke="#c0102f" stroke-width="0.8" />
<circle cx="453.10" cy="584.10" r="0.9" fill="#c0102f"/>
<text x="458.2" y="585.6" font-size="6.6" textLength="53" lengthAdjust="spacingAndGlyphs"><tspan font-style="italic">Asct2 Bcma</tspan>-CART</text>
<line x1="450.20" y1="593.70" x2="456.00" y2="593.70" stroke="#1c5a8c" stroke-width="0.8" />
<circle cx="453.10" cy="593.70" r="0.9" fill="#1c5a8c"/>
<text x="458.2" y="595.9" font-size="6.6" textLength="37" lengthAdjust="spacingAndGlyphs"><tspan font-style="italic">Bcma</tspan>-CART</text>
<rect x="0.5" y="0.5" width="519" height="650" fill="none" stroke="#555" stroke-width="1.2"/>
</svg></body></html>
